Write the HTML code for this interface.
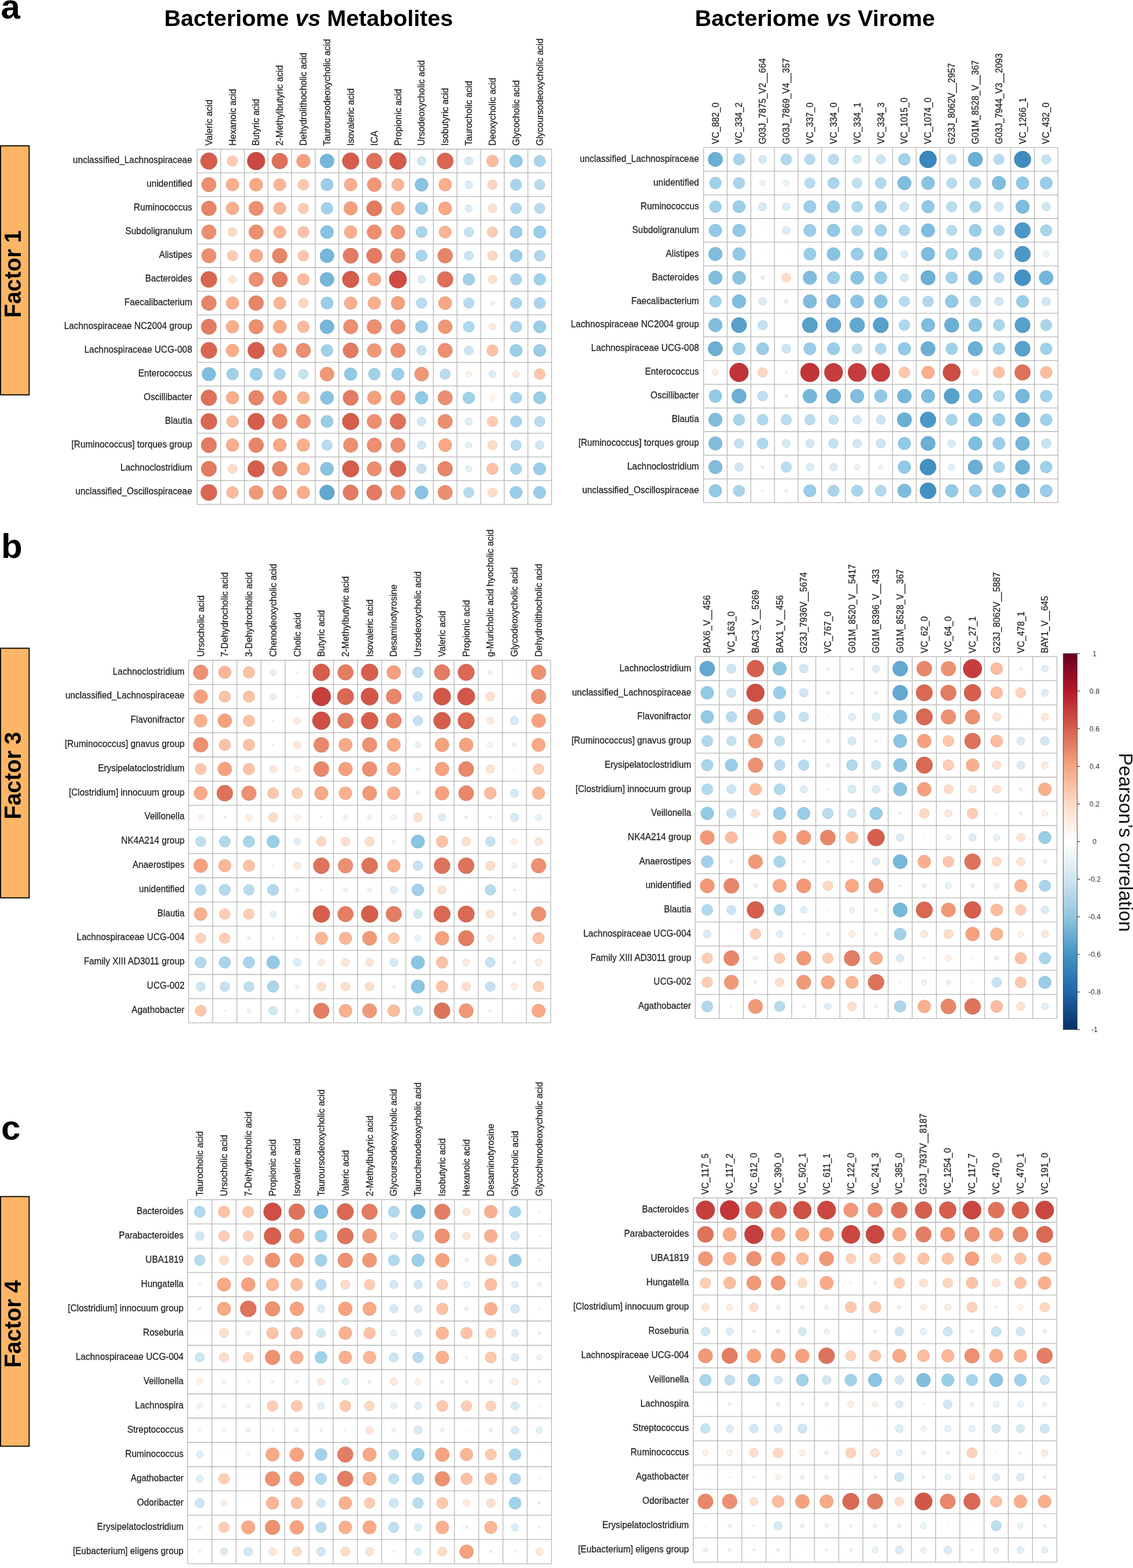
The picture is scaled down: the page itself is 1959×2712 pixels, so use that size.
<!DOCTYPE html><html><head><meta charset="utf-8"><title>Bacteriome correlations</title><style>html,body{margin:0;padding:0;background:#fff;}svg{display:block;filter:blur(0.4px);}text{font-family:"Liberation Sans",Arial,Helvetica,sans-serif;}</style></head><body>
<svg width="1959" height="2712" viewBox="0 0 1959 2712">
<rect x="0" y="0" width="1959" height="2712" fill="#fff"/>
<text x="1.5" y="31.5" font-size="60" font-weight="bold" fill="#000">a</text>
<text x="2" y="964.5" font-size="60" font-weight="bold" fill="#000">b</text>
<text x="2" y="1971" font-size="60" font-weight="bold" fill="#000">c</text>
<text x="284" y="44.7" font-size="39.6" font-weight="bold" fill="#000">Bacteriome <tspan font-style="italic">vs</tspan> Metabolites</text>
<text x="1201.5" y="44.9" font-size="39.6" font-weight="bold" fill="#000">Bacteriome <tspan font-style="italic">vs</tspan> Virome</text>
<rect x="1" y="252.2" width="49.4" height="430.7" fill="#FDB566" stroke="#1a1008" stroke-width="2"/>
<text transform="translate(35.5,473.9) rotate(-90) scale(0.937,1)" text-anchor="middle" font-size="41.5" font-weight="bold" fill="#000">Factor 1</text>
<rect x="1" y="1121.2" width="49.4" height="431.7" fill="#FDB566" stroke="#1a1008" stroke-width="2"/>
<text transform="translate(35.5,1341.4) rotate(-90) scale(0.937,1)" text-anchor="middle" font-size="41.5" font-weight="bold" fill="#000">Factor 3</text>
<rect x="1" y="2069.6" width="49.4" height="431.8" fill="#FDB566" stroke="#1a1008" stroke-width="2"/>
<text transform="translate(35.5,2289.9) rotate(-90) scale(0.937,1)" text-anchor="middle" font-size="41.5" font-weight="bold" fill="#000">Factor 4</text>
<g stroke="#b6b6b6" stroke-width="1.3" fill="none">
<line x1="340.70" y1="258.00" x2="340.70" y2="872.30"/>
<line x1="340.70" y1="258.00" x2="953.60" y2="258.00"/>
<line x1="381.56" y1="258.00" x2="381.56" y2="872.30"/>
<line x1="340.70" y1="298.95" x2="953.60" y2="298.95"/>
<line x1="422.42" y1="258.00" x2="422.42" y2="872.30"/>
<line x1="340.70" y1="339.91" x2="953.60" y2="339.91"/>
<line x1="463.28" y1="258.00" x2="463.28" y2="872.30"/>
<line x1="340.70" y1="380.86" x2="953.60" y2="380.86"/>
<line x1="504.14" y1="258.00" x2="504.14" y2="872.30"/>
<line x1="340.70" y1="421.81" x2="953.60" y2="421.81"/>
<line x1="545.00" y1="258.00" x2="545.00" y2="872.30"/>
<line x1="340.70" y1="462.77" x2="953.60" y2="462.77"/>
<line x1="585.86" y1="258.00" x2="585.86" y2="872.30"/>
<line x1="340.70" y1="503.72" x2="953.60" y2="503.72"/>
<line x1="626.72" y1="258.00" x2="626.72" y2="872.30"/>
<line x1="340.70" y1="544.67" x2="953.60" y2="544.67"/>
<line x1="667.58" y1="258.00" x2="667.58" y2="872.30"/>
<line x1="340.70" y1="585.63" x2="953.60" y2="585.63"/>
<line x1="708.44" y1="258.00" x2="708.44" y2="872.30"/>
<line x1="340.70" y1="626.58" x2="953.60" y2="626.58"/>
<line x1="749.30" y1="258.00" x2="749.30" y2="872.30"/>
<line x1="340.70" y1="667.53" x2="953.60" y2="667.53"/>
<line x1="790.16" y1="258.00" x2="790.16" y2="872.30"/>
<line x1="340.70" y1="708.49" x2="953.60" y2="708.49"/>
<line x1="831.02" y1="258.00" x2="831.02" y2="872.30"/>
<line x1="340.70" y1="749.44" x2="953.60" y2="749.44"/>
<line x1="871.88" y1="258.00" x2="871.88" y2="872.30"/>
<line x1="340.70" y1="790.39" x2="953.60" y2="790.39"/>
<line x1="912.74" y1="258.00" x2="912.74" y2="872.30"/>
<line x1="340.70" y1="831.35" x2="953.60" y2="831.35"/>
<line x1="953.60" y1="258.00" x2="953.60" y2="872.30"/>
<line x1="340.70" y1="872.30" x2="953.60" y2="872.30"/>
</g>
<circle cx="361.13" cy="278.48" r="14.46" fill="#d45d4c" stroke="#a94a3c" stroke-opacity="0.55" stroke-width="0.8"/>
<circle cx="401.99" cy="278.48" r="9.16" fill="#ffccb2" stroke="#cca38e" stroke-opacity="0.55" stroke-width="0.8"/>
<circle cx="442.85" cy="278.48" r="15.41" fill="#cb4942" stroke="#a23a34" stroke-opacity="0.55" stroke-width="0.8"/>
<circle cx="483.71" cy="278.48" r="13.70" fill="#dd715a" stroke="#b05a48" stroke-opacity="0.55" stroke-width="0.8"/>
<circle cx="524.57" cy="278.48" r="11.81" fill="#f5a07d" stroke="#c48064" stroke-opacity="0.55" stroke-width="0.8"/>
<circle cx="565.43" cy="278.48" r="12.19" fill="#75b7da" stroke="#5d92ae" stroke-opacity="0.55" stroke-width="0.8"/>
<circle cx="606.29" cy="278.48" r="14.46" fill="#d45d4c" stroke="#a94a3c" stroke-opacity="0.55" stroke-width="0.8"/>
<circle cx="647.15" cy="278.48" r="13.70" fill="#dd715a" stroke="#b05a48" stroke-opacity="0.55" stroke-width="0.8"/>
<circle cx="688.01" cy="278.48" r="14.65" fill="#d3594a" stroke="#a8473b" stroke-opacity="0.55" stroke-width="0.8"/>
<circle cx="728.87" cy="278.48" r="7.73" fill="#cee7f3" stroke="#a4b8c2" stroke-opacity="0.55" stroke-width="0.8"/>
<circle cx="769.73" cy="278.48" r="14.08" fill="#d96652" stroke="#ad5141" stroke-opacity="0.55" stroke-width="0.8"/>
<circle cx="810.59" cy="278.48" r="7.11" fill="#d4eaf5" stroke="#a9bbc4" stroke-opacity="0.55" stroke-width="0.8"/>
<circle cx="851.45" cy="278.48" r="10.30" fill="#fcbb9c" stroke="#c9957c" stroke-opacity="0.55" stroke-width="0.8"/>
<circle cx="892.31" cy="278.48" r="11.06" fill="#91c9e6" stroke="#74a0b8" stroke-opacity="0.55" stroke-width="0.8"/>
<circle cx="933.17" cy="278.48" r="9.92" fill="#a8d5ec" stroke="#86aabc" stroke-opacity="0.55" stroke-width="0.8"/>
<circle cx="361.13" cy="319.43" r="12.57" fill="#ec8e70" stroke="#bc7159" stroke-opacity="0.55" stroke-width="0.8"/>
<circle cx="401.99" cy="319.43" r="11.06" fill="#faae8c" stroke="#c88b70" stroke-opacity="0.55" stroke-width="0.8"/>
<circle cx="442.85" cy="319.43" r="11.43" fill="#f8a884" stroke="#c68669" stroke-opacity="0.55" stroke-width="0.8"/>
<circle cx="483.71" cy="319.43" r="10.68" fill="#fbb594" stroke="#c89076" stroke-opacity="0.55" stroke-width="0.8"/>
<circle cx="524.57" cy="319.43" r="9.54" fill="#fec7ab" stroke="#cb9f88" stroke-opacity="0.55" stroke-width="0.8"/>
<circle cx="565.43" cy="319.43" r="10.68" fill="#99cde8" stroke="#7aa4b9" stroke-opacity="0.55" stroke-width="0.8"/>
<circle cx="606.29" cy="319.43" r="11.06" fill="#faae8c" stroke="#c88b70" stroke-opacity="0.55" stroke-width="0.8"/>
<circle cx="647.15" cy="319.43" r="12.19" fill="#f09776" stroke="#c0785e" stroke-opacity="0.55" stroke-width="0.8"/>
<circle cx="688.01" cy="319.43" r="10.68" fill="#fbb594" stroke="#c89076" stroke-opacity="0.55" stroke-width="0.8"/>
<circle cx="728.87" cy="319.43" r="11.43" fill="#88c4e2" stroke="#6c9cb4" stroke-opacity="0.55" stroke-width="0.8"/>
<circle cx="769.73" cy="319.43" r="11.06" fill="#faae8c" stroke="#c88b70" stroke-opacity="0.55" stroke-width="0.8"/>
<circle cx="810.59" cy="319.43" r="6.70" fill="#d9ecf7" stroke="#adbcc5" stroke-opacity="0.55" stroke-width="0.8"/>
<circle cx="851.45" cy="319.43" r="8.35" fill="#ffd6c0" stroke="#ccab99" stroke-opacity="0.55" stroke-width="0.8"/>
<circle cx="892.31" cy="319.43" r="9.92" fill="#a8d5ec" stroke="#86aabc" stroke-opacity="0.55" stroke-width="0.8"/>
<circle cx="933.17" cy="319.43" r="9.16" fill="#b7dcef" stroke="#92b0bf" stroke-opacity="0.55" stroke-width="0.8"/>
<circle cx="361.13" cy="360.38" r="12.95" fill="#e78568" stroke="#b86a53" stroke-opacity="0.55" stroke-width="0.8"/>
<circle cx="401.99" cy="360.38" r="11.06" fill="#faae8c" stroke="#c88b70" stroke-opacity="0.55" stroke-width="0.8"/>
<circle cx="442.85" cy="360.38" r="12.57" fill="#ec8e70" stroke="#bc7159" stroke-opacity="0.55" stroke-width="0.8"/>
<circle cx="483.71" cy="360.38" r="10.68" fill="#fbb594" stroke="#c89076" stroke-opacity="0.55" stroke-width="0.8"/>
<circle cx="524.57" cy="360.38" r="9.16" fill="#ffccb2" stroke="#cca38e" stroke-opacity="0.55" stroke-width="0.8"/>
<circle cx="565.43" cy="360.38" r="10.30" fill="#a0d1ea" stroke="#80a7bb" stroke-opacity="0.55" stroke-width="0.8"/>
<circle cx="606.29" cy="360.38" r="11.81" fill="#f5a07d" stroke="#c48064" stroke-opacity="0.55" stroke-width="0.8"/>
<circle cx="647.15" cy="360.38" r="13.33" fill="#e27b62" stroke="#b4624e" stroke-opacity="0.55" stroke-width="0.8"/>
<circle cx="688.01" cy="360.38" r="11.43" fill="#f8a884" stroke="#c68669" stroke-opacity="0.55" stroke-width="0.8"/>
<circle cx="728.87" cy="360.38" r="10.68" fill="#99cde8" stroke="#7aa4b9" stroke-opacity="0.55" stroke-width="0.8"/>
<circle cx="769.73" cy="360.38" r="11.43" fill="#f8a884" stroke="#c68669" stroke-opacity="0.55" stroke-width="0.8"/>
<circle cx="810.59" cy="360.38" r="6.29" fill="#dceef8" stroke="#b0bec6" stroke-opacity="0.55" stroke-width="0.8"/>
<circle cx="851.45" cy="360.38" r="7.52" fill="#ffdfcb" stroke="#ccb2a2" stroke-opacity="0.55" stroke-width="0.8"/>
<circle cx="892.31" cy="360.38" r="9.54" fill="#afd8ee" stroke="#8cacbe" stroke-opacity="0.55" stroke-width="0.8"/>
<circle cx="933.17" cy="360.38" r="9.16" fill="#b7dcef" stroke="#92b0bf" stroke-opacity="0.55" stroke-width="0.8"/>
<circle cx="361.13" cy="401.34" r="12.57" fill="#ec8e70" stroke="#bc7159" stroke-opacity="0.55" stroke-width="0.8"/>
<circle cx="401.99" cy="401.34" r="7.94" fill="#ffdcc6" stroke="#ccb09e" stroke-opacity="0.55" stroke-width="0.8"/>
<circle cx="442.85" cy="401.34" r="12.57" fill="#ec8e70" stroke="#bc7159" stroke-opacity="0.55" stroke-width="0.8"/>
<circle cx="483.71" cy="401.34" r="10.68" fill="#fbb594" stroke="#c89076" stroke-opacity="0.55" stroke-width="0.8"/>
<circle cx="524.57" cy="401.34" r="9.92" fill="#fdc1a4" stroke="#ca9a83" stroke-opacity="0.55" stroke-width="0.8"/>
<circle cx="565.43" cy="401.34" r="11.43" fill="#88c4e2" stroke="#6c9cb4" stroke-opacity="0.55" stroke-width="0.8"/>
<circle cx="606.29" cy="401.34" r="11.06" fill="#faae8c" stroke="#c88b70" stroke-opacity="0.55" stroke-width="0.8"/>
<circle cx="647.15" cy="401.34" r="12.57" fill="#ec8e70" stroke="#bc7159" stroke-opacity="0.55" stroke-width="0.8"/>
<circle cx="688.01" cy="401.34" r="12.19" fill="#f09776" stroke="#c0785e" stroke-opacity="0.55" stroke-width="0.8"/>
<circle cx="728.87" cy="401.34" r="9.92" fill="#a8d5ec" stroke="#86aabc" stroke-opacity="0.55" stroke-width="0.8"/>
<circle cx="769.73" cy="401.34" r="10.68" fill="#fbb594" stroke="#c89076" stroke-opacity="0.55" stroke-width="0.8"/>
<circle cx="810.59" cy="401.34" r="8.35" fill="#c4e2f2" stroke="#9cb4c1" stroke-opacity="0.55" stroke-width="0.8"/>
<circle cx="851.45" cy="401.34" r="9.16" fill="#ffccb2" stroke="#cca38e" stroke-opacity="0.55" stroke-width="0.8"/>
<circle cx="892.31" cy="401.34" r="10.68" fill="#99cde8" stroke="#7aa4b9" stroke-opacity="0.55" stroke-width="0.8"/>
<circle cx="933.17" cy="401.34" r="10.68" fill="#99cde8" stroke="#7aa4b9" stroke-opacity="0.55" stroke-width="0.8"/>
<circle cx="361.13" cy="442.29" r="12.57" fill="#ec8e70" stroke="#bc7159" stroke-opacity="0.55" stroke-width="0.8"/>
<circle cx="401.99" cy="442.29" r="9.16" fill="#ffccb2" stroke="#cca38e" stroke-opacity="0.55" stroke-width="0.8"/>
<circle cx="442.85" cy="442.29" r="11.43" fill="#f8a884" stroke="#c68669" stroke-opacity="0.55" stroke-width="0.8"/>
<circle cx="483.71" cy="442.29" r="12.95" fill="#e78568" stroke="#b86a53" stroke-opacity="0.55" stroke-width="0.8"/>
<circle cx="524.57" cy="442.29" r="9.54" fill="#fec7ab" stroke="#cb9f88" stroke-opacity="0.55" stroke-width="0.8"/>
<circle cx="565.43" cy="442.29" r="12.19" fill="#75b7da" stroke="#5d92ae" stroke-opacity="0.55" stroke-width="0.8"/>
<circle cx="606.29" cy="442.29" r="13.33" fill="#e27b62" stroke="#b4624e" stroke-opacity="0.55" stroke-width="0.8"/>
<circle cx="647.15" cy="442.29" r="13.33" fill="#e27b62" stroke="#b4624e" stroke-opacity="0.55" stroke-width="0.8"/>
<circle cx="688.01" cy="442.29" r="12.57" fill="#ec8e70" stroke="#bc7159" stroke-opacity="0.55" stroke-width="0.8"/>
<circle cx="728.87" cy="442.29" r="9.92" fill="#a8d5ec" stroke="#86aabc" stroke-opacity="0.55" stroke-width="0.8"/>
<circle cx="769.73" cy="442.29" r="12.95" fill="#e78568" stroke="#b86a53" stroke-opacity="0.55" stroke-width="0.8"/>
<circle cx="810.59" cy="442.29" r="7.94" fill="#cae5f4" stroke="#a1b7c3" stroke-opacity="0.55" stroke-width="0.8"/>
<circle cx="851.45" cy="442.29" r="8.35" fill="#ffd6c0" stroke="#ccab99" stroke-opacity="0.55" stroke-width="0.8"/>
<circle cx="892.31" cy="442.29" r="10.68" fill="#99cde8" stroke="#7aa4b9" stroke-opacity="0.55" stroke-width="0.8"/>
<circle cx="933.17" cy="442.29" r="9.54" fill="#afd8ee" stroke="#8cacbe" stroke-opacity="0.55" stroke-width="0.8"/>
<circle cx="361.13" cy="483.24" r="14.08" fill="#d96652" stroke="#ad5141" stroke-opacity="0.55" stroke-width="0.8"/>
<circle cx="401.99" cy="483.24" r="6.70" fill="#ffe5d4" stroke="#ccb7a9" stroke-opacity="0.55" stroke-width="0.8"/>
<circle cx="442.85" cy="483.24" r="12.57" fill="#ec8e70" stroke="#bc7159" stroke-opacity="0.55" stroke-width="0.8"/>
<circle cx="483.71" cy="483.24" r="13.33" fill="#e27b62" stroke="#b4624e" stroke-opacity="0.55" stroke-width="0.8"/>
<circle cx="524.57" cy="483.24" r="10.30" fill="#fcbb9c" stroke="#c9957c" stroke-opacity="0.55" stroke-width="0.8"/>
<circle cx="565.43" cy="483.24" r="12.19" fill="#75b7da" stroke="#5d92ae" stroke-opacity="0.55" stroke-width="0.8"/>
<circle cx="606.29" cy="483.24" r="14.46" fill="#d45d4c" stroke="#a94a3c" stroke-opacity="0.55" stroke-width="0.8"/>
<circle cx="647.15" cy="483.24" r="11.43" fill="#f8a884" stroke="#c68669" stroke-opacity="0.55" stroke-width="0.8"/>
<circle cx="688.01" cy="483.24" r="15.22" fill="#cd4d44" stroke="#a43d36" stroke-opacity="0.55" stroke-width="0.8"/>
<circle cx="728.87" cy="483.24" r="6.70" fill="#d9ecf7" stroke="#adbcc5" stroke-opacity="0.55" stroke-width="0.8"/>
<circle cx="769.73" cy="483.24" r="13.70" fill="#dd715a" stroke="#b05a48" stroke-opacity="0.55" stroke-width="0.8"/>
<circle cx="810.59" cy="483.24" r="10.30" fill="#a0d1ea" stroke="#80a7bb" stroke-opacity="0.55" stroke-width="0.8"/>
<circle cx="851.45" cy="483.24" r="7.52" fill="#ffdfcb" stroke="#ccb2a2" stroke-opacity="0.55" stroke-width="0.8"/>
<circle cx="892.31" cy="483.24" r="9.92" fill="#a8d5ec" stroke="#86aabc" stroke-opacity="0.55" stroke-width="0.8"/>
<circle cx="933.17" cy="483.24" r="10.30" fill="#a0d1ea" stroke="#80a7bb" stroke-opacity="0.55" stroke-width="0.8"/>
<circle cx="361.13" cy="524.20" r="12.95" fill="#e78568" stroke="#b86a53" stroke-opacity="0.55" stroke-width="0.8"/>
<circle cx="401.99" cy="524.20" r="11.06" fill="#faae8c" stroke="#c88b70" stroke-opacity="0.55" stroke-width="0.8"/>
<circle cx="442.85" cy="524.20" r="12.95" fill="#e78568" stroke="#b86a53" stroke-opacity="0.55" stroke-width="0.8"/>
<circle cx="483.71" cy="524.20" r="10.68" fill="#fbb594" stroke="#c89076" stroke-opacity="0.55" stroke-width="0.8"/>
<circle cx="524.57" cy="524.20" r="8.35" fill="#ffd6c0" stroke="#ccab99" stroke-opacity="0.55" stroke-width="0.8"/>
<circle cx="565.43" cy="524.20" r="10.68" fill="#99cde8" stroke="#7aa4b9" stroke-opacity="0.55" stroke-width="0.8"/>
<circle cx="606.29" cy="524.20" r="11.06" fill="#faae8c" stroke="#c88b70" stroke-opacity="0.55" stroke-width="0.8"/>
<circle cx="647.15" cy="524.20" r="11.06" fill="#faae8c" stroke="#c88b70" stroke-opacity="0.55" stroke-width="0.8"/>
<circle cx="688.01" cy="524.20" r="11.81" fill="#f5a07d" stroke="#c48064" stroke-opacity="0.55" stroke-width="0.8"/>
<circle cx="728.87" cy="524.20" r="9.16" fill="#b7dcef" stroke="#92b0bf" stroke-opacity="0.55" stroke-width="0.8"/>
<circle cx="769.73" cy="524.20" r="11.43" fill="#f8a884" stroke="#c68669" stroke-opacity="0.55" stroke-width="0.8"/>
<circle cx="810.59" cy="524.20" r="9.16" fill="#b7dcef" stroke="#92b0bf" stroke-opacity="0.55" stroke-width="0.8"/>
<circle cx="851.45" cy="524.20" r="4.56" fill="#f6ece7"/>
<circle cx="892.31" cy="524.20" r="9.92" fill="#a8d5ec" stroke="#86aabc" stroke-opacity="0.55" stroke-width="0.8"/>
<circle cx="933.17" cy="524.20" r="9.92" fill="#a8d5ec" stroke="#86aabc" stroke-opacity="0.55" stroke-width="0.8"/>
<circle cx="361.13" cy="565.15" r="13.33" fill="#e27b62" stroke="#b4624e" stroke-opacity="0.55" stroke-width="0.8"/>
<circle cx="401.99" cy="565.15" r="11.06" fill="#faae8c" stroke="#c88b70" stroke-opacity="0.55" stroke-width="0.8"/>
<circle cx="442.85" cy="565.15" r="12.57" fill="#ec8e70" stroke="#bc7159" stroke-opacity="0.55" stroke-width="0.8"/>
<circle cx="483.71" cy="565.15" r="11.43" fill="#f8a884" stroke="#c68669" stroke-opacity="0.55" stroke-width="0.8"/>
<circle cx="524.57" cy="565.15" r="10.30" fill="#fcbb9c" stroke="#c9957c" stroke-opacity="0.55" stroke-width="0.8"/>
<circle cx="565.43" cy="565.15" r="12.19" fill="#75b7da" stroke="#5d92ae" stroke-opacity="0.55" stroke-width="0.8"/>
<circle cx="606.29" cy="565.15" r="12.57" fill="#ec8e70" stroke="#bc7159" stroke-opacity="0.55" stroke-width="0.8"/>
<circle cx="647.15" cy="565.15" r="12.57" fill="#ec8e70" stroke="#bc7159" stroke-opacity="0.55" stroke-width="0.8"/>
<circle cx="688.01" cy="565.15" r="12.57" fill="#ec8e70" stroke="#bc7159" stroke-opacity="0.55" stroke-width="0.8"/>
<circle cx="728.87" cy="565.15" r="10.68" fill="#99cde8" stroke="#7aa4b9" stroke-opacity="0.55" stroke-width="0.8"/>
<circle cx="769.73" cy="565.15" r="12.19" fill="#f09776" stroke="#c0785e" stroke-opacity="0.55" stroke-width="0.8"/>
<circle cx="810.59" cy="565.15" r="9.54" fill="#afd8ee" stroke="#8cacbe" stroke-opacity="0.55" stroke-width="0.8"/>
<circle cx="851.45" cy="565.15" r="5.88" fill="#ffeadd" stroke="#ccbbb0" stroke-opacity="0.55" stroke-width="0.8"/>
<circle cx="892.31" cy="565.15" r="9.92" fill="#a8d5ec" stroke="#86aabc" stroke-opacity="0.55" stroke-width="0.8"/>
<circle cx="933.17" cy="565.15" r="10.68" fill="#99cde8" stroke="#7aa4b9" stroke-opacity="0.55" stroke-width="0.8"/>
<circle cx="361.13" cy="606.10" r="14.08" fill="#d96652" stroke="#ad5141" stroke-opacity="0.55" stroke-width="0.8"/>
<circle cx="401.99" cy="606.10" r="11.06" fill="#faae8c" stroke="#c88b70" stroke-opacity="0.55" stroke-width="0.8"/>
<circle cx="442.85" cy="606.10" r="14.46" fill="#d45d4c" stroke="#a94a3c" stroke-opacity="0.55" stroke-width="0.8"/>
<circle cx="483.71" cy="606.10" r="12.19" fill="#f09776" stroke="#c0785e" stroke-opacity="0.55" stroke-width="0.8"/>
<circle cx="524.57" cy="606.10" r="12.57" fill="#ec8e70" stroke="#bc7159" stroke-opacity="0.55" stroke-width="0.8"/>
<circle cx="565.43" cy="606.10" r="10.30" fill="#a0d1ea" stroke="#80a7bb" stroke-opacity="0.55" stroke-width="0.8"/>
<circle cx="606.29" cy="606.10" r="13.33" fill="#e27b62" stroke="#b4624e" stroke-opacity="0.55" stroke-width="0.8"/>
<circle cx="647.15" cy="606.10" r="12.19" fill="#f09776" stroke="#c0785e" stroke-opacity="0.55" stroke-width="0.8"/>
<circle cx="688.01" cy="606.10" r="12.57" fill="#ec8e70" stroke="#bc7159" stroke-opacity="0.55" stroke-width="0.8"/>
<circle cx="728.87" cy="606.10" r="8.35" fill="#c4e2f2" stroke="#9cb4c1" stroke-opacity="0.55" stroke-width="0.8"/>
<circle cx="769.73" cy="606.10" r="12.57" fill="#ec8e70" stroke="#bc7159" stroke-opacity="0.55" stroke-width="0.8"/>
<circle cx="810.59" cy="606.10" r="7.94" fill="#cae5f4" stroke="#a1b7c3" stroke-opacity="0.55" stroke-width="0.8"/>
<circle cx="851.45" cy="606.10" r="9.92" fill="#fdc1a4" stroke="#ca9a83" stroke-opacity="0.55" stroke-width="0.8"/>
<circle cx="892.31" cy="606.10" r="10.68" fill="#99cde8" stroke="#7aa4b9" stroke-opacity="0.55" stroke-width="0.8"/>
<circle cx="933.17" cy="606.10" r="10.68" fill="#99cde8" stroke="#7aa4b9" stroke-opacity="0.55" stroke-width="0.8"/>
<circle cx="361.13" cy="647.06" r="11.81" fill="#7fbede" stroke="#6598b1" stroke-opacity="0.55" stroke-width="0.8"/>
<circle cx="401.99" cy="647.06" r="10.30" fill="#a0d1ea" stroke="#80a7bb" stroke-opacity="0.55" stroke-width="0.8"/>
<circle cx="442.85" cy="647.06" r="10.68" fill="#99cde8" stroke="#7aa4b9" stroke-opacity="0.55" stroke-width="0.8"/>
<circle cx="483.71" cy="647.06" r="9.92" fill="#a8d5ec" stroke="#86aabc" stroke-opacity="0.55" stroke-width="0.8"/>
<circle cx="524.57" cy="647.06" r="8.35" fill="#c4e2f2" stroke="#9cb4c1" stroke-opacity="0.55" stroke-width="0.8"/>
<circle cx="565.43" cy="647.06" r="12.19" fill="#f09776" stroke="#c0785e" stroke-opacity="0.55" stroke-width="0.8"/>
<circle cx="606.29" cy="647.06" r="11.06" fill="#91c9e6" stroke="#74a0b8" stroke-opacity="0.55" stroke-width="0.8"/>
<circle cx="647.15" cy="647.06" r="10.30" fill="#a0d1ea" stroke="#80a7bb" stroke-opacity="0.55" stroke-width="0.8"/>
<circle cx="688.01" cy="647.06" r="10.68" fill="#99cde8" stroke="#7aa4b9" stroke-opacity="0.55" stroke-width="0.8"/>
<circle cx="728.87" cy="647.06" r="12.19" fill="#f09776" stroke="#c0785e" stroke-opacity="0.55" stroke-width="0.8"/>
<circle cx="769.73" cy="647.06" r="9.16" fill="#b7dcef" stroke="#92b0bf" stroke-opacity="0.55" stroke-width="0.8"/>
<circle cx="810.59" cy="647.06" r="4.67" fill="#fff1e8" stroke="#ccc0b9" stroke-opacity="0.55" stroke-width="0.8"/>
<circle cx="851.45" cy="647.06" r="6.29" fill="#dceef8" stroke="#b0bec6" stroke-opacity="0.55" stroke-width="0.8"/>
<circle cx="892.31" cy="647.06" r="5.88" fill="#ffeadd" stroke="#ccbbb0" stroke-opacity="0.55" stroke-width="0.8"/>
<circle cx="933.17" cy="647.06" r="9.54" fill="#fec7ab" stroke="#cb9f88" stroke-opacity="0.55" stroke-width="0.8"/>
<circle cx="361.13" cy="688.01" r="13.70" fill="#dd715a" stroke="#b05a48" stroke-opacity="0.55" stroke-width="0.8"/>
<circle cx="401.99" cy="688.01" r="11.06" fill="#faae8c" stroke="#c88b70" stroke-opacity="0.55" stroke-width="0.8"/>
<circle cx="442.85" cy="688.01" r="12.95" fill="#e78568" stroke="#b86a53" stroke-opacity="0.55" stroke-width="0.8"/>
<circle cx="483.71" cy="688.01" r="12.19" fill="#f09776" stroke="#c0785e" stroke-opacity="0.55" stroke-width="0.8"/>
<circle cx="524.57" cy="688.01" r="10.68" fill="#fbb594" stroke="#c89076" stroke-opacity="0.55" stroke-width="0.8"/>
<circle cx="565.43" cy="688.01" r="11.43" fill="#88c4e2" stroke="#6c9cb4" stroke-opacity="0.55" stroke-width="0.8"/>
<circle cx="606.29" cy="688.01" r="13.33" fill="#e27b62" stroke="#b4624e" stroke-opacity="0.55" stroke-width="0.8"/>
<circle cx="647.15" cy="688.01" r="11.81" fill="#f5a07d" stroke="#c48064" stroke-opacity="0.55" stroke-width="0.8"/>
<circle cx="688.01" cy="688.01" r="12.57" fill="#ec8e70" stroke="#bc7159" stroke-opacity="0.55" stroke-width="0.8"/>
<circle cx="728.87" cy="688.01" r="11.06" fill="#91c9e6" stroke="#74a0b8" stroke-opacity="0.55" stroke-width="0.8"/>
<circle cx="769.73" cy="688.01" r="12.57" fill="#ec8e70" stroke="#bc7159" stroke-opacity="0.55" stroke-width="0.8"/>
<circle cx="810.59" cy="688.01" r="10.30" fill="#a0d1ea" stroke="#80a7bb" stroke-opacity="0.55" stroke-width="0.8"/>
<circle cx="851.45" cy="688.01" r="4.67" fill="#fff1e8" stroke="#ccc0b9" stroke-opacity="0.55" stroke-width="0.8"/>
<circle cx="892.31" cy="688.01" r="9.92" fill="#a8d5ec" stroke="#86aabc" stroke-opacity="0.55" stroke-width="0.8"/>
<circle cx="933.17" cy="688.01" r="10.68" fill="#99cde8" stroke="#7aa4b9" stroke-opacity="0.55" stroke-width="0.8"/>
<circle cx="361.13" cy="728.96" r="14.08" fill="#d96652" stroke="#ad5141" stroke-opacity="0.55" stroke-width="0.8"/>
<circle cx="401.99" cy="728.96" r="10.30" fill="#fcbb9c" stroke="#c9957c" stroke-opacity="0.55" stroke-width="0.8"/>
<circle cx="442.85" cy="728.96" r="14.46" fill="#d45d4c" stroke="#a94a3c" stroke-opacity="0.55" stroke-width="0.8"/>
<circle cx="483.71" cy="728.96" r="12.95" fill="#e78568" stroke="#b86a53" stroke-opacity="0.55" stroke-width="0.8"/>
<circle cx="524.57" cy="728.96" r="12.19" fill="#f09776" stroke="#c0785e" stroke-opacity="0.55" stroke-width="0.8"/>
<circle cx="565.43" cy="728.96" r="10.68" fill="#99cde8" stroke="#7aa4b9" stroke-opacity="0.55" stroke-width="0.8"/>
<circle cx="606.29" cy="728.96" r="14.46" fill="#d45d4c" stroke="#a94a3c" stroke-opacity="0.55" stroke-width="0.8"/>
<circle cx="647.15" cy="728.96" r="12.57" fill="#ec8e70" stroke="#bc7159" stroke-opacity="0.55" stroke-width="0.8"/>
<circle cx="688.01" cy="728.96" r="13.70" fill="#dd715a" stroke="#b05a48" stroke-opacity="0.55" stroke-width="0.8"/>
<circle cx="728.87" cy="728.96" r="7.52" fill="#d0e8f4" stroke="#a6b9c3" stroke-opacity="0.55" stroke-width="0.8"/>
<circle cx="769.73" cy="728.96" r="12.57" fill="#ec8e70" stroke="#bc7159" stroke-opacity="0.55" stroke-width="0.8"/>
<circle cx="810.59" cy="728.96" r="6.29" fill="#dceef8" stroke="#b0bec6" stroke-opacity="0.55" stroke-width="0.8"/>
<circle cx="851.45" cy="728.96" r="9.16" fill="#ffccb2" stroke="#cca38e" stroke-opacity="0.55" stroke-width="0.8"/>
<circle cx="892.31" cy="728.96" r="9.92" fill="#a8d5ec" stroke="#86aabc" stroke-opacity="0.55" stroke-width="0.8"/>
<circle cx="933.17" cy="728.96" r="9.16" fill="#b7dcef" stroke="#92b0bf" stroke-opacity="0.55" stroke-width="0.8"/>
<circle cx="361.13" cy="769.92" r="13.33" fill="#e27b62" stroke="#b4624e" stroke-opacity="0.55" stroke-width="0.8"/>
<circle cx="401.99" cy="769.92" r="11.06" fill="#faae8c" stroke="#c88b70" stroke-opacity="0.55" stroke-width="0.8"/>
<circle cx="442.85" cy="769.92" r="12.95" fill="#e78568" stroke="#b86a53" stroke-opacity="0.55" stroke-width="0.8"/>
<circle cx="483.71" cy="769.92" r="11.43" fill="#f8a884" stroke="#c68669" stroke-opacity="0.55" stroke-width="0.8"/>
<circle cx="524.57" cy="769.92" r="11.06" fill="#faae8c" stroke="#c88b70" stroke-opacity="0.55" stroke-width="0.8"/>
<circle cx="565.43" cy="769.92" r="9.16" fill="#b7dcef" stroke="#92b0bf" stroke-opacity="0.55" stroke-width="0.8"/>
<circle cx="606.29" cy="769.92" r="12.57" fill="#ec8e70" stroke="#bc7159" stroke-opacity="0.55" stroke-width="0.8"/>
<circle cx="647.15" cy="769.92" r="12.57" fill="#ec8e70" stroke="#bc7159" stroke-opacity="0.55" stroke-width="0.8"/>
<circle cx="688.01" cy="769.92" r="12.57" fill="#ec8e70" stroke="#bc7159" stroke-opacity="0.55" stroke-width="0.8"/>
<circle cx="728.87" cy="769.92" r="7.52" fill="#d0e8f4" stroke="#a6b9c3" stroke-opacity="0.55" stroke-width="0.8"/>
<circle cx="769.73" cy="769.92" r="11.43" fill="#f8a884" stroke="#c68669" stroke-opacity="0.55" stroke-width="0.8"/>
<circle cx="810.59" cy="769.92" r="5.47" fill="#e4f1f9" stroke="#b6c0c7" stroke-opacity="0.55" stroke-width="0.8"/>
<circle cx="851.45" cy="769.92" r="7.94" fill="#ffdcc6" stroke="#ccb09e" stroke-opacity="0.55" stroke-width="0.8"/>
<circle cx="892.31" cy="769.92" r="9.16" fill="#b7dcef" stroke="#92b0bf" stroke-opacity="0.55" stroke-width="0.8"/>
<circle cx="933.17" cy="769.92" r="7.52" fill="#d0e8f4" stroke="#a6b9c3" stroke-opacity="0.55" stroke-width="0.8"/>
<circle cx="361.13" cy="810.87" r="13.33" fill="#e27b62" stroke="#b4624e" stroke-opacity="0.55" stroke-width="0.8"/>
<circle cx="401.99" cy="810.87" r="7.94" fill="#ffdcc6" stroke="#ccb09e" stroke-opacity="0.55" stroke-width="0.8"/>
<circle cx="442.85" cy="810.87" r="14.46" fill="#d45d4c" stroke="#a94a3c" stroke-opacity="0.55" stroke-width="0.8"/>
<circle cx="483.71" cy="810.87" r="12.95" fill="#e78568" stroke="#b86a53" stroke-opacity="0.55" stroke-width="0.8"/>
<circle cx="524.57" cy="810.87" r="11.06" fill="#faae8c" stroke="#c88b70" stroke-opacity="0.55" stroke-width="0.8"/>
<circle cx="565.43" cy="810.87" r="11.43" fill="#88c4e2" stroke="#6c9cb4" stroke-opacity="0.55" stroke-width="0.8"/>
<circle cx="606.29" cy="810.87" r="14.46" fill="#d45d4c" stroke="#a94a3c" stroke-opacity="0.55" stroke-width="0.8"/>
<circle cx="647.15" cy="810.87" r="12.57" fill="#ec8e70" stroke="#bc7159" stroke-opacity="0.55" stroke-width="0.8"/>
<circle cx="688.01" cy="810.87" r="14.08" fill="#d96652" stroke="#ad5141" stroke-opacity="0.55" stroke-width="0.8"/>
<circle cx="728.87" cy="810.87" r="8.35" fill="#c4e2f2" stroke="#9cb4c1" stroke-opacity="0.55" stroke-width="0.8"/>
<circle cx="769.73" cy="810.87" r="12.95" fill="#e78568" stroke="#b86a53" stroke-opacity="0.55" stroke-width="0.8"/>
<circle cx="810.59" cy="810.87" r="5.47" fill="#e4f1f9" stroke="#b6c0c7" stroke-opacity="0.55" stroke-width="0.8"/>
<circle cx="851.45" cy="810.87" r="9.92" fill="#fdc1a4" stroke="#ca9a83" stroke-opacity="0.55" stroke-width="0.8"/>
<circle cx="892.31" cy="810.87" r="9.92" fill="#a8d5ec" stroke="#86aabc" stroke-opacity="0.55" stroke-width="0.8"/>
<circle cx="933.17" cy="810.87" r="10.68" fill="#99cde8" stroke="#7aa4b9" stroke-opacity="0.55" stroke-width="0.8"/>
<circle cx="361.13" cy="851.82" r="14.08" fill="#d96652" stroke="#ad5141" stroke-opacity="0.55" stroke-width="0.8"/>
<circle cx="401.99" cy="851.82" r="10.30" fill="#fcbb9c" stroke="#c9957c" stroke-opacity="0.55" stroke-width="0.8"/>
<circle cx="442.85" cy="851.82" r="12.19" fill="#f09776" stroke="#c0785e" stroke-opacity="0.55" stroke-width="0.8"/>
<circle cx="483.71" cy="851.82" r="12.19" fill="#f09776" stroke="#c0785e" stroke-opacity="0.55" stroke-width="0.8"/>
<circle cx="524.57" cy="851.82" r="11.06" fill="#faae8c" stroke="#c88b70" stroke-opacity="0.55" stroke-width="0.8"/>
<circle cx="565.43" cy="851.82" r="12.95" fill="#61a7cf" stroke="#4d85a5" stroke-opacity="0.55" stroke-width="0.8"/>
<circle cx="606.29" cy="851.82" r="13.33" fill="#e27b62" stroke="#b4624e" stroke-opacity="0.55" stroke-width="0.8"/>
<circle cx="647.15" cy="851.82" r="13.33" fill="#e27b62" stroke="#b4624e" stroke-opacity="0.55" stroke-width="0.8"/>
<circle cx="688.01" cy="851.82" r="12.57" fill="#ec8e70" stroke="#bc7159" stroke-opacity="0.55" stroke-width="0.8"/>
<circle cx="728.87" cy="851.82" r="11.43" fill="#88c4e2" stroke="#6c9cb4" stroke-opacity="0.55" stroke-width="0.8"/>
<circle cx="769.73" cy="851.82" r="12.57" fill="#ec8e70" stroke="#bc7159" stroke-opacity="0.55" stroke-width="0.8"/>
<circle cx="810.59" cy="851.82" r="9.16" fill="#b7dcef" stroke="#92b0bf" stroke-opacity="0.55" stroke-width="0.8"/>
<circle cx="851.45" cy="851.82" r="7.94" fill="#ffdcc6" stroke="#ccb09e" stroke-opacity="0.55" stroke-width="0.8"/>
<circle cx="892.31" cy="851.82" r="10.68" fill="#99cde8" stroke="#7aa4b9" stroke-opacity="0.55" stroke-width="0.8"/>
<circle cx="933.17" cy="851.82" r="10.68" fill="#99cde8" stroke="#7aa4b9" stroke-opacity="0.55" stroke-width="0.8"/>
<text transform="translate(332.20,282.08) scale(0.962,1)" text-anchor="end" font-size="16.0" fill="#1e1e1e" stroke="#1e1e1e" stroke-width="0.25">unclassified_Lachnospiraceae</text>
<text transform="translate(332.20,323.03) scale(0.962,1)" text-anchor="end" font-size="16.0" fill="#1e1e1e" stroke="#1e1e1e" stroke-width="0.25">unidentified</text>
<text transform="translate(332.20,363.98) scale(0.962,1)" text-anchor="end" font-size="16.0" fill="#1e1e1e" stroke="#1e1e1e" stroke-width="0.25">Ruminococcus</text>
<text transform="translate(332.20,404.94) scale(0.962,1)" text-anchor="end" font-size="16.0" fill="#1e1e1e" stroke="#1e1e1e" stroke-width="0.25">Subdoligranulum</text>
<text transform="translate(332.20,445.89) scale(0.962,1)" text-anchor="end" font-size="16.0" fill="#1e1e1e" stroke="#1e1e1e" stroke-width="0.25">Alistipes</text>
<text transform="translate(332.20,486.84) scale(0.962,1)" text-anchor="end" font-size="16.0" fill="#1e1e1e" stroke="#1e1e1e" stroke-width="0.25">Bacteroides</text>
<text transform="translate(332.20,527.80) scale(0.962,1)" text-anchor="end" font-size="16.0" fill="#1e1e1e" stroke="#1e1e1e" stroke-width="0.25">Faecalibacterium</text>
<text transform="translate(332.20,568.75) scale(0.962,1)" text-anchor="end" font-size="16.0" fill="#1e1e1e" stroke="#1e1e1e" stroke-width="0.25">Lachnospiraceae NC2004 group</text>
<text transform="translate(332.20,609.70) scale(0.962,1)" text-anchor="end" font-size="16.0" fill="#1e1e1e" stroke="#1e1e1e" stroke-width="0.25">Lachnospiraceae UCG-008</text>
<text transform="translate(332.20,650.66) scale(0.962,1)" text-anchor="end" font-size="16.0" fill="#1e1e1e" stroke="#1e1e1e" stroke-width="0.25">Enterococcus</text>
<text transform="translate(332.20,691.61) scale(0.962,1)" text-anchor="end" font-size="16.0" fill="#1e1e1e" stroke="#1e1e1e" stroke-width="0.25">Oscillibacter</text>
<text transform="translate(332.20,732.56) scale(0.962,1)" text-anchor="end" font-size="16.0" fill="#1e1e1e" stroke="#1e1e1e" stroke-width="0.25">Blautia</text>
<text transform="translate(332.20,773.52) scale(0.962,1)" text-anchor="end" font-size="16.0" fill="#1e1e1e" stroke="#1e1e1e" stroke-width="0.25">[Ruminococcus] torques group</text>
<text transform="translate(332.20,814.47) scale(0.962,1)" text-anchor="end" font-size="16.0" fill="#1e1e1e" stroke="#1e1e1e" stroke-width="0.25">Lachnoclostridium</text>
<text transform="translate(332.20,855.42) scale(0.962,1)" text-anchor="end" font-size="16.0" fill="#1e1e1e" stroke="#1e1e1e" stroke-width="0.25">unclassified_Oscillospiraceae</text>
<text transform="translate(366.73,252.10) rotate(-90) scale(0.98,1)" font-size="16.0" fill="#1e1e1e" stroke="#1e1e1e" stroke-width="0.25">Valeric acid</text>
<text transform="translate(407.59,252.10) rotate(-90) scale(0.98,1)" font-size="16.0" fill="#1e1e1e" stroke="#1e1e1e" stroke-width="0.25">Hexanoic acid</text>
<text transform="translate(448.45,252.10) rotate(-90) scale(0.98,1)" font-size="16.0" fill="#1e1e1e" stroke="#1e1e1e" stroke-width="0.25">Butyric acid</text>
<text transform="translate(489.31,252.10) rotate(-90) scale(0.98,1)" font-size="16.0" fill="#1e1e1e" stroke="#1e1e1e" stroke-width="0.25">2-Methylbutyric acid</text>
<text transform="translate(530.17,252.10) rotate(-90) scale(0.98,1)" font-size="16.0" fill="#1e1e1e" stroke="#1e1e1e" stroke-width="0.25">Dehydrolithocholic acid</text>
<text transform="translate(571.03,252.10) rotate(-90) scale(0.98,1)" font-size="16.0" fill="#1e1e1e" stroke="#1e1e1e" stroke-width="0.25">Tauroursodeoxycholic acid</text>
<text transform="translate(611.89,252.10) rotate(-90) scale(0.98,1)" font-size="16.0" fill="#1e1e1e" stroke="#1e1e1e" stroke-width="0.25">Isovaleric acid</text>
<text transform="translate(652.75,252.10) rotate(-90) scale(0.98,1)" font-size="16.0" fill="#1e1e1e" stroke="#1e1e1e" stroke-width="0.25">ICA</text>
<text transform="translate(693.61,252.10) rotate(-90) scale(0.98,1)" font-size="16.0" fill="#1e1e1e" stroke="#1e1e1e" stroke-width="0.25">Propionic acid</text>
<text transform="translate(734.47,252.10) rotate(-90) scale(0.98,1)" font-size="16.0" fill="#1e1e1e" stroke="#1e1e1e" stroke-width="0.25">Ursodeoxycholic acid</text>
<text transform="translate(775.33,252.10) rotate(-90) scale(0.98,1)" font-size="16.0" fill="#1e1e1e" stroke="#1e1e1e" stroke-width="0.25">Isobutyric acid</text>
<text transform="translate(816.19,252.10) rotate(-90) scale(0.98,1)" font-size="16.0" fill="#1e1e1e" stroke="#1e1e1e" stroke-width="0.25">Taurocholic acid</text>
<text transform="translate(857.05,252.10) rotate(-90) scale(0.98,1)" font-size="16.0" fill="#1e1e1e" stroke="#1e1e1e" stroke-width="0.25">Deoxycholic acid</text>
<text transform="translate(897.91,252.10) rotate(-90) scale(0.98,1)" font-size="16.0" fill="#1e1e1e" stroke="#1e1e1e" stroke-width="0.25">Glycocholic acid</text>
<text transform="translate(938.77,252.10) rotate(-90) scale(0.98,1)" font-size="16.0" fill="#1e1e1e" stroke="#1e1e1e" stroke-width="0.25">Glycoursodeoxycholic acid</text>
<g stroke="#b6b6b6" stroke-width="1.3" fill="none">
<line x1="1216.50" y1="255.20" x2="1216.50" y2="869.30"/>
<line x1="1216.50" y1="255.20" x2="1829.30" y2="255.20"/>
<line x1="1257.35" y1="255.20" x2="1257.35" y2="869.30"/>
<line x1="1216.50" y1="296.14" x2="1829.30" y2="296.14"/>
<line x1="1298.21" y1="255.20" x2="1298.21" y2="869.30"/>
<line x1="1216.50" y1="337.08" x2="1829.30" y2="337.08"/>
<line x1="1339.06" y1="255.20" x2="1339.06" y2="869.30"/>
<line x1="1216.50" y1="378.02" x2="1829.30" y2="378.02"/>
<line x1="1379.91" y1="255.20" x2="1379.91" y2="869.30"/>
<line x1="1216.50" y1="418.96" x2="1829.30" y2="418.96"/>
<line x1="1420.77" y1="255.20" x2="1420.77" y2="869.30"/>
<line x1="1216.50" y1="459.90" x2="1829.30" y2="459.90"/>
<line x1="1461.62" y1="255.20" x2="1461.62" y2="869.30"/>
<line x1="1216.50" y1="500.84" x2="1829.30" y2="500.84"/>
<line x1="1502.47" y1="255.20" x2="1502.47" y2="869.30"/>
<line x1="1216.50" y1="541.78" x2="1829.30" y2="541.78"/>
<line x1="1543.33" y1="255.20" x2="1543.33" y2="869.30"/>
<line x1="1216.50" y1="582.72" x2="1829.30" y2="582.72"/>
<line x1="1584.18" y1="255.20" x2="1584.18" y2="869.30"/>
<line x1="1216.50" y1="623.66" x2="1829.30" y2="623.66"/>
<line x1="1625.03" y1="255.20" x2="1625.03" y2="869.30"/>
<line x1="1216.50" y1="664.60" x2="1829.30" y2="664.60"/>
<line x1="1665.89" y1="255.20" x2="1665.89" y2="869.30"/>
<line x1="1216.50" y1="705.54" x2="1829.30" y2="705.54"/>
<line x1="1706.74" y1="255.20" x2="1706.74" y2="869.30"/>
<line x1="1216.50" y1="746.48" x2="1829.30" y2="746.48"/>
<line x1="1747.59" y1="255.20" x2="1747.59" y2="869.30"/>
<line x1="1216.50" y1="787.42" x2="1829.30" y2="787.42"/>
<line x1="1788.45" y1="255.20" x2="1788.45" y2="869.30"/>
<line x1="1216.50" y1="828.36" x2="1829.30" y2="828.36"/>
<line x1="1829.30" y1="255.20" x2="1829.30" y2="869.30"/>
<line x1="1216.50" y1="869.30" x2="1829.30" y2="869.30"/>
</g>
<circle cx="1236.93" cy="275.67" r="12.57" fill="#6bafd5" stroke="#558caa" stroke-opacity="0.55" stroke-width="0.8"/>
<circle cx="1277.78" cy="275.67" r="9.92" fill="#a8d5ec" stroke="#86aabc" stroke-opacity="0.55" stroke-width="0.8"/>
<circle cx="1318.63" cy="275.67" r="7.11" fill="#d4eaf5" stroke="#a9bbc4" stroke-opacity="0.55" stroke-width="0.8"/>
<circle cx="1359.49" cy="275.67" r="9.54" fill="#afd8ee" stroke="#8cacbe" stroke-opacity="0.55" stroke-width="0.8"/>
<circle cx="1400.34" cy="275.67" r="9.16" fill="#b7dcef" stroke="#92b0bf" stroke-opacity="0.55" stroke-width="0.8"/>
<circle cx="1441.19" cy="275.67" r="9.16" fill="#b7dcef" stroke="#92b0bf" stroke-opacity="0.55" stroke-width="0.8"/>
<circle cx="1482.05" cy="275.67" r="7.52" fill="#d0e8f4" stroke="#a6b9c3" stroke-opacity="0.55" stroke-width="0.8"/>
<circle cx="1522.90" cy="275.67" r="7.94" fill="#cae5f4" stroke="#a1b7c3" stroke-opacity="0.55" stroke-width="0.8"/>
<circle cx="1563.75" cy="275.67" r="10.30" fill="#a0d1ea" stroke="#80a7bb" stroke-opacity="0.55" stroke-width="0.8"/>
<circle cx="1604.61" cy="275.67" r="14.84" fill="#3a87bd" stroke="#2e6c97" stroke-opacity="0.55" stroke-width="0.8"/>
<circle cx="1645.46" cy="275.67" r="8.35" fill="#c4e2f2" stroke="#9cb4c1" stroke-opacity="0.55" stroke-width="0.8"/>
<circle cx="1686.31" cy="275.67" r="12.57" fill="#6bafd5" stroke="#558caa" stroke-opacity="0.55" stroke-width="0.8"/>
<circle cx="1727.17" cy="275.67" r="9.16" fill="#b7dcef" stroke="#92b0bf" stroke-opacity="0.55" stroke-width="0.8"/>
<circle cx="1768.02" cy="275.67" r="14.46" fill="#3e8cbf" stroke="#317098" stroke-opacity="0.55" stroke-width="0.8"/>
<circle cx="1808.87" cy="275.67" r="8.35" fill="#c4e2f2" stroke="#9cb4c1" stroke-opacity="0.55" stroke-width="0.8"/>
<circle cx="1236.93" cy="316.61" r="10.30" fill="#a0d1ea" stroke="#80a7bb" stroke-opacity="0.55" stroke-width="0.8"/>
<circle cx="1277.78" cy="316.61" r="9.92" fill="#a8d5ec" stroke="#86aabc" stroke-opacity="0.55" stroke-width="0.8"/>
<circle cx="1318.63" cy="316.61" r="5.07" fill="#e7f3fa" stroke="#b8c2c8" stroke-opacity="0.55" stroke-width="0.8"/>
<circle cx="1359.49" cy="316.61" r="5.07" fill="#e7f3fa" stroke="#b8c2c8" stroke-opacity="0.55" stroke-width="0.8"/>
<circle cx="1400.34" cy="316.61" r="9.16" fill="#b7dcef" stroke="#92b0bf" stroke-opacity="0.55" stroke-width="0.8"/>
<circle cx="1441.19" cy="316.61" r="9.92" fill="#a8d5ec" stroke="#86aabc" stroke-opacity="0.55" stroke-width="0.8"/>
<circle cx="1482.05" cy="316.61" r="8.77" fill="#bddff1" stroke="#97b2c0" stroke-opacity="0.55" stroke-width="0.8"/>
<circle cx="1522.90" cy="316.61" r="9.54" fill="#afd8ee" stroke="#8cacbe" stroke-opacity="0.55" stroke-width="0.8"/>
<circle cx="1563.75" cy="316.61" r="11.81" fill="#7fbdde" stroke="#6597b1" stroke-opacity="0.55" stroke-width="0.8"/>
<circle cx="1604.61" cy="316.61" r="11.43" fill="#88c4e2" stroke="#6c9cb4" stroke-opacity="0.55" stroke-width="0.8"/>
<circle cx="1645.46" cy="316.61" r="9.16" fill="#b7dcef" stroke="#92b0bf" stroke-opacity="0.55" stroke-width="0.8"/>
<circle cx="1686.31" cy="316.61" r="9.92" fill="#a8d5ec" stroke="#86aabc" stroke-opacity="0.55" stroke-width="0.8"/>
<circle cx="1727.17" cy="316.61" r="11.81" fill="#7fbdde" stroke="#6597b1" stroke-opacity="0.55" stroke-width="0.8"/>
<circle cx="1768.02" cy="316.61" r="11.06" fill="#91c9e6" stroke="#74a0b8" stroke-opacity="0.55" stroke-width="0.8"/>
<circle cx="1808.87" cy="316.61" r="10.68" fill="#99cde8" stroke="#7aa4b9" stroke-opacity="0.55" stroke-width="0.8"/>
<circle cx="1236.93" cy="357.55" r="10.30" fill="#a0d1ea" stroke="#80a7bb" stroke-opacity="0.55" stroke-width="0.8"/>
<circle cx="1277.78" cy="357.55" r="10.68" fill="#99cde8" stroke="#7aa4b9" stroke-opacity="0.55" stroke-width="0.8"/>
<circle cx="1318.63" cy="357.55" r="7.11" fill="#d4eaf5" stroke="#a9bbc4" stroke-opacity="0.55" stroke-width="0.8"/>
<circle cx="1359.49" cy="357.55" r="6.70" fill="#d9ecf7" stroke="#adbcc5" stroke-opacity="0.55" stroke-width="0.8"/>
<circle cx="1400.34" cy="357.55" r="10.68" fill="#99cde8" stroke="#7aa4b9" stroke-opacity="0.55" stroke-width="0.8"/>
<circle cx="1441.19" cy="357.55" r="10.68" fill="#99cde8" stroke="#7aa4b9" stroke-opacity="0.55" stroke-width="0.8"/>
<circle cx="1482.05" cy="357.55" r="9.54" fill="#afd8ee" stroke="#8cacbe" stroke-opacity="0.55" stroke-width="0.8"/>
<circle cx="1522.90" cy="357.55" r="10.30" fill="#a0d1ea" stroke="#80a7bb" stroke-opacity="0.55" stroke-width="0.8"/>
<circle cx="1563.75" cy="357.55" r="7.94" fill="#cae5f4" stroke="#a1b7c3" stroke-opacity="0.55" stroke-width="0.8"/>
<circle cx="1604.61" cy="357.55" r="11.06" fill="#91c9e6" stroke="#74a0b8" stroke-opacity="0.55" stroke-width="0.8"/>
<circle cx="1645.46" cy="357.55" r="9.16" fill="#b7dcef" stroke="#92b0bf" stroke-opacity="0.55" stroke-width="0.8"/>
<circle cx="1686.31" cy="357.55" r="9.92" fill="#a8d5ec" stroke="#86aabc" stroke-opacity="0.55" stroke-width="0.8"/>
<circle cx="1727.17" cy="357.55" r="7.94" fill="#cae5f4" stroke="#a1b7c3" stroke-opacity="0.55" stroke-width="0.8"/>
<circle cx="1768.02" cy="357.55" r="11.81" fill="#7fbdde" stroke="#6597b1" stroke-opacity="0.55" stroke-width="0.8"/>
<circle cx="1808.87" cy="357.55" r="7.52" fill="#d0e8f4" stroke="#a6b9c3" stroke-opacity="0.55" stroke-width="0.8"/>
<circle cx="1236.93" cy="398.49" r="11.06" fill="#91c9e6" stroke="#74a0b8" stroke-opacity="0.55" stroke-width="0.8"/>
<circle cx="1277.78" cy="398.49" r="11.06" fill="#91c9e6" stroke="#74a0b8" stroke-opacity="0.55" stroke-width="0.8"/>
<circle cx="1318.63" cy="398.49" r="0.90" fill="#e4e4e7"/>
<circle cx="1359.49" cy="398.49" r="6.70" fill="#d9ecf7" stroke="#adbcc5" stroke-opacity="0.55" stroke-width="0.8"/>
<circle cx="1400.34" cy="398.49" r="10.68" fill="#99cde8" stroke="#7aa4b9" stroke-opacity="0.55" stroke-width="0.8"/>
<circle cx="1441.19" cy="398.49" r="11.06" fill="#91c9e6" stroke="#74a0b8" stroke-opacity="0.55" stroke-width="0.8"/>
<circle cx="1482.05" cy="398.49" r="9.54" fill="#afd8ee" stroke="#8cacbe" stroke-opacity="0.55" stroke-width="0.8"/>
<circle cx="1522.90" cy="398.49" r="10.30" fill="#a0d1ea" stroke="#80a7bb" stroke-opacity="0.55" stroke-width="0.8"/>
<circle cx="1563.75" cy="398.49" r="9.54" fill="#afd8ee" stroke="#8cacbe" stroke-opacity="0.55" stroke-width="0.8"/>
<circle cx="1604.61" cy="398.49" r="11.81" fill="#7fbdde" stroke="#6597b1" stroke-opacity="0.55" stroke-width="0.8"/>
<circle cx="1645.46" cy="398.49" r="9.16" fill="#b7dcef" stroke="#92b0bf" stroke-opacity="0.55" stroke-width="0.8"/>
<circle cx="1686.31" cy="398.49" r="10.68" fill="#99cde8" stroke="#7aa4b9" stroke-opacity="0.55" stroke-width="0.8"/>
<circle cx="1727.17" cy="398.49" r="9.54" fill="#afd8ee" stroke="#8cacbe" stroke-opacity="0.55" stroke-width="0.8"/>
<circle cx="1768.02" cy="398.49" r="13.70" fill="#4b98c6" stroke="#3c799e" stroke-opacity="0.55" stroke-width="0.8"/>
<circle cx="1808.87" cy="398.49" r="9.92" fill="#a8d5ec" stroke="#86aabc" stroke-opacity="0.55" stroke-width="0.8"/>
<circle cx="1236.93" cy="439.43" r="11.81" fill="#7fbdde" stroke="#6597b1" stroke-opacity="0.55" stroke-width="0.8"/>
<circle cx="1277.78" cy="439.43" r="11.06" fill="#91c9e6" stroke="#74a0b8" stroke-opacity="0.55" stroke-width="0.8"/>
<circle cx="1318.63" cy="439.43" r="0.90" fill="#e4e4e7"/>
<circle cx="1359.49" cy="439.43" r="0.90" fill="#e4e4e7"/>
<circle cx="1400.34" cy="439.43" r="10.68" fill="#99cde8" stroke="#7aa4b9" stroke-opacity="0.55" stroke-width="0.8"/>
<circle cx="1441.19" cy="439.43" r="11.43" fill="#88c4e2" stroke="#6c9cb4" stroke-opacity="0.55" stroke-width="0.8"/>
<circle cx="1482.05" cy="439.43" r="10.68" fill="#99cde8" stroke="#7aa4b9" stroke-opacity="0.55" stroke-width="0.8"/>
<circle cx="1522.90" cy="439.43" r="11.43" fill="#88c4e2" stroke="#6c9cb4" stroke-opacity="0.55" stroke-width="0.8"/>
<circle cx="1563.75" cy="439.43" r="6.29" fill="#dceef8" stroke="#b0bec6" stroke-opacity="0.55" stroke-width="0.8"/>
<circle cx="1604.61" cy="439.43" r="11.81" fill="#7fbdde" stroke="#6597b1" stroke-opacity="0.55" stroke-width="0.8"/>
<circle cx="1645.46" cy="439.43" r="10.30" fill="#a0d1ea" stroke="#80a7bb" stroke-opacity="0.55" stroke-width="0.8"/>
<circle cx="1686.31" cy="439.43" r="11.43" fill="#88c4e2" stroke="#6c9cb4" stroke-opacity="0.55" stroke-width="0.8"/>
<circle cx="1727.17" cy="439.43" r="8.35" fill="#c4e2f2" stroke="#9cb4c1" stroke-opacity="0.55" stroke-width="0.8"/>
<circle cx="1768.02" cy="439.43" r="13.70" fill="#4b98c6" stroke="#3c799e" stroke-opacity="0.55" stroke-width="0.8"/>
<circle cx="1808.87" cy="439.43" r="5.07" fill="#e7f3fa" stroke="#b8c2c8" stroke-opacity="0.55" stroke-width="0.8"/>
<circle cx="1236.93" cy="480.37" r="11.81" fill="#7fbdde" stroke="#6597b1" stroke-opacity="0.55" stroke-width="0.8"/>
<circle cx="1277.78" cy="480.37" r="11.43" fill="#88c4e2" stroke="#6c9cb4" stroke-opacity="0.55" stroke-width="0.8"/>
<circle cx="1318.63" cy="480.37" r="3.77" fill="#e9edf1"/>
<circle cx="1359.49" cy="480.37" r="7.94" fill="#ffdcc6" stroke="#ccb09e" stroke-opacity="0.55" stroke-width="0.8"/>
<circle cx="1400.34" cy="480.37" r="11.81" fill="#7fbdde" stroke="#6597b1" stroke-opacity="0.55" stroke-width="0.8"/>
<circle cx="1441.19" cy="480.37" r="10.68" fill="#99cde8" stroke="#7aa4b9" stroke-opacity="0.55" stroke-width="0.8"/>
<circle cx="1482.05" cy="480.37" r="11.43" fill="#88c4e2" stroke="#6c9cb4" stroke-opacity="0.55" stroke-width="0.8"/>
<circle cx="1522.90" cy="480.37" r="10.68" fill="#99cde8" stroke="#7aa4b9" stroke-opacity="0.55" stroke-width="0.8"/>
<circle cx="1563.75" cy="480.37" r="7.11" fill="#d4eaf5" stroke="#a9bbc4" stroke-opacity="0.55" stroke-width="0.8"/>
<circle cx="1604.61" cy="480.37" r="12.57" fill="#6bafd5" stroke="#558caa" stroke-opacity="0.55" stroke-width="0.8"/>
<circle cx="1645.46" cy="480.37" r="10.30" fill="#a0d1ea" stroke="#80a7bb" stroke-opacity="0.55" stroke-width="0.8"/>
<circle cx="1686.31" cy="480.37" r="12.19" fill="#75b7da" stroke="#5d92ae" stroke-opacity="0.55" stroke-width="0.8"/>
<circle cx="1727.17" cy="480.37" r="9.16" fill="#b7dcef" stroke="#92b0bf" stroke-opacity="0.55" stroke-width="0.8"/>
<circle cx="1768.02" cy="480.37" r="14.08" fill="#4291c2" stroke="#34749b" stroke-opacity="0.55" stroke-width="0.8"/>
<circle cx="1808.87" cy="480.37" r="12.19" fill="#75b7da" stroke="#5d92ae" stroke-opacity="0.55" stroke-width="0.8"/>
<circle cx="1236.93" cy="521.31" r="10.30" fill="#a0d1ea" stroke="#80a7bb" stroke-opacity="0.55" stroke-width="0.8"/>
<circle cx="1277.78" cy="521.31" r="11.81" fill="#7fbdde" stroke="#6597b1" stroke-opacity="0.55" stroke-width="0.8"/>
<circle cx="1318.63" cy="521.31" r="6.70" fill="#d9ecf7" stroke="#adbcc5" stroke-opacity="0.55" stroke-width="0.8"/>
<circle cx="1359.49" cy="521.31" r="4.56" fill="#e8eff4"/>
<circle cx="1400.34" cy="521.31" r="11.81" fill="#7fbdde" stroke="#6597b1" stroke-opacity="0.55" stroke-width="0.8"/>
<circle cx="1441.19" cy="521.31" r="11.81" fill="#7fbdde" stroke="#6597b1" stroke-opacity="0.55" stroke-width="0.8"/>
<circle cx="1482.05" cy="521.31" r="11.43" fill="#88c4e2" stroke="#6c9cb4" stroke-opacity="0.55" stroke-width="0.8"/>
<circle cx="1522.90" cy="521.31" r="11.43" fill="#88c4e2" stroke="#6c9cb4" stroke-opacity="0.55" stroke-width="0.8"/>
<circle cx="1563.75" cy="521.31" r="9.16" fill="#b7dcef" stroke="#92b0bf" stroke-opacity="0.55" stroke-width="0.8"/>
<circle cx="1604.61" cy="521.31" r="9.54" fill="#afd8ee" stroke="#8cacbe" stroke-opacity="0.55" stroke-width="0.8"/>
<circle cx="1645.46" cy="521.31" r="11.06" fill="#91c9e6" stroke="#74a0b8" stroke-opacity="0.55" stroke-width="0.8"/>
<circle cx="1686.31" cy="521.31" r="9.54" fill="#afd8ee" stroke="#8cacbe" stroke-opacity="0.55" stroke-width="0.8"/>
<circle cx="1727.17" cy="521.31" r="7.52" fill="#d0e8f4" stroke="#a6b9c3" stroke-opacity="0.55" stroke-width="0.8"/>
<circle cx="1768.02" cy="521.31" r="10.68" fill="#99cde8" stroke="#7aa4b9" stroke-opacity="0.55" stroke-width="0.8"/>
<circle cx="1808.87" cy="521.31" r="7.52" fill="#d0e8f4" stroke="#a6b9c3" stroke-opacity="0.55" stroke-width="0.8"/>
<circle cx="1236.93" cy="562.25" r="11.81" fill="#7fbdde" stroke="#6597b1" stroke-opacity="0.55" stroke-width="0.8"/>
<circle cx="1277.78" cy="562.25" r="13.33" fill="#57a0ca" stroke="#4580a1" stroke-opacity="0.55" stroke-width="0.8"/>
<circle cx="1318.63" cy="562.25" r="8.35" fill="#c4e2f2" stroke="#9cb4c1" stroke-opacity="0.55" stroke-width="0.8"/>
<circle cx="1400.34" cy="562.25" r="13.33" fill="#57a0ca" stroke="#4580a1" stroke-opacity="0.55" stroke-width="0.8"/>
<circle cx="1441.19" cy="562.25" r="12.95" fill="#61a7cf" stroke="#4d85a5" stroke-opacity="0.55" stroke-width="0.8"/>
<circle cx="1482.05" cy="562.25" r="12.95" fill="#61a7cf" stroke="#4d85a5" stroke-opacity="0.55" stroke-width="0.8"/>
<circle cx="1522.90" cy="562.25" r="13.33" fill="#57a0ca" stroke="#4580a1" stroke-opacity="0.55" stroke-width="0.8"/>
<circle cx="1563.75" cy="562.25" r="9.54" fill="#afd8ee" stroke="#8cacbe" stroke-opacity="0.55" stroke-width="0.8"/>
<circle cx="1604.61" cy="562.25" r="11.81" fill="#7fbdde" stroke="#6597b1" stroke-opacity="0.55" stroke-width="0.8"/>
<circle cx="1645.46" cy="562.25" r="12.57" fill="#6bafd5" stroke="#558caa" stroke-opacity="0.55" stroke-width="0.8"/>
<circle cx="1686.31" cy="562.25" r="11.43" fill="#88c4e2" stroke="#6c9cb4" stroke-opacity="0.55" stroke-width="0.8"/>
<circle cx="1727.17" cy="562.25" r="9.92" fill="#a8d5ec" stroke="#86aabc" stroke-opacity="0.55" stroke-width="0.8"/>
<circle cx="1768.02" cy="562.25" r="13.33" fill="#57a0ca" stroke="#4580a1" stroke-opacity="0.55" stroke-width="0.8"/>
<circle cx="1808.87" cy="562.25" r="9.92" fill="#a8d5ec" stroke="#86aabc" stroke-opacity="0.55" stroke-width="0.8"/>
<circle cx="1236.93" cy="603.19" r="12.57" fill="#6bafd5" stroke="#558caa" stroke-opacity="0.55" stroke-width="0.8"/>
<circle cx="1277.78" cy="603.19" r="10.68" fill="#99cde8" stroke="#7aa4b9" stroke-opacity="0.55" stroke-width="0.8"/>
<circle cx="1318.63" cy="603.19" r="10.68" fill="#99cde8" stroke="#7aa4b9" stroke-opacity="0.55" stroke-width="0.8"/>
<circle cx="1359.49" cy="603.19" r="7.94" fill="#cae5f4" stroke="#a1b7c3" stroke-opacity="0.55" stroke-width="0.8"/>
<circle cx="1400.34" cy="603.19" r="10.68" fill="#99cde8" stroke="#7aa4b9" stroke-opacity="0.55" stroke-width="0.8"/>
<circle cx="1441.19" cy="603.19" r="10.68" fill="#99cde8" stroke="#7aa4b9" stroke-opacity="0.55" stroke-width="0.8"/>
<circle cx="1482.05" cy="603.19" r="8.77" fill="#bddff1" stroke="#97b2c0" stroke-opacity="0.55" stroke-width="0.8"/>
<circle cx="1522.90" cy="603.19" r="9.54" fill="#afd8ee" stroke="#8cacbe" stroke-opacity="0.55" stroke-width="0.8"/>
<circle cx="1563.75" cy="603.19" r="11.06" fill="#91c9e6" stroke="#74a0b8" stroke-opacity="0.55" stroke-width="0.8"/>
<circle cx="1604.61" cy="603.19" r="12.57" fill="#6bafd5" stroke="#558caa" stroke-opacity="0.55" stroke-width="0.8"/>
<circle cx="1645.46" cy="603.19" r="10.30" fill="#a0d1ea" stroke="#80a7bb" stroke-opacity="0.55" stroke-width="0.8"/>
<circle cx="1686.31" cy="603.19" r="12.57" fill="#6bafd5" stroke="#558caa" stroke-opacity="0.55" stroke-width="0.8"/>
<circle cx="1727.17" cy="603.19" r="10.30" fill="#a0d1ea" stroke="#80a7bb" stroke-opacity="0.55" stroke-width="0.8"/>
<circle cx="1768.02" cy="603.19" r="13.33" fill="#57a0ca" stroke="#4580a1" stroke-opacity="0.55" stroke-width="0.8"/>
<circle cx="1808.87" cy="603.19" r="10.30" fill="#a0d1ea" stroke="#80a7bb" stroke-opacity="0.55" stroke-width="0.8"/>
<circle cx="1236.93" cy="644.13" r="5.47" fill="#ffece1" stroke="#ccbcb4" stroke-opacity="0.55" stroke-width="0.8"/>
<circle cx="1277.78" cy="644.13" r="16.35" fill="#c03438" stroke="#99292c" stroke-opacity="0.55" stroke-width="0.8"/>
<circle cx="1318.63" cy="644.13" r="8.35" fill="#ffd6c0" stroke="#ccab99" stroke-opacity="0.55" stroke-width="0.8"/>
<circle cx="1359.49" cy="644.13" r="2.58" fill="#ece9ea"/>
<circle cx="1400.34" cy="644.13" r="16.35" fill="#c03438" stroke="#99292c" stroke-opacity="0.55" stroke-width="0.8"/>
<circle cx="1441.19" cy="644.13" r="15.98" fill="#c43d3c" stroke="#9c3030" stroke-opacity="0.55" stroke-width="0.8"/>
<circle cx="1482.05" cy="644.13" r="15.98" fill="#c43d3c" stroke="#9c3030" stroke-opacity="0.55" stroke-width="0.8"/>
<circle cx="1522.90" cy="644.13" r="15.98" fill="#c43d3c" stroke="#9c3030" stroke-opacity="0.55" stroke-width="0.8"/>
<circle cx="1563.75" cy="644.13" r="9.54" fill="#fec6ab" stroke="#cb9e88" stroke-opacity="0.55" stroke-width="0.8"/>
<circle cx="1604.61" cy="644.13" r="11.06" fill="#faae8c" stroke="#c88b70" stroke-opacity="0.55" stroke-width="0.8"/>
<circle cx="1645.46" cy="644.13" r="15.22" fill="#cd4d44" stroke="#a43d36" stroke-opacity="0.55" stroke-width="0.8"/>
<circle cx="1686.31" cy="644.13" r="5.88" fill="#ffeadd" stroke="#ccbbb0" stroke-opacity="0.55" stroke-width="0.8"/>
<circle cx="1727.17" cy="644.13" r="9.92" fill="#fdc1a4" stroke="#ca9a83" stroke-opacity="0.55" stroke-width="0.8"/>
<circle cx="1768.02" cy="644.13" r="13.70" fill="#dd715a" stroke="#b05a48" stroke-opacity="0.55" stroke-width="0.8"/>
<circle cx="1808.87" cy="644.13" r="10.30" fill="#fcbb9c" stroke="#c9957c" stroke-opacity="0.55" stroke-width="0.8"/>
<circle cx="1236.93" cy="685.07" r="11.06" fill="#91c9e6" stroke="#74a0b8" stroke-opacity="0.55" stroke-width="0.8"/>
<circle cx="1277.78" cy="685.07" r="12.57" fill="#6bafd5" stroke="#558caa" stroke-opacity="0.55" stroke-width="0.8"/>
<circle cx="1318.63" cy="685.07" r="8.77" fill="#bddff1" stroke="#97b2c0" stroke-opacity="0.55" stroke-width="0.8"/>
<circle cx="1359.49" cy="685.07" r="3.37" fill="#e9ecf0"/>
<circle cx="1400.34" cy="685.07" r="12.19" fill="#75b7da" stroke="#5d92ae" stroke-opacity="0.55" stroke-width="0.8"/>
<circle cx="1441.19" cy="685.07" r="12.57" fill="#6bafd5" stroke="#558caa" stroke-opacity="0.55" stroke-width="0.8"/>
<circle cx="1482.05" cy="685.07" r="11.81" fill="#7fbdde" stroke="#6597b1" stroke-opacity="0.55" stroke-width="0.8"/>
<circle cx="1522.90" cy="685.07" r="11.06" fill="#91c9e6" stroke="#74a0b8" stroke-opacity="0.55" stroke-width="0.8"/>
<circle cx="1563.75" cy="685.07" r="12.19" fill="#75b7da" stroke="#5d92ae" stroke-opacity="0.55" stroke-width="0.8"/>
<circle cx="1604.61" cy="685.07" r="11.81" fill="#7fbdde" stroke="#6597b1" stroke-opacity="0.55" stroke-width="0.8"/>
<circle cx="1645.46" cy="685.07" r="13.33" fill="#57a0ca" stroke="#4580a1" stroke-opacity="0.55" stroke-width="0.8"/>
<circle cx="1686.31" cy="685.07" r="11.81" fill="#7fbdde" stroke="#6597b1" stroke-opacity="0.55" stroke-width="0.8"/>
<circle cx="1727.17" cy="685.07" r="9.92" fill="#a8d5ec" stroke="#86aabc" stroke-opacity="0.55" stroke-width="0.8"/>
<circle cx="1768.02" cy="685.07" r="12.19" fill="#75b7da" stroke="#5d92ae" stroke-opacity="0.55" stroke-width="0.8"/>
<circle cx="1808.87" cy="685.07" r="10.30" fill="#a0d1ea" stroke="#80a7bb" stroke-opacity="0.55" stroke-width="0.8"/>
<circle cx="1236.93" cy="726.01" r="11.81" fill="#7fbdde" stroke="#6597b1" stroke-opacity="0.55" stroke-width="0.8"/>
<circle cx="1277.78" cy="726.01" r="9.92" fill="#a8d5ec" stroke="#86aabc" stroke-opacity="0.55" stroke-width="0.8"/>
<circle cx="1318.63" cy="726.01" r="9.54" fill="#afd8ee" stroke="#8cacbe" stroke-opacity="0.55" stroke-width="0.8"/>
<circle cx="1359.49" cy="726.01" r="9.16" fill="#b7dcef" stroke="#92b0bf" stroke-opacity="0.55" stroke-width="0.8"/>
<circle cx="1400.34" cy="726.01" r="9.16" fill="#b7dcef" stroke="#92b0bf" stroke-opacity="0.55" stroke-width="0.8"/>
<circle cx="1441.19" cy="726.01" r="8.35" fill="#c4e2f2" stroke="#9cb4c1" stroke-opacity="0.55" stroke-width="0.8"/>
<circle cx="1482.05" cy="726.01" r="7.52" fill="#d0e8f4" stroke="#a6b9c3" stroke-opacity="0.55" stroke-width="0.8"/>
<circle cx="1522.90" cy="726.01" r="7.94" fill="#cae5f4" stroke="#a1b7c3" stroke-opacity="0.55" stroke-width="0.8"/>
<circle cx="1563.75" cy="726.01" r="12.57" fill="#6bafd5" stroke="#558caa" stroke-opacity="0.55" stroke-width="0.8"/>
<circle cx="1604.61" cy="726.01" r="13.70" fill="#4b98c6" stroke="#3c799e" stroke-opacity="0.55" stroke-width="0.8"/>
<circle cx="1645.46" cy="726.01" r="9.92" fill="#a8d5ec" stroke="#86aabc" stroke-opacity="0.55" stroke-width="0.8"/>
<circle cx="1686.31" cy="726.01" r="11.81" fill="#7fbdde" stroke="#6597b1" stroke-opacity="0.55" stroke-width="0.8"/>
<circle cx="1727.17" cy="726.01" r="10.68" fill="#99cde8" stroke="#7aa4b9" stroke-opacity="0.55" stroke-width="0.8"/>
<circle cx="1768.02" cy="726.01" r="12.57" fill="#6bafd5" stroke="#558caa" stroke-opacity="0.55" stroke-width="0.8"/>
<circle cx="1808.87" cy="726.01" r="10.30" fill="#a0d1ea" stroke="#80a7bb" stroke-opacity="0.55" stroke-width="0.8"/>
<circle cx="1236.93" cy="766.95" r="11.81" fill="#7fbdde" stroke="#6597b1" stroke-opacity="0.55" stroke-width="0.8"/>
<circle cx="1277.78" cy="766.95" r="8.35" fill="#c4e2f2" stroke="#9cb4c1" stroke-opacity="0.55" stroke-width="0.8"/>
<circle cx="1318.63" cy="766.95" r="9.54" fill="#afd8ee" stroke="#8cacbe" stroke-opacity="0.55" stroke-width="0.8"/>
<circle cx="1359.49" cy="766.95" r="7.11" fill="#d4eaf5" stroke="#a9bbc4" stroke-opacity="0.55" stroke-width="0.8"/>
<circle cx="1400.34" cy="766.95" r="7.52" fill="#d0e8f4" stroke="#a6b9c3" stroke-opacity="0.55" stroke-width="0.8"/>
<circle cx="1441.19" cy="766.95" r="8.35" fill="#c4e2f2" stroke="#9cb4c1" stroke-opacity="0.55" stroke-width="0.8"/>
<circle cx="1482.05" cy="766.95" r="7.52" fill="#d0e8f4" stroke="#a6b9c3" stroke-opacity="0.55" stroke-width="0.8"/>
<circle cx="1522.90" cy="766.95" r="7.94" fill="#cae5f4" stroke="#a1b7c3" stroke-opacity="0.55" stroke-width="0.8"/>
<circle cx="1563.75" cy="766.95" r="11.06" fill="#91c9e6" stroke="#74a0b8" stroke-opacity="0.55" stroke-width="0.8"/>
<circle cx="1604.61" cy="766.95" r="12.57" fill="#6bafd5" stroke="#558caa" stroke-opacity="0.55" stroke-width="0.8"/>
<circle cx="1645.46" cy="766.95" r="6.70" fill="#d9ecf7" stroke="#adbcc5" stroke-opacity="0.55" stroke-width="0.8"/>
<circle cx="1686.31" cy="766.95" r="11.81" fill="#7fbdde" stroke="#6597b1" stroke-opacity="0.55" stroke-width="0.8"/>
<circle cx="1727.17" cy="766.95" r="10.68" fill="#99cde8" stroke="#7aa4b9" stroke-opacity="0.55" stroke-width="0.8"/>
<circle cx="1768.02" cy="766.95" r="12.19" fill="#75b7da" stroke="#5d92ae" stroke-opacity="0.55" stroke-width="0.8"/>
<circle cx="1808.87" cy="766.95" r="8.35" fill="#c4e2f2" stroke="#9cb4c1" stroke-opacity="0.55" stroke-width="0.8"/>
<circle cx="1236.93" cy="807.89" r="11.81" fill="#7fbdde" stroke="#6597b1" stroke-opacity="0.55" stroke-width="0.8"/>
<circle cx="1277.78" cy="807.89" r="7.52" fill="#d0e8f4" stroke="#a6b9c3" stroke-opacity="0.55" stroke-width="0.8"/>
<circle cx="1318.63" cy="807.89" r="2.98" fill="#e8ecee"/>
<circle cx="1359.49" cy="807.89" r="9.16" fill="#b7dcef" stroke="#92b0bf" stroke-opacity="0.55" stroke-width="0.8"/>
<circle cx="1400.34" cy="807.89" r="6.70" fill="#d9ecf7" stroke="#adbcc5" stroke-opacity="0.55" stroke-width="0.8"/>
<circle cx="1441.19" cy="807.89" r="6.70" fill="#d9ecf7" stroke="#adbcc5" stroke-opacity="0.55" stroke-width="0.8"/>
<circle cx="1482.05" cy="807.89" r="4.67" fill="#eaf4fa" stroke="#bbc3c8" stroke-opacity="0.55" stroke-width="0.8"/>
<circle cx="1522.90" cy="807.89" r="4.56" fill="#e8eff4"/>
<circle cx="1563.75" cy="807.89" r="11.06" fill="#91c9e6" stroke="#74a0b8" stroke-opacity="0.55" stroke-width="0.8"/>
<circle cx="1604.61" cy="807.89" r="14.08" fill="#4291c2" stroke="#34749b" stroke-opacity="0.55" stroke-width="0.8"/>
<circle cx="1645.46" cy="807.89" r="5.88" fill="#e0eff8" stroke="#b3bfc6" stroke-opacity="0.55" stroke-width="0.8"/>
<circle cx="1686.31" cy="807.89" r="12.57" fill="#6bafd5" stroke="#558caa" stroke-opacity="0.55" stroke-width="0.8"/>
<circle cx="1727.17" cy="807.89" r="9.92" fill="#a8d5ec" stroke="#86aabc" stroke-opacity="0.55" stroke-width="0.8"/>
<circle cx="1768.02" cy="807.89" r="12.57" fill="#6bafd5" stroke="#558caa" stroke-opacity="0.55" stroke-width="0.8"/>
<circle cx="1808.87" cy="807.89" r="10.30" fill="#a0d1ea" stroke="#80a7bb" stroke-opacity="0.55" stroke-width="0.8"/>
<circle cx="1236.93" cy="848.83" r="11.06" fill="#91c9e6" stroke="#74a0b8" stroke-opacity="0.55" stroke-width="0.8"/>
<circle cx="1277.78" cy="848.83" r="9.92" fill="#a8d5ec" stroke="#86aabc" stroke-opacity="0.55" stroke-width="0.8"/>
<circle cx="1318.63" cy="848.83" r="2.19" fill="#e8e9eb"/>
<circle cx="1359.49" cy="848.83" r="3.37" fill="#e9ecf0"/>
<circle cx="1400.34" cy="848.83" r="10.68" fill="#99cde8" stroke="#7aa4b9" stroke-opacity="0.55" stroke-width="0.8"/>
<circle cx="1441.19" cy="848.83" r="9.92" fill="#a8d5ec" stroke="#86aabc" stroke-opacity="0.55" stroke-width="0.8"/>
<circle cx="1482.05" cy="848.83" r="9.92" fill="#a8d5ec" stroke="#86aabc" stroke-opacity="0.55" stroke-width="0.8"/>
<circle cx="1522.90" cy="848.83" r="9.54" fill="#afd8ee" stroke="#8cacbe" stroke-opacity="0.55" stroke-width="0.8"/>
<circle cx="1563.75" cy="848.83" r="11.81" fill="#7fbdde" stroke="#6597b1" stroke-opacity="0.55" stroke-width="0.8"/>
<circle cx="1604.61" cy="848.83" r="14.08" fill="#4291c2" stroke="#34749b" stroke-opacity="0.55" stroke-width="0.8"/>
<circle cx="1645.46" cy="848.83" r="11.06" fill="#91c9e6" stroke="#74a0b8" stroke-opacity="0.55" stroke-width="0.8"/>
<circle cx="1686.31" cy="848.83" r="10.68" fill="#99cde8" stroke="#7aa4b9" stroke-opacity="0.55" stroke-width="0.8"/>
<circle cx="1727.17" cy="848.83" r="11.43" fill="#88c4e2" stroke="#6c9cb4" stroke-opacity="0.55" stroke-width="0.8"/>
<circle cx="1768.02" cy="848.83" r="12.19" fill="#75b7da" stroke="#5d92ae" stroke-opacity="0.55" stroke-width="0.8"/>
<circle cx="1808.87" cy="848.83" r="10.68" fill="#99cde8" stroke="#7aa4b9" stroke-opacity="0.55" stroke-width="0.8"/>
<text transform="translate(1208.50,279.87) scale(0.962,1)" text-anchor="end" font-size="16.0" fill="#1e1e1e" stroke="#1e1e1e" stroke-width="0.25">unclassified_Lachnospiraceae</text>
<text transform="translate(1208.50,320.81) scale(0.962,1)" text-anchor="end" font-size="16.0" fill="#1e1e1e" stroke="#1e1e1e" stroke-width="0.25">unidentified</text>
<text transform="translate(1208.50,361.75) scale(0.962,1)" text-anchor="end" font-size="16.0" fill="#1e1e1e" stroke="#1e1e1e" stroke-width="0.25">Ruminococcus</text>
<text transform="translate(1208.50,402.69) scale(0.962,1)" text-anchor="end" font-size="16.0" fill="#1e1e1e" stroke="#1e1e1e" stroke-width="0.25">Subdoligranulum</text>
<text transform="translate(1208.50,443.63) scale(0.962,1)" text-anchor="end" font-size="16.0" fill="#1e1e1e" stroke="#1e1e1e" stroke-width="0.25">Alistipes</text>
<text transform="translate(1208.50,484.57) scale(0.962,1)" text-anchor="end" font-size="16.0" fill="#1e1e1e" stroke="#1e1e1e" stroke-width="0.25">Bacteroides</text>
<text transform="translate(1208.50,525.51) scale(0.962,1)" text-anchor="end" font-size="16.0" fill="#1e1e1e" stroke="#1e1e1e" stroke-width="0.25">Faecalibacterium</text>
<text transform="translate(1208.50,566.45) scale(0.962,1)" text-anchor="end" font-size="16.0" fill="#1e1e1e" stroke="#1e1e1e" stroke-width="0.25">Lachnospiraceae NC2004 group</text>
<text transform="translate(1208.50,607.39) scale(0.962,1)" text-anchor="end" font-size="16.0" fill="#1e1e1e" stroke="#1e1e1e" stroke-width="0.25">Lachnospiraceae UCG-008</text>
<text transform="translate(1208.50,648.33) scale(0.962,1)" text-anchor="end" font-size="16.0" fill="#1e1e1e" stroke="#1e1e1e" stroke-width="0.25">Enterococcus</text>
<text transform="translate(1208.50,689.27) scale(0.962,1)" text-anchor="end" font-size="16.0" fill="#1e1e1e" stroke="#1e1e1e" stroke-width="0.25">Oscillibacter</text>
<text transform="translate(1208.50,730.21) scale(0.962,1)" text-anchor="end" font-size="16.0" fill="#1e1e1e" stroke="#1e1e1e" stroke-width="0.25">Blautia</text>
<text transform="translate(1208.50,771.15) scale(0.962,1)" text-anchor="end" font-size="16.0" fill="#1e1e1e" stroke="#1e1e1e" stroke-width="0.25">[Ruminococcus] torques group</text>
<text transform="translate(1208.50,812.09) scale(0.962,1)" text-anchor="end" font-size="16.0" fill="#1e1e1e" stroke="#1e1e1e" stroke-width="0.25">Lachnoclostridium</text>
<text transform="translate(1208.50,853.03) scale(0.962,1)" text-anchor="end" font-size="16.0" fill="#1e1e1e" stroke="#1e1e1e" stroke-width="0.25">unclassified_Oscillospiraceae</text>
<text transform="translate(1242.53,249.30) rotate(-90) scale(0.955,1)" font-size="16.0" fill="#1e1e1e" stroke="#1e1e1e" stroke-width="0.25">VC_882_0</text>
<text transform="translate(1283.38,249.30) rotate(-90) scale(0.955,1)" font-size="16.0" fill="#1e1e1e" stroke="#1e1e1e" stroke-width="0.25">VC_334_2</text>
<text transform="translate(1324.23,249.30) rotate(-90) scale(0.955,1)" font-size="16.0" fill="#1e1e1e" stroke="#1e1e1e" stroke-width="0.25">G03J_7875_V2__664</text>
<text transform="translate(1365.09,249.30) rotate(-90) scale(0.955,1)" font-size="16.0" fill="#1e1e1e" stroke="#1e1e1e" stroke-width="0.25">G03J_7869_V4__357</text>
<text transform="translate(1405.94,249.30) rotate(-90) scale(0.955,1)" font-size="16.0" fill="#1e1e1e" stroke="#1e1e1e" stroke-width="0.25">VC_337_0</text>
<text transform="translate(1446.79,249.30) rotate(-90) scale(0.955,1)" font-size="16.0" fill="#1e1e1e" stroke="#1e1e1e" stroke-width="0.25">VC_334_0</text>
<text transform="translate(1487.65,249.30) rotate(-90) scale(0.955,1)" font-size="16.0" fill="#1e1e1e" stroke="#1e1e1e" stroke-width="0.25">VC_334_1</text>
<text transform="translate(1528.50,249.30) rotate(-90) scale(0.955,1)" font-size="16.0" fill="#1e1e1e" stroke="#1e1e1e" stroke-width="0.25">VC_334_3</text>
<text transform="translate(1569.35,249.30) rotate(-90) scale(0.955,1)" font-size="16.0" fill="#1e1e1e" stroke="#1e1e1e" stroke-width="0.25">VC_1015_0</text>
<text transform="translate(1610.21,249.30) rotate(-90) scale(0.955,1)" font-size="16.0" fill="#1e1e1e" stroke="#1e1e1e" stroke-width="0.25">VC_1074_0</text>
<text transform="translate(1651.06,249.30) rotate(-90) scale(0.955,1)" font-size="16.0" fill="#1e1e1e" stroke="#1e1e1e" stroke-width="0.25">G23J_8062V__2957</text>
<text transform="translate(1691.91,249.30) rotate(-90) scale(0.955,1)" font-size="16.0" fill="#1e1e1e" stroke="#1e1e1e" stroke-width="0.25">G01M_8528_V__367</text>
<text transform="translate(1732.77,249.30) rotate(-90) scale(0.955,1)" font-size="16.0" fill="#1e1e1e" stroke="#1e1e1e" stroke-width="0.25">G03J_7944_V3__2093</text>
<text transform="translate(1773.62,249.30) rotate(-90) scale(0.955,1)" font-size="16.0" fill="#1e1e1e" stroke="#1e1e1e" stroke-width="0.25">VC_1266_1</text>
<text transform="translate(1814.47,249.30) rotate(-90) scale(0.955,1)" font-size="16.0" fill="#1e1e1e" stroke="#1e1e1e" stroke-width="0.25">VC_432_0</text>
<g stroke="#b6b6b6" stroke-width="1.3" fill="none">
<line x1="326.10" y1="1142.00" x2="326.10" y2="1769.10"/>
<line x1="326.10" y1="1142.00" x2="952.10" y2="1142.00"/>
<line x1="367.83" y1="1142.00" x2="367.83" y2="1769.10"/>
<line x1="326.10" y1="1183.81" x2="952.10" y2="1183.81"/>
<line x1="409.57" y1="1142.00" x2="409.57" y2="1769.10"/>
<line x1="326.10" y1="1225.61" x2="952.10" y2="1225.61"/>
<line x1="451.30" y1="1142.00" x2="451.30" y2="1769.10"/>
<line x1="326.10" y1="1267.42" x2="952.10" y2="1267.42"/>
<line x1="493.03" y1="1142.00" x2="493.03" y2="1769.10"/>
<line x1="326.10" y1="1309.23" x2="952.10" y2="1309.23"/>
<line x1="534.77" y1="1142.00" x2="534.77" y2="1769.10"/>
<line x1="326.10" y1="1351.03" x2="952.10" y2="1351.03"/>
<line x1="576.50" y1="1142.00" x2="576.50" y2="1769.10"/>
<line x1="326.10" y1="1392.84" x2="952.10" y2="1392.84"/>
<line x1="618.23" y1="1142.00" x2="618.23" y2="1769.10"/>
<line x1="326.10" y1="1434.65" x2="952.10" y2="1434.65"/>
<line x1="659.97" y1="1142.00" x2="659.97" y2="1769.10"/>
<line x1="326.10" y1="1476.45" x2="952.10" y2="1476.45"/>
<line x1="701.70" y1="1142.00" x2="701.70" y2="1769.10"/>
<line x1="326.10" y1="1518.26" x2="952.10" y2="1518.26"/>
<line x1="743.43" y1="1142.00" x2="743.43" y2="1769.10"/>
<line x1="326.10" y1="1560.07" x2="952.10" y2="1560.07"/>
<line x1="785.17" y1="1142.00" x2="785.17" y2="1769.10"/>
<line x1="326.10" y1="1601.87" x2="952.10" y2="1601.87"/>
<line x1="826.90" y1="1142.00" x2="826.90" y2="1769.10"/>
<line x1="326.10" y1="1643.68" x2="952.10" y2="1643.68"/>
<line x1="868.63" y1="1142.00" x2="868.63" y2="1769.10"/>
<line x1="326.10" y1="1685.49" x2="952.10" y2="1685.49"/>
<line x1="910.37" y1="1142.00" x2="910.37" y2="1769.10"/>
<line x1="326.10" y1="1727.29" x2="952.10" y2="1727.29"/>
<line x1="952.10" y1="1142.00" x2="952.10" y2="1769.10"/>
<line x1="326.10" y1="1769.10" x2="952.10" y2="1769.10"/>
</g>
<circle cx="346.97" cy="1162.90" r="12.78" fill="#ed9071" stroke="#bd735a" stroke-opacity="0.55" stroke-width="0.8"/>
<circle cx="388.70" cy="1162.90" r="10.85" fill="#fbb695" stroke="#c89177" stroke-opacity="0.55" stroke-width="0.8"/>
<circle cx="430.43" cy="1162.90" r="10.08" fill="#fdc2a5" stroke="#ca9b84" stroke-opacity="0.55" stroke-width="0.8"/>
<circle cx="472.17" cy="1162.90" r="5.57" fill="#e4f1f9" stroke="#b6c0c7" stroke-opacity="0.55" stroke-width="0.8"/>
<circle cx="513.90" cy="1162.90" r="1.84" fill="#e9e7e9"/>
<circle cx="555.63" cy="1162.90" r="14.70" fill="#d55f4c" stroke="#aa4c3c" stroke-opacity="0.55" stroke-width="0.8"/>
<circle cx="597.37" cy="1162.90" r="13.55" fill="#e37d63" stroke="#b5644f" stroke-opacity="0.55" stroke-width="0.8"/>
<circle cx="639.10" cy="1162.90" r="14.70" fill="#d55f4c" stroke="#aa4c3c" stroke-opacity="0.55" stroke-width="0.8"/>
<circle cx="680.83" cy="1162.90" r="12.01" fill="#f6a17e" stroke="#c48064" stroke-opacity="0.55" stroke-width="0.8"/>
<circle cx="722.57" cy="1162.90" r="9.32" fill="#b7dcef" stroke="#92b0bf" stroke-opacity="0.55" stroke-width="0.8"/>
<circle cx="764.30" cy="1162.90" r="13.55" fill="#e37d63" stroke="#b5644f" stroke-opacity="0.55" stroke-width="0.8"/>
<circle cx="806.03" cy="1162.90" r="14.32" fill="#da6854" stroke="#ae5343" stroke-opacity="0.55" stroke-width="0.8"/>
<circle cx="847.77" cy="1162.90" r="4.64" fill="#f7ede7"/>
<circle cx="889.50" cy="1162.90" r="1.44" fill="#e7e6e8"/>
<circle cx="931.23" cy="1162.90" r="12.78" fill="#ed9071" stroke="#bd735a" stroke-opacity="0.55" stroke-width="0.8"/>
<circle cx="346.97" cy="1204.71" r="12.01" fill="#f6a17e" stroke="#c48064" stroke-opacity="0.55" stroke-width="0.8"/>
<circle cx="388.70" cy="1204.71" r="10.08" fill="#fdc2a5" stroke="#ca9b84" stroke-opacity="0.55" stroke-width="0.8"/>
<circle cx="430.43" cy="1204.71" r="10.08" fill="#fdc2a5" stroke="#ca9b84" stroke-opacity="0.55" stroke-width="0.8"/>
<circle cx="472.17" cy="1204.71" r="5.57" fill="#e4f1f9" stroke="#b6c0c7" stroke-opacity="0.55" stroke-width="0.8"/>
<circle cx="513.90" cy="1204.71" r="1.44" fill="#e7e6e8"/>
<circle cx="555.63" cy="1204.71" r="16.24" fill="#c53f3d" stroke="#9d3230" stroke-opacity="0.55" stroke-width="0.8"/>
<circle cx="597.37" cy="1204.71" r="14.32" fill="#da6854" stroke="#ae5343" stroke-opacity="0.55" stroke-width="0.8"/>
<circle cx="639.10" cy="1204.71" r="15.08" fill="#d15749" stroke="#a7453a" stroke-opacity="0.55" stroke-width="0.8"/>
<circle cx="680.83" cy="1204.71" r="13.16" fill="#e8876a" stroke="#b96c54" stroke-opacity="0.55" stroke-width="0.8"/>
<circle cx="722.57" cy="1204.71" r="8.49" fill="#c5e2f2" stroke="#9db4c1" stroke-opacity="0.55" stroke-width="0.8"/>
<circle cx="764.30" cy="1204.71" r="15.08" fill="#d15749" stroke="#a7453a" stroke-opacity="0.55" stroke-width="0.8"/>
<circle cx="806.03" cy="1204.71" r="15.08" fill="#d15749" stroke="#a7453a" stroke-opacity="0.55" stroke-width="0.8"/>
<circle cx="847.77" cy="1204.71" r="7.65" fill="#ffdfcc" stroke="#ccb2a3" stroke-opacity="0.55" stroke-width="0.8"/>
<circle cx="889.50" cy="1204.71" r="0.90" fill="#e4e4e6"/>
<circle cx="931.23" cy="1204.71" r="12.78" fill="#ed9071" stroke="#bd735a" stroke-opacity="0.55" stroke-width="0.8"/>
<circle cx="346.97" cy="1246.52" r="11.24" fill="#faaf8d" stroke="#c88c70" stroke-opacity="0.55" stroke-width="0.8"/>
<circle cx="388.70" cy="1246.52" r="12.01" fill="#f6a17e" stroke="#c48064" stroke-opacity="0.55" stroke-width="0.8"/>
<circle cx="430.43" cy="1246.52" r="10.08" fill="#fdc2a5" stroke="#ca9b84" stroke-opacity="0.55" stroke-width="0.8"/>
<circle cx="472.17" cy="1246.52" r="1.84" fill="#e9e7e9"/>
<circle cx="513.90" cy="1246.52" r="5.98" fill="#ffeade" stroke="#ccbbb1" stroke-opacity="0.55" stroke-width="0.8"/>
<circle cx="555.63" cy="1246.52" r="15.47" fill="#cd4f45" stroke="#a43f37" stroke-opacity="0.55" stroke-width="0.8"/>
<circle cx="597.37" cy="1246.52" r="13.55" fill="#e37d63" stroke="#b5644f" stroke-opacity="0.55" stroke-width="0.8"/>
<circle cx="639.10" cy="1246.52" r="14.70" fill="#d55f4c" stroke="#aa4c3c" stroke-opacity="0.55" stroke-width="0.8"/>
<circle cx="680.83" cy="1246.52" r="13.16" fill="#e8876a" stroke="#b96c54" stroke-opacity="0.55" stroke-width="0.8"/>
<circle cx="722.57" cy="1246.52" r="8.49" fill="#c5e2f2" stroke="#9db4c1" stroke-opacity="0.55" stroke-width="0.8"/>
<circle cx="764.30" cy="1246.52" r="14.70" fill="#d55f4c" stroke="#aa4c3c" stroke-opacity="0.55" stroke-width="0.8"/>
<circle cx="806.03" cy="1246.52" r="14.32" fill="#da6854" stroke="#ae5343" stroke-opacity="0.55" stroke-width="0.8"/>
<circle cx="847.77" cy="1246.52" r="5.98" fill="#ffeade" stroke="#ccbbb1" stroke-opacity="0.55" stroke-width="0.8"/>
<circle cx="889.50" cy="1246.52" r="7.23" fill="#d4eaf5" stroke="#a9bbc4" stroke-opacity="0.55" stroke-width="0.8"/>
<circle cx="931.23" cy="1246.52" r="12.01" fill="#f6a17e" stroke="#c48064" stroke-opacity="0.55" stroke-width="0.8"/>
<circle cx="346.97" cy="1288.32" r="12.78" fill="#ed9071" stroke="#bd735a" stroke-opacity="0.55" stroke-width="0.8"/>
<circle cx="388.70" cy="1288.32" r="10.08" fill="#fdc2a5" stroke="#ca9b84" stroke-opacity="0.55" stroke-width="0.8"/>
<circle cx="430.43" cy="1288.32" r="10.08" fill="#fdc2a5" stroke="#ca9b84" stroke-opacity="0.55" stroke-width="0.8"/>
<circle cx="472.17" cy="1288.32" r="1.84" fill="#e9e7e9"/>
<circle cx="513.90" cy="1288.32" r="6.39" fill="#ffe8d9" stroke="#ccb9ad" stroke-opacity="0.55" stroke-width="0.8"/>
<circle cx="555.63" cy="1288.32" r="13.16" fill="#e8876a" stroke="#b96c54" stroke-opacity="0.55" stroke-width="0.8"/>
<circle cx="597.37" cy="1288.32" r="11.62" fill="#f8a985" stroke="#c6876a" stroke-opacity="0.55" stroke-width="0.8"/>
<circle cx="639.10" cy="1288.32" r="12.78" fill="#ed9071" stroke="#bd735a" stroke-opacity="0.55" stroke-width="0.8"/>
<circle cx="680.83" cy="1288.32" r="11.62" fill="#f8a985" stroke="#c6876a" stroke-opacity="0.55" stroke-width="0.8"/>
<circle cx="722.57" cy="1288.32" r="5.16" fill="#e7f3fa" stroke="#b8c2c8" stroke-opacity="0.55" stroke-width="0.8"/>
<circle cx="764.30" cy="1288.32" r="12.01" fill="#f6a17e" stroke="#c48064" stroke-opacity="0.55" stroke-width="0.8"/>
<circle cx="806.03" cy="1288.32" r="12.01" fill="#f6a17e" stroke="#c48064" stroke-opacity="0.55" stroke-width="0.8"/>
<circle cx="847.77" cy="1288.32" r="4.75" fill="#fff1e8" stroke="#ccc0b9" stroke-opacity="0.55" stroke-width="0.8"/>
<circle cx="889.50" cy="1288.32" r="4.24" fill="#e9eef3"/>
<circle cx="931.23" cy="1288.32" r="11.62" fill="#f8a985" stroke="#c6876a" stroke-opacity="0.55" stroke-width="0.8"/>
<circle cx="346.97" cy="1330.13" r="9.70" fill="#fec7ac" stroke="#cb9f89" stroke-opacity="0.55" stroke-width="0.8"/>
<circle cx="388.70" cy="1330.13" r="12.01" fill="#f6a17e" stroke="#c48064" stroke-opacity="0.55" stroke-width="0.8"/>
<circle cx="430.43" cy="1330.13" r="10.08" fill="#fdc2a5" stroke="#ca9b84" stroke-opacity="0.55" stroke-width="0.8"/>
<circle cx="472.17" cy="1330.13" r="6.39" fill="#ffe8d9" stroke="#ccb9ad" stroke-opacity="0.55" stroke-width="0.8"/>
<circle cx="513.90" cy="1330.13" r="5.16" fill="#ffefe5" stroke="#ccbfb7" stroke-opacity="0.55" stroke-width="0.8"/>
<circle cx="555.63" cy="1330.13" r="13.16" fill="#e8876a" stroke="#b96c54" stroke-opacity="0.55" stroke-width="0.8"/>
<circle cx="597.37" cy="1330.13" r="12.01" fill="#f6a17e" stroke="#c48064" stroke-opacity="0.55" stroke-width="0.8"/>
<circle cx="639.10" cy="1330.13" r="12.78" fill="#ed9071" stroke="#bd735a" stroke-opacity="0.55" stroke-width="0.8"/>
<circle cx="680.83" cy="1330.13" r="11.62" fill="#f8a985" stroke="#c6876a" stroke-opacity="0.55" stroke-width="0.8"/>
<circle cx="722.57" cy="1330.13" r="3.03" fill="#efebea"/>
<circle cx="764.30" cy="1330.13" r="12.01" fill="#f6a17e" stroke="#c48064" stroke-opacity="0.55" stroke-width="0.8"/>
<circle cx="806.03" cy="1330.13" r="13.16" fill="#e8876a" stroke="#b96c54" stroke-opacity="0.55" stroke-width="0.8"/>
<circle cx="847.77" cy="1330.13" r="7.23" fill="#ffe2d0" stroke="#ccb4a6" stroke-opacity="0.55" stroke-width="0.8"/>
<circle cx="889.50" cy="1330.13" r="1.44" fill="#e7e6e8"/>
<circle cx="931.23" cy="1330.13" r="9.32" fill="#ffcdb3" stroke="#cca48f" stroke-opacity="0.55" stroke-width="0.8"/>
<circle cx="346.97" cy="1371.94" r="11.62" fill="#f8a985" stroke="#c6876a" stroke-opacity="0.55" stroke-width="0.8"/>
<circle cx="388.70" cy="1371.94" r="13.93" fill="#de735b" stroke="#b15c48" stroke-opacity="0.55" stroke-width="0.8"/>
<circle cx="430.43" cy="1371.94" r="12.78" fill="#ed9071" stroke="#bd735a" stroke-opacity="0.55" stroke-width="0.8"/>
<circle cx="472.17" cy="1371.94" r="9.70" fill="#fec7ac" stroke="#cb9f89" stroke-opacity="0.55" stroke-width="0.8"/>
<circle cx="513.90" cy="1371.94" r="9.32" fill="#ffcdb3" stroke="#cca48f" stroke-opacity="0.55" stroke-width="0.8"/>
<circle cx="555.63" cy="1371.94" r="11.62" fill="#f8a985" stroke="#c6876a" stroke-opacity="0.55" stroke-width="0.8"/>
<circle cx="597.37" cy="1371.94" r="11.24" fill="#faaf8d" stroke="#c88c70" stroke-opacity="0.55" stroke-width="0.8"/>
<circle cx="639.10" cy="1371.94" r="12.39" fill="#f19877" stroke="#c0795f" stroke-opacity="0.55" stroke-width="0.8"/>
<circle cx="680.83" cy="1371.94" r="11.24" fill="#faaf8d" stroke="#c88c70" stroke-opacity="0.55" stroke-width="0.8"/>
<circle cx="722.57" cy="1371.94" r="3.83" fill="#f3ece9"/>
<circle cx="764.30" cy="1371.94" r="12.01" fill="#f6a17e" stroke="#c48064" stroke-opacity="0.55" stroke-width="0.8"/>
<circle cx="806.03" cy="1371.94" r="13.16" fill="#e8876a" stroke="#b96c54" stroke-opacity="0.55" stroke-width="0.8"/>
<circle cx="847.77" cy="1371.94" r="10.47" fill="#fcbc9d" stroke="#c9967d" stroke-opacity="0.55" stroke-width="0.8"/>
<circle cx="889.50" cy="1371.94" r="7.23" fill="#d4eaf5" stroke="#a9bbc4" stroke-opacity="0.55" stroke-width="0.8"/>
<circle cx="931.23" cy="1371.94" r="10.85" fill="#fbb695" stroke="#c89177" stroke-opacity="0.55" stroke-width="0.8"/>
<circle cx="346.97" cy="1413.74" r="4.75" fill="#fff1e8" stroke="#ccc0b9" stroke-opacity="0.55" stroke-width="0.8"/>
<circle cx="388.70" cy="1413.74" r="2.63" fill="#ede9ea"/>
<circle cx="430.43" cy="1413.74" r="5.57" fill="#ffede1" stroke="#ccbdb4" stroke-opacity="0.55" stroke-width="0.8"/>
<circle cx="472.17" cy="1413.74" r="8.07" fill="#ffdcc7" stroke="#ccb09f" stroke-opacity="0.55" stroke-width="0.8"/>
<circle cx="513.90" cy="1413.74" r="5.16" fill="#ffefe5" stroke="#ccbfb7" stroke-opacity="0.55" stroke-width="0.8"/>
<circle cx="555.63" cy="1413.74" r="2.23" fill="#ebe8ea"/>
<circle cx="597.37" cy="1413.74" r="4.24" fill="#e9eef3"/>
<circle cx="639.10" cy="1413.74" r="4.24" fill="#e9eef3"/>
<circle cx="680.83" cy="1413.74" r="4.75" fill="#fff1e8" stroke="#ccc0b9" stroke-opacity="0.55" stroke-width="0.8"/>
<circle cx="722.57" cy="1413.74" r="7.65" fill="#ffdfcc" stroke="#ccb2a3" stroke-opacity="0.55" stroke-width="0.8"/>
<circle cx="764.30" cy="1413.74" r="6.39" fill="#ddedf7" stroke="#b0bdc5" stroke-opacity="0.55" stroke-width="0.8"/>
<circle cx="806.03" cy="1413.74" r="3.03" fill="#efebea"/>
<circle cx="847.77" cy="1413.74" r="2.63" fill="#ede9ea"/>
<circle cx="889.50" cy="1413.74" r="7.23" fill="#d4eaf5" stroke="#a9bbc4" stroke-opacity="0.55" stroke-width="0.8"/>
<circle cx="931.23" cy="1413.74" r="5.57" fill="#e4f1f9" stroke="#b6c0c7" stroke-opacity="0.55" stroke-width="0.8"/>
<circle cx="346.97" cy="1455.55" r="8.91" fill="#bedff0" stroke="#98b2c0" stroke-opacity="0.55" stroke-width="0.8"/>
<circle cx="388.70" cy="1455.55" r="9.70" fill="#b0d9ed" stroke="#8cadbd" stroke-opacity="0.55" stroke-width="0.8"/>
<circle cx="430.43" cy="1455.55" r="10.08" fill="#a9d5ec" stroke="#87aabc" stroke-opacity="0.55" stroke-width="0.8"/>
<circle cx="472.17" cy="1455.55" r="10.85" fill="#9acfe8" stroke="#7ba5b9" stroke-opacity="0.55" stroke-width="0.8"/>
<circle cx="513.90" cy="1455.55" r="5.98" fill="#e0eff8" stroke="#b3bfc6" stroke-opacity="0.55" stroke-width="0.8"/>
<circle cx="555.63" cy="1455.55" r="8.49" fill="#ffd7c0" stroke="#ccac99" stroke-opacity="0.55" stroke-width="0.8"/>
<circle cx="597.37" cy="1455.55" r="7.65" fill="#ffdfcc" stroke="#ccb2a3" stroke-opacity="0.55" stroke-width="0.8"/>
<circle cx="639.10" cy="1455.55" r="8.07" fill="#ffdcc7" stroke="#ccb09f" stroke-opacity="0.55" stroke-width="0.8"/>
<circle cx="680.83" cy="1455.55" r="2.63" fill="#ede9ea"/>
<circle cx="722.57" cy="1455.55" r="11.62" fill="#8ac5e3" stroke="#6e9db5" stroke-opacity="0.55" stroke-width="0.8"/>
<circle cx="764.30" cy="1455.55" r="10.08" fill="#fdc2a5" stroke="#ca9b84" stroke-opacity="0.55" stroke-width="0.8"/>
<circle cx="806.03" cy="1455.55" r="7.65" fill="#ffdfcc" stroke="#ccb2a3" stroke-opacity="0.55" stroke-width="0.8"/>
<circle cx="847.77" cy="1455.55" r="8.49" fill="#c5e2f2" stroke="#9db4c1" stroke-opacity="0.55" stroke-width="0.8"/>
<circle cx="889.50" cy="1455.55" r="5.16" fill="#ffefe5" stroke="#ccbfb7" stroke-opacity="0.55" stroke-width="0.8"/>
<circle cx="931.23" cy="1455.55" r="6.81" fill="#ffe5d5" stroke="#ccb7aa" stroke-opacity="0.55" stroke-width="0.8"/>
<circle cx="346.97" cy="1497.36" r="12.01" fill="#f6a17e" stroke="#c48064" stroke-opacity="0.55" stroke-width="0.8"/>
<circle cx="388.70" cy="1497.36" r="10.85" fill="#fbb695" stroke="#c89177" stroke-opacity="0.55" stroke-width="0.8"/>
<circle cx="430.43" cy="1497.36" r="10.08" fill="#fdc2a5" stroke="#ca9b84" stroke-opacity="0.55" stroke-width="0.8"/>
<circle cx="472.17" cy="1497.36" r="1.44" fill="#e7e6e8"/>
<circle cx="513.90" cy="1497.36" r="5.98" fill="#ffeade" stroke="#ccbbb1" stroke-opacity="0.55" stroke-width="0.8"/>
<circle cx="555.63" cy="1497.36" r="13.93" fill="#de735b" stroke="#b15c48" stroke-opacity="0.55" stroke-width="0.8"/>
<circle cx="597.37" cy="1497.36" r="12.78" fill="#ed9071" stroke="#bd735a" stroke-opacity="0.55" stroke-width="0.8"/>
<circle cx="639.10" cy="1497.36" r="13.93" fill="#de735b" stroke="#b15c48" stroke-opacity="0.55" stroke-width="0.8"/>
<circle cx="680.83" cy="1497.36" r="11.24" fill="#faaf8d" stroke="#c88c70" stroke-opacity="0.55" stroke-width="0.8"/>
<circle cx="722.57" cy="1497.36" r="8.49" fill="#c5e2f2" stroke="#9db4c1" stroke-opacity="0.55" stroke-width="0.8"/>
<circle cx="764.30" cy="1497.36" r="13.93" fill="#de735b" stroke="#b15c48" stroke-opacity="0.55" stroke-width="0.8"/>
<circle cx="806.03" cy="1497.36" r="13.93" fill="#de735b" stroke="#b15c48" stroke-opacity="0.55" stroke-width="0.8"/>
<circle cx="847.77" cy="1497.36" r="8.07" fill="#ffdcc7" stroke="#ccb09f" stroke-opacity="0.55" stroke-width="0.8"/>
<circle cx="889.50" cy="1497.36" r="4.75" fill="#eaf4fa" stroke="#bbc3c8" stroke-opacity="0.55" stroke-width="0.8"/>
<circle cx="931.23" cy="1497.36" r="12.78" fill="#ed9071" stroke="#bd735a" stroke-opacity="0.55" stroke-width="0.8"/>
<circle cx="346.97" cy="1539.16" r="9.70" fill="#b0d9ed" stroke="#8cadbd" stroke-opacity="0.55" stroke-width="0.8"/>
<circle cx="388.70" cy="1539.16" r="9.70" fill="#b0d9ed" stroke="#8cadbd" stroke-opacity="0.55" stroke-width="0.8"/>
<circle cx="430.43" cy="1539.16" r="9.32" fill="#b7dcef" stroke="#92b0bf" stroke-opacity="0.55" stroke-width="0.8"/>
<circle cx="472.17" cy="1539.16" r="9.70" fill="#b0d9ed" stroke="#8cadbd" stroke-opacity="0.55" stroke-width="0.8"/>
<circle cx="513.90" cy="1539.16" r="3.83" fill="#f3ece9"/>
<circle cx="555.63" cy="1539.16" r="2.23" fill="#ebe8ea"/>
<circle cx="597.37" cy="1539.16" r="4.64" fill="#f7ede7"/>
<circle cx="639.10" cy="1539.16" r="4.64" fill="#f7ede7"/>
<circle cx="680.83" cy="1539.16" r="6.39" fill="#ddedf7" stroke="#b0bdc5" stroke-opacity="0.55" stroke-width="0.8"/>
<circle cx="722.57" cy="1539.16" r="10.47" fill="#a1d1ea" stroke="#80a7bb" stroke-opacity="0.55" stroke-width="0.8"/>
<circle cx="764.30" cy="1539.16" r="7.23" fill="#ffe2d0" stroke="#ccb4a6" stroke-opacity="0.55" stroke-width="0.8"/>
<circle cx="806.03" cy="1539.16" r="0.90" fill="#e4e4e6"/>
<circle cx="847.77" cy="1539.16" r="9.32" fill="#b7dcef" stroke="#92b0bf" stroke-opacity="0.55" stroke-width="0.8"/>
<circle cx="889.50" cy="1539.16" r="2.63" fill="#ede9ea"/>
<circle cx="931.23" cy="1539.16" r="1.05" fill="#e5e4e6"/>
<circle cx="346.97" cy="1580.97" r="11.24" fill="#faaf8d" stroke="#c88c70" stroke-opacity="0.55" stroke-width="0.8"/>
<circle cx="388.70" cy="1580.97" r="9.32" fill="#ffcdb3" stroke="#cca48f" stroke-opacity="0.55" stroke-width="0.8"/>
<circle cx="430.43" cy="1580.97" r="9.32" fill="#ffcdb3" stroke="#cca48f" stroke-opacity="0.55" stroke-width="0.8"/>
<circle cx="472.17" cy="1580.97" r="5.57" fill="#e4f1f9" stroke="#b6c0c7" stroke-opacity="0.55" stroke-width="0.8"/>
<circle cx="513.90" cy="1580.97" r="1.05" fill="#e5e4e6"/>
<circle cx="555.63" cy="1580.97" r="14.70" fill="#d55f4c" stroke="#aa4c3c" stroke-opacity="0.55" stroke-width="0.8"/>
<circle cx="597.37" cy="1580.97" r="13.55" fill="#e37d63" stroke="#b5644f" stroke-opacity="0.55" stroke-width="0.8"/>
<circle cx="639.10" cy="1580.97" r="14.70" fill="#d55f4c" stroke="#aa4c3c" stroke-opacity="0.55" stroke-width="0.8"/>
<circle cx="680.83" cy="1580.97" r="13.55" fill="#e37d63" stroke="#b5644f" stroke-opacity="0.55" stroke-width="0.8"/>
<circle cx="722.57" cy="1580.97" r="7.65" fill="#d0e8f4" stroke="#a6b9c3" stroke-opacity="0.55" stroke-width="0.8"/>
<circle cx="764.30" cy="1580.97" r="14.32" fill="#da6854" stroke="#ae5343" stroke-opacity="0.55" stroke-width="0.8"/>
<circle cx="806.03" cy="1580.97" r="14.32" fill="#da6854" stroke="#ae5343" stroke-opacity="0.55" stroke-width="0.8"/>
<circle cx="847.77" cy="1580.97" r="7.23" fill="#ffe2d0" stroke="#ccb4a6" stroke-opacity="0.55" stroke-width="0.8"/>
<circle cx="889.50" cy="1580.97" r="4.24" fill="#e9eef3"/>
<circle cx="931.23" cy="1580.97" r="12.78" fill="#ed9071" stroke="#bd735a" stroke-opacity="0.55" stroke-width="0.8"/>
<circle cx="346.97" cy="1622.78" r="8.91" fill="#ffd2ba" stroke="#cca894" stroke-opacity="0.55" stroke-width="0.8"/>
<circle cx="388.70" cy="1622.78" r="9.32" fill="#ffcdb3" stroke="#cca48f" stroke-opacity="0.55" stroke-width="0.8"/>
<circle cx="430.43" cy="1622.78" r="3.43" fill="#f1ecea"/>
<circle cx="472.17" cy="1622.78" r="2.23" fill="#ebe8ea"/>
<circle cx="513.90" cy="1622.78" r="1.44" fill="#e7e6e8"/>
<circle cx="555.63" cy="1622.78" r="10.85" fill="#fbb695" stroke="#c89177" stroke-opacity="0.55" stroke-width="0.8"/>
<circle cx="597.37" cy="1622.78" r="10.85" fill="#fbb695" stroke="#c89177" stroke-opacity="0.55" stroke-width="0.8"/>
<circle cx="639.10" cy="1622.78" r="12.39" fill="#f19877" stroke="#c0795f" stroke-opacity="0.55" stroke-width="0.8"/>
<circle cx="680.83" cy="1622.78" r="9.70" fill="#fec7ac" stroke="#cb9f89" stroke-opacity="0.55" stroke-width="0.8"/>
<circle cx="722.57" cy="1622.78" r="5.16" fill="#e7f3fa" stroke="#b8c2c8" stroke-opacity="0.55" stroke-width="0.8"/>
<circle cx="764.30" cy="1622.78" r="12.01" fill="#f6a17e" stroke="#c48064" stroke-opacity="0.55" stroke-width="0.8"/>
<circle cx="806.03" cy="1622.78" r="13.55" fill="#e37d63" stroke="#b5644f" stroke-opacity="0.55" stroke-width="0.8"/>
<circle cx="847.77" cy="1622.78" r="5.98" fill="#ffeade" stroke="#ccbbb1" stroke-opacity="0.55" stroke-width="0.8"/>
<circle cx="889.50" cy="1622.78" r="2.63" fill="#ede9ea"/>
<circle cx="931.23" cy="1622.78" r="10.08" fill="#fdc2a5" stroke="#ca9b84" stroke-opacity="0.55" stroke-width="0.8"/>
<circle cx="346.97" cy="1664.58" r="9.70" fill="#b0d9ed" stroke="#8cadbd" stroke-opacity="0.55" stroke-width="0.8"/>
<circle cx="388.70" cy="1664.58" r="10.08" fill="#a9d5ec" stroke="#87aabc" stroke-opacity="0.55" stroke-width="0.8"/>
<circle cx="430.43" cy="1664.58" r="10.08" fill="#a9d5ec" stroke="#87aabc" stroke-opacity="0.55" stroke-width="0.8"/>
<circle cx="472.17" cy="1664.58" r="11.24" fill="#92cae6" stroke="#74a1b8" stroke-opacity="0.55" stroke-width="0.8"/>
<circle cx="513.90" cy="1664.58" r="6.81" fill="#d9ecf7" stroke="#adbcc5" stroke-opacity="0.55" stroke-width="0.8"/>
<circle cx="555.63" cy="1664.58" r="5.98" fill="#ffeade" stroke="#ccbbb1" stroke-opacity="0.55" stroke-width="0.8"/>
<circle cx="597.37" cy="1664.58" r="6.81" fill="#ffe5d5" stroke="#ccb7aa" stroke-opacity="0.55" stroke-width="0.8"/>
<circle cx="639.10" cy="1664.58" r="6.81" fill="#ffe5d5" stroke="#ccb7aa" stroke-opacity="0.55" stroke-width="0.8"/>
<circle cx="680.83" cy="1664.58" r="7.23" fill="#d4eaf5" stroke="#a9bbc4" stroke-opacity="0.55" stroke-width="0.8"/>
<circle cx="722.57" cy="1664.58" r="11.62" fill="#8ac5e3" stroke="#6e9db5" stroke-opacity="0.55" stroke-width="0.8"/>
<circle cx="764.30" cy="1664.58" r="10.08" fill="#fdc2a5" stroke="#ca9b84" stroke-opacity="0.55" stroke-width="0.8"/>
<circle cx="806.03" cy="1664.58" r="5.98" fill="#ffeade" stroke="#ccbbb1" stroke-opacity="0.55" stroke-width="0.8"/>
<circle cx="847.77" cy="1664.58" r="8.49" fill="#c5e2f2" stroke="#9db4c1" stroke-opacity="0.55" stroke-width="0.8"/>
<circle cx="889.50" cy="1664.58" r="3.43" fill="#f1ecea"/>
<circle cx="931.23" cy="1664.58" r="5.98" fill="#ffeade" stroke="#ccbbb1" stroke-opacity="0.55" stroke-width="0.8"/>
<circle cx="346.97" cy="1706.39" r="8.07" fill="#cce6f4" stroke="#a3b8c3" stroke-opacity="0.55" stroke-width="0.8"/>
<circle cx="388.70" cy="1706.39" r="8.49" fill="#c5e2f2" stroke="#9db4c1" stroke-opacity="0.55" stroke-width="0.8"/>
<circle cx="430.43" cy="1706.39" r="8.91" fill="#bedff0" stroke="#98b2c0" stroke-opacity="0.55" stroke-width="0.8"/>
<circle cx="472.17" cy="1706.39" r="10.08" fill="#a9d5ec" stroke="#87aabc" stroke-opacity="0.55" stroke-width="0.8"/>
<circle cx="513.90" cy="1706.39" r="4.24" fill="#f5ede8"/>
<circle cx="555.63" cy="1706.39" r="7.65" fill="#ffdfcc" stroke="#ccb2a3" stroke-opacity="0.55" stroke-width="0.8"/>
<circle cx="597.37" cy="1706.39" r="7.65" fill="#ffdfcc" stroke="#ccb2a3" stroke-opacity="0.55" stroke-width="0.8"/>
<circle cx="639.10" cy="1706.39" r="7.65" fill="#ffdfcc" stroke="#ccb2a3" stroke-opacity="0.55" stroke-width="0.8"/>
<circle cx="680.83" cy="1706.39" r="3.03" fill="#efebea"/>
<circle cx="722.57" cy="1706.39" r="11.62" fill="#8ac5e3" stroke="#6e9db5" stroke-opacity="0.55" stroke-width="0.8"/>
<circle cx="764.30" cy="1706.39" r="10.08" fill="#fdc2a5" stroke="#ca9b84" stroke-opacity="0.55" stroke-width="0.8"/>
<circle cx="806.03" cy="1706.39" r="7.65" fill="#ffdfcc" stroke="#ccb2a3" stroke-opacity="0.55" stroke-width="0.8"/>
<circle cx="847.77" cy="1706.39" r="8.49" fill="#c5e2f2" stroke="#9db4c1" stroke-opacity="0.55" stroke-width="0.8"/>
<circle cx="889.50" cy="1706.39" r="5.57" fill="#ffede1" stroke="#ccbdb4" stroke-opacity="0.55" stroke-width="0.8"/>
<circle cx="931.23" cy="1706.39" r="9.32" fill="#ffcdb3" stroke="#cca48f" stroke-opacity="0.55" stroke-width="0.8"/>
<circle cx="346.97" cy="1748.20" r="9.70" fill="#fec7ac" stroke="#cb9f89" stroke-opacity="0.55" stroke-width="0.8"/>
<circle cx="388.70" cy="1748.20" r="1.44" fill="#e7e6e8"/>
<circle cx="430.43" cy="1748.20" r="4.64" fill="#f7ede7"/>
<circle cx="472.17" cy="1748.20" r="7.65" fill="#d0e8f4" stroke="#a6b9c3" stroke-opacity="0.55" stroke-width="0.8"/>
<circle cx="513.90" cy="1748.20" r="4.24" fill="#f5ede8"/>
<circle cx="555.63" cy="1748.20" r="13.55" fill="#e37d63" stroke="#b5644f" stroke-opacity="0.55" stroke-width="0.8"/>
<circle cx="597.37" cy="1748.20" r="11.24" fill="#faaf8d" stroke="#c88c70" stroke-opacity="0.55" stroke-width="0.8"/>
<circle cx="639.10" cy="1748.20" r="12.39" fill="#f19877" stroke="#c0795f" stroke-opacity="0.55" stroke-width="0.8"/>
<circle cx="680.83" cy="1748.20" r="10.47" fill="#fcbc9d" stroke="#c9967d" stroke-opacity="0.55" stroke-width="0.8"/>
<circle cx="722.57" cy="1748.20" r="8.49" fill="#c5e2f2" stroke="#9db4c1" stroke-opacity="0.55" stroke-width="0.8"/>
<circle cx="764.30" cy="1748.20" r="13.93" fill="#de735b" stroke="#b15c48" stroke-opacity="0.55" stroke-width="0.8"/>
<circle cx="806.03" cy="1748.20" r="12.39" fill="#f19877" stroke="#c0795f" stroke-opacity="0.55" stroke-width="0.8"/>
<circle cx="847.77" cy="1748.20" r="2.23" fill="#ebe8ea"/>
<circle cx="889.50" cy="1748.20" r="0.90" fill="#e4e4e6"/>
<circle cx="931.23" cy="1748.20" r="11.62" fill="#f8a985" stroke="#c6876a" stroke-opacity="0.55" stroke-width="0.8"/>
<text transform="translate(319.00,1166.50) scale(0.962,1)" text-anchor="end" font-size="16.0" fill="#1e1e1e" stroke="#1e1e1e" stroke-width="0.25">Lachnoclostridium</text>
<text transform="translate(319.00,1208.31) scale(0.962,1)" text-anchor="end" font-size="16.0" fill="#1e1e1e" stroke="#1e1e1e" stroke-width="0.25">unclassified_Lachnospiraceae</text>
<text transform="translate(319.00,1250.12) scale(0.962,1)" text-anchor="end" font-size="16.0" fill="#1e1e1e" stroke="#1e1e1e" stroke-width="0.25">Flavonifractor</text>
<text transform="translate(319.00,1291.92) scale(0.962,1)" text-anchor="end" font-size="16.0" fill="#1e1e1e" stroke="#1e1e1e" stroke-width="0.25">[Ruminococcus] gnavus group</text>
<text transform="translate(319.00,1333.73) scale(0.962,1)" text-anchor="end" font-size="16.0" fill="#1e1e1e" stroke="#1e1e1e" stroke-width="0.25">Erysipelatoclostridium</text>
<text transform="translate(319.00,1375.54) scale(0.962,1)" text-anchor="end" font-size="16.0" fill="#1e1e1e" stroke="#1e1e1e" stroke-width="0.25">[Clostridium] innocuum group</text>
<text transform="translate(319.00,1417.34) scale(0.962,1)" text-anchor="end" font-size="16.0" fill="#1e1e1e" stroke="#1e1e1e" stroke-width="0.25">Veillonella</text>
<text transform="translate(319.00,1459.15) scale(0.962,1)" text-anchor="end" font-size="16.0" fill="#1e1e1e" stroke="#1e1e1e" stroke-width="0.25">NK4A214 group</text>
<text transform="translate(319.00,1500.96) scale(0.962,1)" text-anchor="end" font-size="16.0" fill="#1e1e1e" stroke="#1e1e1e" stroke-width="0.25">Anaerostipes</text>
<text transform="translate(319.00,1542.76) scale(0.962,1)" text-anchor="end" font-size="16.0" fill="#1e1e1e" stroke="#1e1e1e" stroke-width="0.25">unidentified</text>
<text transform="translate(319.00,1584.57) scale(0.962,1)" text-anchor="end" font-size="16.0" fill="#1e1e1e" stroke="#1e1e1e" stroke-width="0.25">Blautia</text>
<text transform="translate(319.00,1626.38) scale(0.962,1)" text-anchor="end" font-size="16.0" fill="#1e1e1e" stroke="#1e1e1e" stroke-width="0.25">Lachnospiraceae UCG-004</text>
<text transform="translate(319.00,1668.18) scale(0.962,1)" text-anchor="end" font-size="16.0" fill="#1e1e1e" stroke="#1e1e1e" stroke-width="0.25">Family XIII AD3011 group</text>
<text transform="translate(319.00,1709.99) scale(0.962,1)" text-anchor="end" font-size="16.0" fill="#1e1e1e" stroke="#1e1e1e" stroke-width="0.25">UCG-002</text>
<text transform="translate(319.00,1751.80) scale(0.962,1)" text-anchor="end" font-size="16.0" fill="#1e1e1e" stroke="#1e1e1e" stroke-width="0.25">Agathobacter</text>
<text transform="translate(352.57,1136.10) rotate(-90) scale(0.98,1)" font-size="16.0" fill="#1e1e1e" stroke="#1e1e1e" stroke-width="0.25">Ursocholic acid</text>
<text transform="translate(394.30,1136.10) rotate(-90) scale(0.98,1)" font-size="16.0" fill="#1e1e1e" stroke="#1e1e1e" stroke-width="0.25">7-Dehydrocholic acid</text>
<text transform="translate(436.03,1136.10) rotate(-90) scale(0.98,1)" font-size="16.0" fill="#1e1e1e" stroke="#1e1e1e" stroke-width="0.25">3-Dehydrocholic acid</text>
<text transform="translate(477.77,1136.10) rotate(-90) scale(0.98,1)" font-size="16.0" fill="#1e1e1e" stroke="#1e1e1e" stroke-width="0.25">Chenodeoxycholic acid</text>
<text transform="translate(519.50,1136.10) rotate(-90) scale(0.98,1)" font-size="16.0" fill="#1e1e1e" stroke="#1e1e1e" stroke-width="0.25">Cholic acid</text>
<text transform="translate(561.23,1136.10) rotate(-90) scale(0.98,1)" font-size="16.0" fill="#1e1e1e" stroke="#1e1e1e" stroke-width="0.25">Butyric acid</text>
<text transform="translate(602.97,1136.10) rotate(-90) scale(0.98,1)" font-size="16.0" fill="#1e1e1e" stroke="#1e1e1e" stroke-width="0.25">2-Methylbutyric acid</text>
<text transform="translate(644.70,1136.10) rotate(-90) scale(0.98,1)" font-size="16.0" fill="#1e1e1e" stroke="#1e1e1e" stroke-width="0.25">Isovaleric acid</text>
<text transform="translate(686.43,1136.10) rotate(-90) scale(0.98,1)" font-size="16.0" fill="#1e1e1e" stroke="#1e1e1e" stroke-width="0.25">Desaminotyrosine</text>
<text transform="translate(728.17,1136.10) rotate(-90) scale(0.98,1)" font-size="16.0" fill="#1e1e1e" stroke="#1e1e1e" stroke-width="0.25">Ursodeoxycholic acid</text>
<text transform="translate(769.90,1136.10) rotate(-90) scale(0.98,1)" font-size="16.0" fill="#1e1e1e" stroke="#1e1e1e" stroke-width="0.25">Valeric acid</text>
<text transform="translate(811.63,1136.10) rotate(-90) scale(0.98,1)" font-size="16.0" fill="#1e1e1e" stroke="#1e1e1e" stroke-width="0.25">Propionic acid</text>
<text transform="translate(853.37,1136.10) rotate(-90) scale(0.98,1)" font-size="16.0" fill="#1e1e1e" stroke="#1e1e1e" stroke-width="0.25">g-Muricholic acid hyocholic acid</text>
<text transform="translate(895.10,1136.10) rotate(-90) scale(0.98,1)" font-size="16.0" fill="#1e1e1e" stroke="#1e1e1e" stroke-width="0.25">Glycodeoxycholic acid</text>
<text transform="translate(936.83,1136.10) rotate(-90) scale(0.98,1)" font-size="16.0" fill="#1e1e1e" stroke="#1e1e1e" stroke-width="0.25">Dehydrolithocholic acid</text>
<g stroke="#b6b6b6" stroke-width="1.3" fill="none">
<line x1="1202.00" y1="1135.60" x2="1202.00" y2="1761.60"/>
<line x1="1202.00" y1="1135.60" x2="1827.50" y2="1135.60"/>
<line x1="1243.70" y1="1135.60" x2="1243.70" y2="1761.60"/>
<line x1="1202.00" y1="1177.33" x2="1827.50" y2="1177.33"/>
<line x1="1285.40" y1="1135.60" x2="1285.40" y2="1761.60"/>
<line x1="1202.00" y1="1219.07" x2="1827.50" y2="1219.07"/>
<line x1="1327.10" y1="1135.60" x2="1327.10" y2="1761.60"/>
<line x1="1202.00" y1="1260.80" x2="1827.50" y2="1260.80"/>
<line x1="1368.80" y1="1135.60" x2="1368.80" y2="1761.60"/>
<line x1="1202.00" y1="1302.53" x2="1827.50" y2="1302.53"/>
<line x1="1410.50" y1="1135.60" x2="1410.50" y2="1761.60"/>
<line x1="1202.00" y1="1344.27" x2="1827.50" y2="1344.27"/>
<line x1="1452.20" y1="1135.60" x2="1452.20" y2="1761.60"/>
<line x1="1202.00" y1="1386.00" x2="1827.50" y2="1386.00"/>
<line x1="1493.90" y1="1135.60" x2="1493.90" y2="1761.60"/>
<line x1="1202.00" y1="1427.73" x2="1827.50" y2="1427.73"/>
<line x1="1535.60" y1="1135.60" x2="1535.60" y2="1761.60"/>
<line x1="1202.00" y1="1469.47" x2="1827.50" y2="1469.47"/>
<line x1="1577.30" y1="1135.60" x2="1577.30" y2="1761.60"/>
<line x1="1202.00" y1="1511.20" x2="1827.50" y2="1511.20"/>
<line x1="1619.00" y1="1135.60" x2="1619.00" y2="1761.60"/>
<line x1="1202.00" y1="1552.93" x2="1827.50" y2="1552.93"/>
<line x1="1660.70" y1="1135.60" x2="1660.70" y2="1761.60"/>
<line x1="1202.00" y1="1594.67" x2="1827.50" y2="1594.67"/>
<line x1="1702.40" y1="1135.60" x2="1702.40" y2="1761.60"/>
<line x1="1202.00" y1="1636.40" x2="1827.50" y2="1636.40"/>
<line x1="1744.10" y1="1135.60" x2="1744.10" y2="1761.60"/>
<line x1="1202.00" y1="1678.13" x2="1827.50" y2="1678.13"/>
<line x1="1785.80" y1="1135.60" x2="1785.80" y2="1761.60"/>
<line x1="1202.00" y1="1719.87" x2="1827.50" y2="1719.87"/>
<line x1="1827.50" y1="1135.60" x2="1827.50" y2="1761.60"/>
<line x1="1202.00" y1="1761.60" x2="1827.50" y2="1761.60"/>
</g>
<circle cx="1222.85" cy="1156.47" r="13.16" fill="#63a8d1" stroke="#4f86a7" stroke-opacity="0.55" stroke-width="0.8"/>
<circle cx="1264.55" cy="1156.47" r="8.07" fill="#cce5f4" stroke="#a3b7c3" stroke-opacity="0.55" stroke-width="0.8"/>
<circle cx="1306.25" cy="1156.47" r="14.70" fill="#d55e4c" stroke="#aa4b3c" stroke-opacity="0.55" stroke-width="0.8"/>
<circle cx="1347.95" cy="1156.47" r="11.62" fill="#8ac5e2" stroke="#6e9db4" stroke-opacity="0.55" stroke-width="0.8"/>
<circle cx="1389.65" cy="1156.47" r="7.65" fill="#d0e8f4" stroke="#a6b9c3" stroke-opacity="0.55" stroke-width="0.8"/>
<circle cx="1431.35" cy="1156.47" r="3.03" fill="#efebea"/>
<circle cx="1473.05" cy="1156.47" r="2.63" fill="#ede9ea"/>
<circle cx="1514.75" cy="1156.47" r="6.40" fill="#ddedf7" stroke="#b0bdc5" stroke-opacity="0.55" stroke-width="0.8"/>
<circle cx="1556.45" cy="1156.47" r="13.16" fill="#63a8d1" stroke="#4f86a7" stroke-opacity="0.55" stroke-width="0.8"/>
<circle cx="1598.15" cy="1156.47" r="13.16" fill="#e88669" stroke="#b96b54" stroke-opacity="0.55" stroke-width="0.8"/>
<circle cx="1639.85" cy="1156.47" r="12.78" fill="#ed9071" stroke="#bd735a" stroke-opacity="0.55" stroke-width="0.8"/>
<circle cx="1681.55" cy="1156.47" r="16.24" fill="#c53e3d" stroke="#9d3130" stroke-opacity="0.55" stroke-width="0.8"/>
<circle cx="1723.25" cy="1156.47" r="10.47" fill="#fcbc9d" stroke="#c9967d" stroke-opacity="0.55" stroke-width="0.8"/>
<circle cx="1764.95" cy="1156.47" r="2.63" fill="#ede9ea"/>
<circle cx="1806.65" cy="1156.47" r="5.98" fill="#e0eff8" stroke="#b3bfc6" stroke-opacity="0.55" stroke-width="0.8"/>
<circle cx="1222.85" cy="1198.20" r="11.24" fill="#92cae6" stroke="#74a1b8" stroke-opacity="0.55" stroke-width="0.8"/>
<circle cx="1264.55" cy="1198.20" r="8.07" fill="#cce5f4" stroke="#a3b7c3" stroke-opacity="0.55" stroke-width="0.8"/>
<circle cx="1306.25" cy="1198.20" r="15.47" fill="#cd4f45" stroke="#a43f37" stroke-opacity="0.55" stroke-width="0.8"/>
<circle cx="1347.95" cy="1198.20" r="10.85" fill="#9acde8" stroke="#7ba4b9" stroke-opacity="0.55" stroke-width="0.8"/>
<circle cx="1389.65" cy="1198.20" r="7.65" fill="#d0e8f4" stroke="#a6b9c3" stroke-opacity="0.55" stroke-width="0.8"/>
<circle cx="1431.35" cy="1198.20" r="3.83" fill="#f3ece9"/>
<circle cx="1473.05" cy="1198.20" r="2.63" fill="#ede9ea"/>
<circle cx="1514.75" cy="1198.20" r="3.83" fill="#f3ece9"/>
<circle cx="1556.45" cy="1198.20" r="13.16" fill="#63a8d1" stroke="#4f86a7" stroke-opacity="0.55" stroke-width="0.8"/>
<circle cx="1598.15" cy="1198.20" r="14.32" fill="#da6853" stroke="#ae5342" stroke-opacity="0.55" stroke-width="0.8"/>
<circle cx="1639.85" cy="1198.20" r="13.55" fill="#e27d63" stroke="#b4644f" stroke-opacity="0.55" stroke-width="0.8"/>
<circle cx="1681.55" cy="1198.20" r="14.70" fill="#d55e4c" stroke="#aa4b3c" stroke-opacity="0.55" stroke-width="0.8"/>
<circle cx="1723.25" cy="1198.20" r="10.47" fill="#fcbc9d" stroke="#c9967d" stroke-opacity="0.55" stroke-width="0.8"/>
<circle cx="1764.95" cy="1198.20" r="8.91" fill="#ffd2ba" stroke="#cca894" stroke-opacity="0.55" stroke-width="0.8"/>
<circle cx="1806.65" cy="1198.20" r="6.40" fill="#ddedf7" stroke="#b0bdc5" stroke-opacity="0.55" stroke-width="0.8"/>
<circle cx="1222.85" cy="1239.93" r="11.24" fill="#92cae6" stroke="#74a1b8" stroke-opacity="0.55" stroke-width="0.8"/>
<circle cx="1264.55" cy="1239.93" r="9.32" fill="#b7dcef" stroke="#92b0bf" stroke-opacity="0.55" stroke-width="0.8"/>
<circle cx="1306.25" cy="1239.93" r="13.93" fill="#de735b" stroke="#b15c48" stroke-opacity="0.55" stroke-width="0.8"/>
<circle cx="1347.95" cy="1239.93" r="10.08" fill="#a9d5ec" stroke="#87aabc" stroke-opacity="0.55" stroke-width="0.8"/>
<circle cx="1389.65" cy="1239.93" r="8.49" fill="#c5e2f2" stroke="#9db4c1" stroke-opacity="0.55" stroke-width="0.8"/>
<circle cx="1431.35" cy="1239.93" r="1.44" fill="#e7e6e8"/>
<circle cx="1473.05" cy="1239.93" r="6.40" fill="#ddedf7" stroke="#b0bdc5" stroke-opacity="0.55" stroke-width="0.8"/>
<circle cx="1514.75" cy="1239.93" r="6.81" fill="#d9ecf7" stroke="#adbcc5" stroke-opacity="0.55" stroke-width="0.8"/>
<circle cx="1556.45" cy="1239.93" r="12.01" fill="#80bedf" stroke="#6698b2" stroke-opacity="0.55" stroke-width="0.8"/>
<circle cx="1598.15" cy="1239.93" r="14.32" fill="#da6853" stroke="#ae5342" stroke-opacity="0.55" stroke-width="0.8"/>
<circle cx="1639.85" cy="1239.93" r="12.78" fill="#ed9071" stroke="#bd735a" stroke-opacity="0.55" stroke-width="0.8"/>
<circle cx="1681.55" cy="1239.93" r="12.78" fill="#ed9071" stroke="#bd735a" stroke-opacity="0.55" stroke-width="0.8"/>
<circle cx="1723.25" cy="1239.93" r="7.23" fill="#ffe2d0" stroke="#ccb4a6" stroke-opacity="0.55" stroke-width="0.8"/>
<circle cx="1764.95" cy="1239.93" r="1.05" fill="#e5e4e6"/>
<circle cx="1806.65" cy="1239.93" r="6.40" fill="#ffe8d9" stroke="#ccb9ad" stroke-opacity="0.55" stroke-width="0.8"/>
<circle cx="1222.85" cy="1281.67" r="9.70" fill="#b0d9ed" stroke="#8cadbd" stroke-opacity="0.55" stroke-width="0.8"/>
<circle cx="1264.55" cy="1281.67" r="8.49" fill="#c5e2f2" stroke="#9db4c1" stroke-opacity="0.55" stroke-width="0.8"/>
<circle cx="1306.25" cy="1281.67" r="12.39" fill="#f19877" stroke="#c0795f" stroke-opacity="0.55" stroke-width="0.8"/>
<circle cx="1347.95" cy="1281.67" r="8.91" fill="#bedff0" stroke="#98b2c0" stroke-opacity="0.55" stroke-width="0.8"/>
<circle cx="1389.65" cy="1281.67" r="2.23" fill="#ebe8ea"/>
<circle cx="1431.35" cy="1281.67" r="4.24" fill="#f5ede8"/>
<circle cx="1473.05" cy="1281.67" r="7.23" fill="#d4eaf5" stroke="#a9bbc4" stroke-opacity="0.55" stroke-width="0.8"/>
<circle cx="1514.75" cy="1281.67" r="3.03" fill="#efebea"/>
<circle cx="1556.45" cy="1281.67" r="11.62" fill="#8ac5e2" stroke="#6e9db4" stroke-opacity="0.55" stroke-width="0.8"/>
<circle cx="1598.15" cy="1281.67" r="12.01" fill="#f6a17e" stroke="#c48064" stroke-opacity="0.55" stroke-width="0.8"/>
<circle cx="1639.85" cy="1281.67" r="9.70" fill="#fec7ac" stroke="#cb9f89" stroke-opacity="0.55" stroke-width="0.8"/>
<circle cx="1681.55" cy="1281.67" r="13.93" fill="#de735b" stroke="#b15c48" stroke-opacity="0.55" stroke-width="0.8"/>
<circle cx="1723.25" cy="1281.67" r="10.47" fill="#fcbc9d" stroke="#c9967d" stroke-opacity="0.55" stroke-width="0.8"/>
<circle cx="1764.95" cy="1281.67" r="6.81" fill="#d9ecf7" stroke="#adbcc5" stroke-opacity="0.55" stroke-width="0.8"/>
<circle cx="1806.65" cy="1281.67" r="7.65" fill="#d0e8f4" stroke="#a6b9c3" stroke-opacity="0.55" stroke-width="0.8"/>
<circle cx="1222.85" cy="1323.40" r="10.08" fill="#a9d5ec" stroke="#87aabc" stroke-opacity="0.55" stroke-width="0.8"/>
<circle cx="1264.55" cy="1323.40" r="10.85" fill="#9acde8" stroke="#7ba4b9" stroke-opacity="0.55" stroke-width="0.8"/>
<circle cx="1306.25" cy="1323.40" r="12.78" fill="#ed9071" stroke="#bd735a" stroke-opacity="0.55" stroke-width="0.8"/>
<circle cx="1347.95" cy="1323.40" r="9.32" fill="#b7dcef" stroke="#92b0bf" stroke-opacity="0.55" stroke-width="0.8"/>
<circle cx="1389.65" cy="1323.40" r="9.32" fill="#b7dcef" stroke="#92b0bf" stroke-opacity="0.55" stroke-width="0.8"/>
<circle cx="1431.35" cy="1323.40" r="4.64" fill="#e9eff4"/>
<circle cx="1473.05" cy="1323.40" r="9.70" fill="#b0d9ed" stroke="#8cadbd" stroke-opacity="0.55" stroke-width="0.8"/>
<circle cx="1514.75" cy="1323.40" r="8.07" fill="#cce5f4" stroke="#a3b7c3" stroke-opacity="0.55" stroke-width="0.8"/>
<circle cx="1556.45" cy="1323.40" r="11.62" fill="#8ac5e2" stroke="#6e9db4" stroke-opacity="0.55" stroke-width="0.8"/>
<circle cx="1598.15" cy="1323.40" r="14.32" fill="#da6853" stroke="#ae5342" stroke-opacity="0.55" stroke-width="0.8"/>
<circle cx="1639.85" cy="1323.40" r="9.32" fill="#ffcdb3" stroke="#cca48f" stroke-opacity="0.55" stroke-width="0.8"/>
<circle cx="1681.55" cy="1323.40" r="11.24" fill="#faaf8d" stroke="#c88c70" stroke-opacity="0.55" stroke-width="0.8"/>
<circle cx="1723.25" cy="1323.40" r="7.23" fill="#ffe2d0" stroke="#ccb4a6" stroke-opacity="0.55" stroke-width="0.8"/>
<circle cx="1764.95" cy="1323.40" r="6.81" fill="#d9ecf7" stroke="#adbcc5" stroke-opacity="0.55" stroke-width="0.8"/>
<circle cx="1806.65" cy="1323.40" r="5.98" fill="#ffeade" stroke="#ccbbb1" stroke-opacity="0.55" stroke-width="0.8"/>
<circle cx="1222.85" cy="1365.13" r="9.70" fill="#b0d9ed" stroke="#8cadbd" stroke-opacity="0.55" stroke-width="0.8"/>
<circle cx="1264.55" cy="1365.13" r="8.07" fill="#cce5f4" stroke="#a3b7c3" stroke-opacity="0.55" stroke-width="0.8"/>
<circle cx="1306.25" cy="1365.13" r="10.47" fill="#fcbc9d" stroke="#c9967d" stroke-opacity="0.55" stroke-width="0.8"/>
<circle cx="1347.95" cy="1365.13" r="9.70" fill="#b0d9ed" stroke="#8cadbd" stroke-opacity="0.55" stroke-width="0.8"/>
<circle cx="1389.65" cy="1365.13" r="6.40" fill="#ddedf7" stroke="#b0bdc5" stroke-opacity="0.55" stroke-width="0.8"/>
<circle cx="1431.35" cy="1365.13" r="1.84" fill="#e9e7e9"/>
<circle cx="1473.05" cy="1365.13" r="7.23" fill="#d4eaf5" stroke="#a9bbc4" stroke-opacity="0.55" stroke-width="0.8"/>
<circle cx="1514.75" cy="1365.13" r="6.81" fill="#d9ecf7" stroke="#adbcc5" stroke-opacity="0.55" stroke-width="0.8"/>
<circle cx="1556.45" cy="1365.13" r="11.62" fill="#8ac5e2" stroke="#6e9db4" stroke-opacity="0.55" stroke-width="0.8"/>
<circle cx="1598.15" cy="1365.13" r="12.01" fill="#f6a17e" stroke="#c48064" stroke-opacity="0.55" stroke-width="0.8"/>
<circle cx="1639.85" cy="1365.13" r="8.07" fill="#ffdcc7" stroke="#ccb09f" stroke-opacity="0.55" stroke-width="0.8"/>
<circle cx="1681.55" cy="1365.13" r="6.81" fill="#ffe5d5" stroke="#ccb7aa" stroke-opacity="0.55" stroke-width="0.8"/>
<circle cx="1723.25" cy="1365.13" r="7.23" fill="#ffe2d0" stroke="#ccb4a6" stroke-opacity="0.55" stroke-width="0.8"/>
<circle cx="1764.95" cy="1365.13" r="3.83" fill="#f3ece9"/>
<circle cx="1806.65" cy="1365.13" r="11.24" fill="#faaf8d" stroke="#c88c70" stroke-opacity="0.55" stroke-width="0.8"/>
<circle cx="1222.85" cy="1406.87" r="11.24" fill="#92cae6" stroke="#74a1b8" stroke-opacity="0.55" stroke-width="0.8"/>
<circle cx="1264.55" cy="1406.87" r="8.49" fill="#c5e2f2" stroke="#9db4c1" stroke-opacity="0.55" stroke-width="0.8"/>
<circle cx="1306.25" cy="1406.87" r="7.23" fill="#ffe2d0" stroke="#ccb4a6" stroke-opacity="0.55" stroke-width="0.8"/>
<circle cx="1347.95" cy="1406.87" r="10.85" fill="#9acde8" stroke="#7ba4b9" stroke-opacity="0.55" stroke-width="0.8"/>
<circle cx="1389.65" cy="1406.87" r="10.85" fill="#9acde8" stroke="#7ba4b9" stroke-opacity="0.55" stroke-width="0.8"/>
<circle cx="1431.35" cy="1406.87" r="9.32" fill="#b7dcef" stroke="#92b0bf" stroke-opacity="0.55" stroke-width="0.8"/>
<circle cx="1473.05" cy="1406.87" r="7.65" fill="#d0e8f4" stroke="#a6b9c3" stroke-opacity="0.55" stroke-width="0.8"/>
<circle cx="1514.75" cy="1406.87" r="10.85" fill="#9acde8" stroke="#7ba4b9" stroke-opacity="0.55" stroke-width="0.8"/>
<circle cx="1556.45" cy="1406.87" r="2.63" fill="#ede9ea"/>
<circle cx="1598.15" cy="1406.87" r="8.49" fill="#ffd8c0" stroke="#ccac99" stroke-opacity="0.55" stroke-width="0.8"/>
<circle cx="1639.85" cy="1406.87" r="6.40" fill="#ffe8d9" stroke="#ccb9ad" stroke-opacity="0.55" stroke-width="0.8"/>
<circle cx="1681.55" cy="1406.87" r="9.32" fill="#ffcdb3" stroke="#cca48f" stroke-opacity="0.55" stroke-width="0.8"/>
<circle cx="1723.25" cy="1406.87" r="1.84" fill="#e9e7e9"/>
<circle cx="1764.95" cy="1406.87" r="3.83" fill="#f3ece9"/>
<circle cx="1806.65" cy="1406.87" r="5.16" fill="#ffefe5" stroke="#ccbfb7" stroke-opacity="0.55" stroke-width="0.8"/>
<circle cx="1222.85" cy="1448.60" r="12.39" fill="#f19877" stroke="#c0795f" stroke-opacity="0.55" stroke-width="0.8"/>
<circle cx="1264.55" cy="1448.60" r="10.47" fill="#fcbc9d" stroke="#c9967d" stroke-opacity="0.55" stroke-width="0.8"/>
<circle cx="1306.25" cy="1448.60" r="1.05" fill="#e5e4e6"/>
<circle cx="1347.95" cy="1448.60" r="11.62" fill="#f8a885" stroke="#c6866a" stroke-opacity="0.55" stroke-width="0.8"/>
<circle cx="1389.65" cy="1448.60" r="12.39" fill="#f19877" stroke="#c0795f" stroke-opacity="0.55" stroke-width="0.8"/>
<circle cx="1431.35" cy="1448.60" r="13.16" fill="#e88669" stroke="#b96b54" stroke-opacity="0.55" stroke-width="0.8"/>
<circle cx="1473.05" cy="1448.60" r="10.47" fill="#fcbc9d" stroke="#c9967d" stroke-opacity="0.55" stroke-width="0.8"/>
<circle cx="1514.75" cy="1448.60" r="14.70" fill="#d55e4c" stroke="#aa4b3c" stroke-opacity="0.55" stroke-width="0.8"/>
<circle cx="1556.45" cy="1448.60" r="6.81" fill="#d9ecf7" stroke="#adbcc5" stroke-opacity="0.55" stroke-width="0.8"/>
<circle cx="1598.15" cy="1448.60" r="1.44" fill="#e7e6e8"/>
<circle cx="1639.85" cy="1448.60" r="4.75" fill="#eaf4fa" stroke="#bbc3c8" stroke-opacity="0.55" stroke-width="0.8"/>
<circle cx="1681.55" cy="1448.60" r="6.40" fill="#ddedf7" stroke="#b0bdc5" stroke-opacity="0.55" stroke-width="0.8"/>
<circle cx="1723.25" cy="1448.60" r="5.16" fill="#e7f3fa" stroke="#b8c2c8" stroke-opacity="0.55" stroke-width="0.8"/>
<circle cx="1764.95" cy="1448.60" r="7.23" fill="#ffe2d0" stroke="#ccb4a6" stroke-opacity="0.55" stroke-width="0.8"/>
<circle cx="1806.65" cy="1448.60" r="10.85" fill="#9acde8" stroke="#7ba4b9" stroke-opacity="0.55" stroke-width="0.8"/>
<circle cx="1222.85" cy="1490.33" r="10.47" fill="#a1d1ea" stroke="#80a7bb" stroke-opacity="0.55" stroke-width="0.8"/>
<circle cx="1264.55" cy="1490.33" r="3.83" fill="#f3ece9"/>
<circle cx="1306.25" cy="1490.33" r="12.39" fill="#f19877" stroke="#c0795f" stroke-opacity="0.55" stroke-width="0.8"/>
<circle cx="1347.95" cy="1490.33" r="10.08" fill="#a9d5ec" stroke="#87aabc" stroke-opacity="0.55" stroke-width="0.8"/>
<circle cx="1389.65" cy="1490.33" r="3.03" fill="#efebea"/>
<circle cx="1431.35" cy="1490.33" r="2.63" fill="#ede9ea"/>
<circle cx="1473.05" cy="1490.33" r="2.23" fill="#ebe8ea"/>
<circle cx="1514.75" cy="1490.33" r="6.81" fill="#d9ecf7" stroke="#adbcc5" stroke-opacity="0.55" stroke-width="0.8"/>
<circle cx="1556.45" cy="1490.33" r="12.39" fill="#76b8da" stroke="#5e93ae" stroke-opacity="0.55" stroke-width="0.8"/>
<circle cx="1598.15" cy="1490.33" r="11.24" fill="#faaf8d" stroke="#c88c70" stroke-opacity="0.55" stroke-width="0.8"/>
<circle cx="1639.85" cy="1490.33" r="9.70" fill="#fec7ac" stroke="#cb9f89" stroke-opacity="0.55" stroke-width="0.8"/>
<circle cx="1681.55" cy="1490.33" r="13.93" fill="#de735b" stroke="#b15c48" stroke-opacity="0.55" stroke-width="0.8"/>
<circle cx="1723.25" cy="1490.33" r="8.07" fill="#ffdcc7" stroke="#ccb09f" stroke-opacity="0.55" stroke-width="0.8"/>
<circle cx="1764.95" cy="1490.33" r="7.23" fill="#ffe2d0" stroke="#ccb4a6" stroke-opacity="0.55" stroke-width="0.8"/>
<circle cx="1806.65" cy="1490.33" r="4.24" fill="#e9eef3"/>
<circle cx="1222.85" cy="1532.07" r="12.39" fill="#f19877" stroke="#c0795f" stroke-opacity="0.55" stroke-width="0.8"/>
<circle cx="1264.55" cy="1532.07" r="13.16" fill="#e88669" stroke="#b96b54" stroke-opacity="0.55" stroke-width="0.8"/>
<circle cx="1306.25" cy="1532.07" r="4.24" fill="#e9eef3"/>
<circle cx="1347.95" cy="1532.07" r="11.62" fill="#f8a885" stroke="#c6866a" stroke-opacity="0.55" stroke-width="0.8"/>
<circle cx="1389.65" cy="1532.07" r="12.39" fill="#f19877" stroke="#c0795f" stroke-opacity="0.55" stroke-width="0.8"/>
<circle cx="1431.35" cy="1532.07" r="8.49" fill="#ffd8c0" stroke="#ccac99" stroke-opacity="0.55" stroke-width="0.8"/>
<circle cx="1473.05" cy="1532.07" r="11.62" fill="#f8a885" stroke="#c6866a" stroke-opacity="0.55" stroke-width="0.8"/>
<circle cx="1514.75" cy="1532.07" r="12.78" fill="#ed9071" stroke="#bd735a" stroke-opacity="0.55" stroke-width="0.8"/>
<circle cx="1556.45" cy="1532.07" r="2.63" fill="#ede9ea"/>
<circle cx="1598.15" cy="1532.07" r="4.64" fill="#e9eff4"/>
<circle cx="1639.85" cy="1532.07" r="5.57" fill="#e4f1f9" stroke="#b6c0c7" stroke-opacity="0.55" stroke-width="0.8"/>
<circle cx="1681.55" cy="1532.07" r="4.24" fill="#e9eef3"/>
<circle cx="1723.25" cy="1532.07" r="4.75" fill="#eaf4fa" stroke="#bbc3c8" stroke-opacity="0.55" stroke-width="0.8"/>
<circle cx="1764.95" cy="1532.07" r="10.85" fill="#fbb595" stroke="#c89077" stroke-opacity="0.55" stroke-width="0.8"/>
<circle cx="1806.65" cy="1532.07" r="10.08" fill="#a9d5ec" stroke="#87aabc" stroke-opacity="0.55" stroke-width="0.8"/>
<circle cx="1222.85" cy="1573.80" r="9.70" fill="#b0d9ed" stroke="#8cadbd" stroke-opacity="0.55" stroke-width="0.8"/>
<circle cx="1264.55" cy="1573.80" r="8.07" fill="#cce5f4" stroke="#a3b7c3" stroke-opacity="0.55" stroke-width="0.8"/>
<circle cx="1306.25" cy="1573.80" r="14.70" fill="#d55e4c" stroke="#aa4b3c" stroke-opacity="0.55" stroke-width="0.8"/>
<circle cx="1347.95" cy="1573.80" r="9.70" fill="#b0d9ed" stroke="#8cadbd" stroke-opacity="0.55" stroke-width="0.8"/>
<circle cx="1389.65" cy="1573.80" r="5.98" fill="#e0eff8" stroke="#b3bfc6" stroke-opacity="0.55" stroke-width="0.8"/>
<circle cx="1431.35" cy="1573.80" r="1.44" fill="#e7e6e8"/>
<circle cx="1473.05" cy="1573.80" r="4.75" fill="#eaf4fa" stroke="#bbc3c8" stroke-opacity="0.55" stroke-width="0.8"/>
<circle cx="1514.75" cy="1573.80" r="3.43" fill="#f1ecea"/>
<circle cx="1556.45" cy="1573.80" r="12.39" fill="#76b8da" stroke="#5e93ae" stroke-opacity="0.55" stroke-width="0.8"/>
<circle cx="1598.15" cy="1573.80" r="14.32" fill="#da6853" stroke="#ae5342" stroke-opacity="0.55" stroke-width="0.8"/>
<circle cx="1639.85" cy="1573.80" r="12.39" fill="#f19877" stroke="#c0795f" stroke-opacity="0.55" stroke-width="0.8"/>
<circle cx="1681.55" cy="1573.80" r="14.70" fill="#d55e4c" stroke="#aa4b3c" stroke-opacity="0.55" stroke-width="0.8"/>
<circle cx="1723.25" cy="1573.80" r="10.47" fill="#fcbc9d" stroke="#c9967d" stroke-opacity="0.55" stroke-width="0.8"/>
<circle cx="1764.95" cy="1573.80" r="9.32" fill="#ffcdb3" stroke="#cca48f" stroke-opacity="0.55" stroke-width="0.8"/>
<circle cx="1806.65" cy="1573.80" r="6.81" fill="#d9ecf7" stroke="#adbcc5" stroke-opacity="0.55" stroke-width="0.8"/>
<circle cx="1222.85" cy="1615.53" r="6.81" fill="#d9ecf7" stroke="#adbcc5" stroke-opacity="0.55" stroke-width="0.8"/>
<circle cx="1264.55" cy="1615.53" r="1.05" fill="#e5e4e6"/>
<circle cx="1306.25" cy="1615.53" r="9.32" fill="#ffcdb3" stroke="#cca48f" stroke-opacity="0.55" stroke-width="0.8"/>
<circle cx="1347.95" cy="1615.53" r="5.98" fill="#e0eff8" stroke="#b3bfc6" stroke-opacity="0.55" stroke-width="0.8"/>
<circle cx="1389.65" cy="1615.53" r="2.23" fill="#ebe8ea"/>
<circle cx="1431.35" cy="1615.53" r="3.43" fill="#f1ecea"/>
<circle cx="1473.05" cy="1615.53" r="5.57" fill="#ffede1" stroke="#ccbdb4" stroke-opacity="0.55" stroke-width="0.8"/>
<circle cx="1514.75" cy="1615.53" r="3.83" fill="#f3ece9"/>
<circle cx="1556.45" cy="1615.53" r="10.47" fill="#a1d1ea" stroke="#80a7bb" stroke-opacity="0.55" stroke-width="0.8"/>
<circle cx="1598.15" cy="1615.53" r="6.40" fill="#ffe8d9" stroke="#ccb9ad" stroke-opacity="0.55" stroke-width="0.8"/>
<circle cx="1639.85" cy="1615.53" r="8.07" fill="#ffdcc7" stroke="#ccb09f" stroke-opacity="0.55" stroke-width="0.8"/>
<circle cx="1681.55" cy="1615.53" r="12.01" fill="#f6a17e" stroke="#c48064" stroke-opacity="0.55" stroke-width="0.8"/>
<circle cx="1723.25" cy="1615.53" r="10.85" fill="#fbb595" stroke="#c89077" stroke-opacity="0.55" stroke-width="0.8"/>
<circle cx="1764.95" cy="1615.53" r="4.75" fill="#fff1e8" stroke="#ccc0b9" stroke-opacity="0.55" stroke-width="0.8"/>
<circle cx="1806.65" cy="1615.53" r="6.40" fill="#ffe8d9" stroke="#ccb9ad" stroke-opacity="0.55" stroke-width="0.8"/>
<circle cx="1222.85" cy="1657.27" r="9.32" fill="#ffcdb3" stroke="#cca48f" stroke-opacity="0.55" stroke-width="0.8"/>
<circle cx="1264.55" cy="1657.27" r="13.16" fill="#e88669" stroke="#b96b54" stroke-opacity="0.55" stroke-width="0.8"/>
<circle cx="1306.25" cy="1657.27" r="4.64" fill="#f7ede7"/>
<circle cx="1347.95" cy="1657.27" r="9.32" fill="#ffcdb3" stroke="#cca48f" stroke-opacity="0.55" stroke-width="0.8"/>
<circle cx="1389.65" cy="1657.27" r="12.39" fill="#f19877" stroke="#c0795f" stroke-opacity="0.55" stroke-width="0.8"/>
<circle cx="1431.35" cy="1657.27" r="9.32" fill="#ffcdb3" stroke="#cca48f" stroke-opacity="0.55" stroke-width="0.8"/>
<circle cx="1473.05" cy="1657.27" r="13.55" fill="#e27d63" stroke="#b4644f" stroke-opacity="0.55" stroke-width="0.8"/>
<circle cx="1514.75" cy="1657.27" r="11.24" fill="#faaf8d" stroke="#c88c70" stroke-opacity="0.55" stroke-width="0.8"/>
<circle cx="1556.45" cy="1657.27" r="6.81" fill="#d9ecf7" stroke="#adbcc5" stroke-opacity="0.55" stroke-width="0.8"/>
<circle cx="1598.15" cy="1657.27" r="2.23" fill="#ebe8ea"/>
<circle cx="1639.85" cy="1657.27" r="5.16" fill="#ffefe5" stroke="#ccbfb7" stroke-opacity="0.55" stroke-width="0.8"/>
<circle cx="1681.55" cy="1657.27" r="1.44" fill="#e7e6e8"/>
<circle cx="1723.25" cy="1657.27" r="4.24" fill="#e9eef3"/>
<circle cx="1764.95" cy="1657.27" r="10.08" fill="#fdc1a5" stroke="#ca9a84" stroke-opacity="0.55" stroke-width="0.8"/>
<circle cx="1806.65" cy="1657.27" r="10.08" fill="#a9d5ec" stroke="#87aabc" stroke-opacity="0.55" stroke-width="0.8"/>
<circle cx="1222.85" cy="1699.00" r="9.32" fill="#ffcdb3" stroke="#cca48f" stroke-opacity="0.55" stroke-width="0.8"/>
<circle cx="1264.55" cy="1699.00" r="12.39" fill="#f19877" stroke="#c0795f" stroke-opacity="0.55" stroke-width="0.8"/>
<circle cx="1306.25" cy="1699.00" r="3.43" fill="#f1ecea"/>
<circle cx="1347.95" cy="1699.00" r="7.65" fill="#ffdfcc" stroke="#ccb2a3" stroke-opacity="0.55" stroke-width="0.8"/>
<circle cx="1389.65" cy="1699.00" r="12.39" fill="#f19877" stroke="#c0795f" stroke-opacity="0.55" stroke-width="0.8"/>
<circle cx="1431.35" cy="1699.00" r="11.62" fill="#f8a885" stroke="#c6866a" stroke-opacity="0.55" stroke-width="0.8"/>
<circle cx="1473.05" cy="1699.00" r="10.85" fill="#fbb595" stroke="#c89077" stroke-opacity="0.55" stroke-width="0.8"/>
<circle cx="1514.75" cy="1699.00" r="13.93" fill="#de735b" stroke="#b15c48" stroke-opacity="0.55" stroke-width="0.8"/>
<circle cx="1556.45" cy="1699.00" r="1.84" fill="#e9e7e9"/>
<circle cx="1598.15" cy="1699.00" r="4.75" fill="#eaf4fa" stroke="#bbc3c8" stroke-opacity="0.55" stroke-width="0.8"/>
<circle cx="1639.85" cy="1699.00" r="4.64" fill="#e9eff4"/>
<circle cx="1681.55" cy="1699.00" r="1.84" fill="#e9e7e9"/>
<circle cx="1723.25" cy="1699.00" r="8.49" fill="#c5e2f2" stroke="#9db4c1" stroke-opacity="0.55" stroke-width="0.8"/>
<circle cx="1764.95" cy="1699.00" r="9.70" fill="#fec7ac" stroke="#cb9f89" stroke-opacity="0.55" stroke-width="0.8"/>
<circle cx="1806.65" cy="1699.00" r="10.85" fill="#9acde8" stroke="#7ba4b9" stroke-opacity="0.55" stroke-width="0.8"/>
<circle cx="1222.85" cy="1740.73" r="9.70" fill="#b0d9ed" stroke="#8cadbd" stroke-opacity="0.55" stroke-width="0.8"/>
<circle cx="1264.55" cy="1740.73" r="2.23" fill="#ebe8ea"/>
<circle cx="1306.25" cy="1740.73" r="12.39" fill="#f19877" stroke="#c0795f" stroke-opacity="0.55" stroke-width="0.8"/>
<circle cx="1347.95" cy="1740.73" r="9.32" fill="#b7dcef" stroke="#92b0bf" stroke-opacity="0.55" stroke-width="0.8"/>
<circle cx="1389.65" cy="1740.73" r="3.03" fill="#efebea"/>
<circle cx="1431.35" cy="1740.73" r="5.98" fill="#e0eff8" stroke="#b3bfc6" stroke-opacity="0.55" stroke-width="0.8"/>
<circle cx="1473.05" cy="1740.73" r="7.65" fill="#ffdfcc" stroke="#ccb2a3" stroke-opacity="0.55" stroke-width="0.8"/>
<circle cx="1514.75" cy="1740.73" r="3.03" fill="#efebea"/>
<circle cx="1556.45" cy="1740.73" r="10.08" fill="#a9d5ec" stroke="#87aabc" stroke-opacity="0.55" stroke-width="0.8"/>
<circle cx="1598.15" cy="1740.73" r="11.24" fill="#faaf8d" stroke="#c88c70" stroke-opacity="0.55" stroke-width="0.8"/>
<circle cx="1639.85" cy="1740.73" r="13.16" fill="#e88669" stroke="#b96b54" stroke-opacity="0.55" stroke-width="0.8"/>
<circle cx="1681.55" cy="1740.73" r="13.93" fill="#de735b" stroke="#b15c48" stroke-opacity="0.55" stroke-width="0.8"/>
<circle cx="1723.25" cy="1740.73" r="10.47" fill="#fcbc9d" stroke="#c9967d" stroke-opacity="0.55" stroke-width="0.8"/>
<circle cx="1764.95" cy="1740.73" r="7.23" fill="#ffe2d0" stroke="#ccb4a6" stroke-opacity="0.55" stroke-width="0.8"/>
<circle cx="1806.65" cy="1740.73" r="5.98" fill="#e0eff8" stroke="#b3bfc6" stroke-opacity="0.55" stroke-width="0.8"/>
<text transform="translate(1195.00,1160.87) scale(0.962,1)" text-anchor="end" font-size="16.0" fill="#1e1e1e" stroke="#1e1e1e" stroke-width="0.25">Lachnoclostridium</text>
<text transform="translate(1195.00,1202.60) scale(0.962,1)" text-anchor="end" font-size="16.0" fill="#1e1e1e" stroke="#1e1e1e" stroke-width="0.25">unclassified_Lachnospiraceae</text>
<text transform="translate(1195.00,1244.33) scale(0.962,1)" text-anchor="end" font-size="16.0" fill="#1e1e1e" stroke="#1e1e1e" stroke-width="0.25">Flavonifractor</text>
<text transform="translate(1195.00,1286.07) scale(0.962,1)" text-anchor="end" font-size="16.0" fill="#1e1e1e" stroke="#1e1e1e" stroke-width="0.25">[Ruminococcus] gnavus group</text>
<text transform="translate(1195.00,1327.80) scale(0.962,1)" text-anchor="end" font-size="16.0" fill="#1e1e1e" stroke="#1e1e1e" stroke-width="0.25">Erysipelatoclostridium</text>
<text transform="translate(1195.00,1369.53) scale(0.962,1)" text-anchor="end" font-size="16.0" fill="#1e1e1e" stroke="#1e1e1e" stroke-width="0.25">[Clostridium] innocuum group</text>
<text transform="translate(1195.00,1411.27) scale(0.962,1)" text-anchor="end" font-size="16.0" fill="#1e1e1e" stroke="#1e1e1e" stroke-width="0.25">Veillonella</text>
<text transform="translate(1195.00,1453.00) scale(0.962,1)" text-anchor="end" font-size="16.0" fill="#1e1e1e" stroke="#1e1e1e" stroke-width="0.25">NK4A214 group</text>
<text transform="translate(1195.00,1494.73) scale(0.962,1)" text-anchor="end" font-size="16.0" fill="#1e1e1e" stroke="#1e1e1e" stroke-width="0.25">Anaerostipes</text>
<text transform="translate(1195.00,1536.47) scale(0.962,1)" text-anchor="end" font-size="16.0" fill="#1e1e1e" stroke="#1e1e1e" stroke-width="0.25">unidentified</text>
<text transform="translate(1195.00,1578.20) scale(0.962,1)" text-anchor="end" font-size="16.0" fill="#1e1e1e" stroke="#1e1e1e" stroke-width="0.25">Blautia</text>
<text transform="translate(1195.00,1619.93) scale(0.962,1)" text-anchor="end" font-size="16.0" fill="#1e1e1e" stroke="#1e1e1e" stroke-width="0.25">Lachnospiraceae UCG-004</text>
<text transform="translate(1195.00,1661.67) scale(0.962,1)" text-anchor="end" font-size="16.0" fill="#1e1e1e" stroke="#1e1e1e" stroke-width="0.25">Family XIII AD3011 group</text>
<text transform="translate(1195.00,1703.40) scale(0.962,1)" text-anchor="end" font-size="16.0" fill="#1e1e1e" stroke="#1e1e1e" stroke-width="0.25">UCG-002</text>
<text transform="translate(1195.00,1745.13) scale(0.962,1)" text-anchor="end" font-size="16.0" fill="#1e1e1e" stroke="#1e1e1e" stroke-width="0.25">Agathobacter</text>
<text transform="translate(1228.45,1129.70) rotate(-90) scale(0.955,1)" font-size="16.0" fill="#1e1e1e" stroke="#1e1e1e" stroke-width="0.25">BAX6_V__456</text>
<text transform="translate(1270.15,1129.70) rotate(-90) scale(0.955,1)" font-size="16.0" fill="#1e1e1e" stroke="#1e1e1e" stroke-width="0.25">VC_163_0</text>
<text transform="translate(1311.85,1129.70) rotate(-90) scale(0.955,1)" font-size="16.0" fill="#1e1e1e" stroke="#1e1e1e" stroke-width="0.25">BAC3_V__5269</text>
<text transform="translate(1353.55,1129.70) rotate(-90) scale(0.955,1)" font-size="16.0" fill="#1e1e1e" stroke="#1e1e1e" stroke-width="0.25">BAX1_V__456</text>
<text transform="translate(1395.25,1129.70) rotate(-90) scale(0.955,1)" font-size="16.0" fill="#1e1e1e" stroke="#1e1e1e" stroke-width="0.25">G23J_7936V__5674</text>
<text transform="translate(1436.95,1129.70) rotate(-90) scale(0.955,1)" font-size="16.0" fill="#1e1e1e" stroke="#1e1e1e" stroke-width="0.25">VC_767_0</text>
<text transform="translate(1478.65,1129.70) rotate(-90) scale(0.955,1)" font-size="16.0" fill="#1e1e1e" stroke="#1e1e1e" stroke-width="0.25">G01M_8520_V__5417</text>
<text transform="translate(1520.35,1129.70) rotate(-90) scale(0.955,1)" font-size="16.0" fill="#1e1e1e" stroke="#1e1e1e" stroke-width="0.25">G01M_8396_V__433</text>
<text transform="translate(1562.05,1129.70) rotate(-90) scale(0.955,1)" font-size="16.0" fill="#1e1e1e" stroke="#1e1e1e" stroke-width="0.25">G01M_8528_V__367</text>
<text transform="translate(1603.75,1129.70) rotate(-90) scale(0.955,1)" font-size="16.0" fill="#1e1e1e" stroke="#1e1e1e" stroke-width="0.25">VC_62_0</text>
<text transform="translate(1645.45,1129.70) rotate(-90) scale(0.955,1)" font-size="16.0" fill="#1e1e1e" stroke="#1e1e1e" stroke-width="0.25">VC_64_0</text>
<text transform="translate(1687.15,1129.70) rotate(-90) scale(0.955,1)" font-size="16.0" fill="#1e1e1e" stroke="#1e1e1e" stroke-width="0.25">VC_27_1</text>
<text transform="translate(1728.85,1129.70) rotate(-90) scale(0.955,1)" font-size="16.0" fill="#1e1e1e" stroke="#1e1e1e" stroke-width="0.25">G23J_8062V__5887</text>
<text transform="translate(1770.55,1129.70) rotate(-90) scale(0.955,1)" font-size="16.0" fill="#1e1e1e" stroke="#1e1e1e" stroke-width="0.25">VC_478_1</text>
<text transform="translate(1812.25,1129.70) rotate(-90) scale(0.955,1)" font-size="16.0" fill="#1e1e1e" stroke="#1e1e1e" stroke-width="0.25">BAY1_V__645</text>
<g stroke="#b6b6b6" stroke-width="1.3" fill="none">
<line x1="324.40" y1="2074.80" x2="324.40" y2="2704.70"/>
<line x1="324.40" y1="2074.80" x2="953.50" y2="2074.80"/>
<line x1="366.34" y1="2074.80" x2="366.34" y2="2704.70"/>
<line x1="324.40" y1="2116.79" x2="953.50" y2="2116.79"/>
<line x1="408.28" y1="2074.80" x2="408.28" y2="2704.70"/>
<line x1="324.40" y1="2158.79" x2="953.50" y2="2158.79"/>
<line x1="450.22" y1="2074.80" x2="450.22" y2="2704.70"/>
<line x1="324.40" y1="2200.78" x2="953.50" y2="2200.78"/>
<line x1="492.16" y1="2074.80" x2="492.16" y2="2704.70"/>
<line x1="324.40" y1="2242.77" x2="953.50" y2="2242.77"/>
<line x1="534.10" y1="2074.80" x2="534.10" y2="2704.70"/>
<line x1="324.40" y1="2284.77" x2="953.50" y2="2284.77"/>
<line x1="576.04" y1="2074.80" x2="576.04" y2="2704.70"/>
<line x1="324.40" y1="2326.76" x2="953.50" y2="2326.76"/>
<line x1="617.98" y1="2074.80" x2="617.98" y2="2704.70"/>
<line x1="324.40" y1="2368.75" x2="953.50" y2="2368.75"/>
<line x1="659.92" y1="2074.80" x2="659.92" y2="2704.70"/>
<line x1="324.40" y1="2410.75" x2="953.50" y2="2410.75"/>
<line x1="701.86" y1="2074.80" x2="701.86" y2="2704.70"/>
<line x1="324.40" y1="2452.74" x2="953.50" y2="2452.74"/>
<line x1="743.80" y1="2074.80" x2="743.80" y2="2704.70"/>
<line x1="324.40" y1="2494.73" x2="953.50" y2="2494.73"/>
<line x1="785.74" y1="2074.80" x2="785.74" y2="2704.70"/>
<line x1="324.40" y1="2536.73" x2="953.50" y2="2536.73"/>
<line x1="827.68" y1="2074.80" x2="827.68" y2="2704.70"/>
<line x1="324.40" y1="2578.72" x2="953.50" y2="2578.72"/>
<line x1="869.62" y1="2074.80" x2="869.62" y2="2704.70"/>
<line x1="324.40" y1="2620.71" x2="953.50" y2="2620.71"/>
<line x1="911.56" y1="2074.80" x2="911.56" y2="2704.70"/>
<line x1="324.40" y1="2662.71" x2="953.50" y2="2662.71"/>
<line x1="953.50" y1="2074.80" x2="953.50" y2="2704.70"/>
<line x1="324.40" y1="2704.70" x2="953.50" y2="2704.70"/>
</g>
<circle cx="345.37" cy="2095.80" r="9.73" fill="#b0d9ef" stroke="#8cadbf" stroke-opacity="0.55" stroke-width="0.8"/>
<circle cx="387.31" cy="2095.80" r="10.12" fill="#fdc2a5" stroke="#ca9b84" stroke-opacity="0.55" stroke-width="0.8"/>
<circle cx="429.25" cy="2095.80" r="9.73" fill="#fec8ac" stroke="#cba089" stroke-opacity="0.55" stroke-width="0.8"/>
<circle cx="471.19" cy="2095.80" r="15.52" fill="#ce4f45" stroke="#a43f37" stroke-opacity="0.55" stroke-width="0.8"/>
<circle cx="513.13" cy="2095.80" r="13.98" fill="#de735c" stroke="#b15c49" stroke-opacity="0.55" stroke-width="0.8"/>
<circle cx="555.07" cy="2095.80" r="12.05" fill="#81bfdf" stroke="#6798b2" stroke-opacity="0.55" stroke-width="0.8"/>
<circle cx="597.01" cy="2095.80" r="14.36" fill="#da6954" stroke="#ae5443" stroke-opacity="0.55" stroke-width="0.8"/>
<circle cx="638.95" cy="2095.80" r="13.59" fill="#e37d64" stroke="#b56450" stroke-opacity="0.55" stroke-width="0.8"/>
<circle cx="680.89" cy="2095.80" r="9.73" fill="#b0d9ef" stroke="#8cadbf" stroke-opacity="0.55" stroke-width="0.8"/>
<circle cx="722.83" cy="2095.80" r="12.43" fill="#77b8db" stroke="#5f93af" stroke-opacity="0.55" stroke-width="0.8"/>
<circle cx="764.77" cy="2095.80" r="13.59" fill="#e37d64" stroke="#b56450" stroke-opacity="0.55" stroke-width="0.8"/>
<circle cx="806.71" cy="2095.80" r="6.83" fill="#ffe5d5" stroke="#ccb7aa" stroke-opacity="0.55" stroke-width="0.8"/>
<circle cx="848.65" cy="2095.80" r="11.28" fill="#fab08e" stroke="#c88c71" stroke-opacity="0.55" stroke-width="0.8"/>
<circle cx="890.59" cy="2095.80" r="10.12" fill="#a9d5ed" stroke="#87aabd" stroke-opacity="0.55" stroke-width="0.8"/>
<circle cx="932.53" cy="2095.80" r="2.24" fill="#ebe8ea"/>
<circle cx="345.37" cy="2137.79" r="7.67" fill="#d1e8f4" stroke="#a7b9c3" stroke-opacity="0.55" stroke-width="0.8"/>
<circle cx="387.31" cy="2137.79" r="9.35" fill="#ffcdb3" stroke="#cca48f" stroke-opacity="0.55" stroke-width="0.8"/>
<circle cx="429.25" cy="2137.79" r="8.94" fill="#ffd2ba" stroke="#cca894" stroke-opacity="0.55" stroke-width="0.8"/>
<circle cx="471.19" cy="2137.79" r="14.75" fill="#d65f4d" stroke="#ab4c3d" stroke-opacity="0.55" stroke-width="0.8"/>
<circle cx="513.13" cy="2137.79" r="12.82" fill="#ed9171" stroke="#bd745a" stroke-opacity="0.55" stroke-width="0.8"/>
<circle cx="555.07" cy="2137.79" r="10.50" fill="#a2d2eb" stroke="#81a8bc" stroke-opacity="0.55" stroke-width="0.8"/>
<circle cx="597.01" cy="2137.79" r="13.98" fill="#de735c" stroke="#b15c49" stroke-opacity="0.55" stroke-width="0.8"/>
<circle cx="638.95" cy="2137.79" r="12.43" fill="#f19977" stroke="#c07a5f" stroke-opacity="0.55" stroke-width="0.8"/>
<circle cx="680.89" cy="2137.79" r="6.42" fill="#ddedf7" stroke="#b0bdc5" stroke-opacity="0.55" stroke-width="0.8"/>
<circle cx="722.83" cy="2137.79" r="10.12" fill="#a9d5ed" stroke="#87aabd" stroke-opacity="0.55" stroke-width="0.8"/>
<circle cx="764.77" cy="2137.79" r="12.82" fill="#ed9171" stroke="#bd745a" stroke-opacity="0.55" stroke-width="0.8"/>
<circle cx="806.71" cy="2137.79" r="6.83" fill="#ffe5d5" stroke="#ccb7aa" stroke-opacity="0.55" stroke-width="0.8"/>
<circle cx="848.65" cy="2137.79" r="11.28" fill="#fab08e" stroke="#c88c71" stroke-opacity="0.55" stroke-width="0.8"/>
<circle cx="890.59" cy="2137.79" r="7.67" fill="#d1e8f4" stroke="#a7b9c3" stroke-opacity="0.55" stroke-width="0.8"/>
<circle cx="932.53" cy="2137.79" r="1.85" fill="#e9e7e9"/>
<circle cx="345.37" cy="2179.78" r="9.35" fill="#b8dcef" stroke="#93b0bf" stroke-opacity="0.55" stroke-width="0.8"/>
<circle cx="387.31" cy="2179.78" r="8.09" fill="#ffdcc7" stroke="#ccb09f" stroke-opacity="0.55" stroke-width="0.8"/>
<circle cx="429.25" cy="2179.78" r="8.94" fill="#ffd2ba" stroke="#cca894" stroke-opacity="0.55" stroke-width="0.8"/>
<circle cx="471.19" cy="2179.78" r="12.82" fill="#ed9171" stroke="#bd745a" stroke-opacity="0.55" stroke-width="0.8"/>
<circle cx="513.13" cy="2179.78" r="12.05" fill="#f6a27e" stroke="#c48164" stroke-opacity="0.55" stroke-width="0.8"/>
<circle cx="555.07" cy="2179.78" r="10.50" fill="#a2d2eb" stroke="#81a8bc" stroke-opacity="0.55" stroke-width="0.8"/>
<circle cx="597.01" cy="2179.78" r="12.82" fill="#ed9171" stroke="#bd745a" stroke-opacity="0.55" stroke-width="0.8"/>
<circle cx="638.95" cy="2179.78" r="12.43" fill="#f19977" stroke="#c07a5f" stroke-opacity="0.55" stroke-width="0.8"/>
<circle cx="680.89" cy="2179.78" r="9.73" fill="#b0d9ef" stroke="#8cadbf" stroke-opacity="0.55" stroke-width="0.8"/>
<circle cx="722.83" cy="2179.78" r="10.89" fill="#9acfe8" stroke="#7ba5b9" stroke-opacity="0.55" stroke-width="0.8"/>
<circle cx="764.77" cy="2179.78" r="12.05" fill="#f6a27e" stroke="#c48164" stroke-opacity="0.55" stroke-width="0.8"/>
<circle cx="806.71" cy="2179.78" r="4.66" fill="#f7ede7"/>
<circle cx="848.65" cy="2179.78" r="9.73" fill="#fec8ac" stroke="#cba089" stroke-opacity="0.55" stroke-width="0.8"/>
<circle cx="890.59" cy="2179.78" r="10.89" fill="#9acfe8" stroke="#7ba5b9" stroke-opacity="0.55" stroke-width="0.8"/>
<circle cx="932.53" cy="2179.78" r="2.24" fill="#ebe8ea"/>
<circle cx="345.37" cy="2221.78" r="2.24" fill="#ebe8ea"/>
<circle cx="387.31" cy="2221.78" r="11.66" fill="#f8a985" stroke="#c6876a" stroke-opacity="0.55" stroke-width="0.8"/>
<circle cx="429.25" cy="2221.78" r="12.05" fill="#f6a27e" stroke="#c48164" stroke-opacity="0.55" stroke-width="0.8"/>
<circle cx="471.19" cy="2221.78" r="10.89" fill="#fbb696" stroke="#c89178" stroke-opacity="0.55" stroke-width="0.8"/>
<circle cx="513.13" cy="2221.78" r="10.50" fill="#fcbc9e" stroke="#c9967e" stroke-opacity="0.55" stroke-width="0.8"/>
<circle cx="555.07" cy="2221.78" r="9.35" fill="#b8dcef" stroke="#93b0bf" stroke-opacity="0.55" stroke-width="0.8"/>
<circle cx="597.01" cy="2221.78" r="8.09" fill="#ffdcc7" stroke="#ccb09f" stroke-opacity="0.55" stroke-width="0.8"/>
<circle cx="638.95" cy="2221.78" r="9.35" fill="#ffcdb3" stroke="#cca48f" stroke-opacity="0.55" stroke-width="0.8"/>
<circle cx="680.89" cy="2221.78" r="7.25" fill="#d6eaf5" stroke="#abbbc4" stroke-opacity="0.55" stroke-width="0.8"/>
<circle cx="722.83" cy="2221.78" r="7.67" fill="#d1e8f4" stroke="#a7b9c3" stroke-opacity="0.55" stroke-width="0.8"/>
<circle cx="764.77" cy="2221.78" r="9.35" fill="#ffcdb3" stroke="#cca48f" stroke-opacity="0.55" stroke-width="0.8"/>
<circle cx="806.71" cy="2221.78" r="5.18" fill="#e7f3fa" stroke="#b8c2c8" stroke-opacity="0.55" stroke-width="0.8"/>
<circle cx="848.65" cy="2221.78" r="10.50" fill="#fcbc9e" stroke="#c9967e" stroke-opacity="0.55" stroke-width="0.8"/>
<circle cx="890.59" cy="2221.78" r="6.00" fill="#e0eff8" stroke="#b3bfc6" stroke-opacity="0.55" stroke-width="0.8"/>
<circle cx="932.53" cy="2221.78" r="4.66" fill="#e9eff4"/>
<circle cx="345.37" cy="2263.77" r="3.44" fill="#f1ecea"/>
<circle cx="387.31" cy="2263.77" r="11.66" fill="#f8a985" stroke="#c6876a" stroke-opacity="0.55" stroke-width="0.8"/>
<circle cx="429.25" cy="2263.77" r="13.98" fill="#de735c" stroke="#b15c49" stroke-opacity="0.55" stroke-width="0.8"/>
<circle cx="471.19" cy="2263.77" r="12.82" fill="#ed9171" stroke="#bd745a" stroke-opacity="0.55" stroke-width="0.8"/>
<circle cx="513.13" cy="2263.77" r="12.05" fill="#f6a27e" stroke="#c48164" stroke-opacity="0.55" stroke-width="0.8"/>
<circle cx="555.07" cy="2263.77" r="6.83" fill="#d9ecf7" stroke="#adbcc5" stroke-opacity="0.55" stroke-width="0.8"/>
<circle cx="597.01" cy="2263.77" r="12.05" fill="#f6a27e" stroke="#c48164" stroke-opacity="0.55" stroke-width="0.8"/>
<circle cx="638.95" cy="2263.77" r="11.66" fill="#f8a985" stroke="#c6876a" stroke-opacity="0.55" stroke-width="0.8"/>
<circle cx="680.89" cy="2263.77" r="7.25" fill="#d6eaf5" stroke="#abbbc4" stroke-opacity="0.55" stroke-width="0.8"/>
<circle cx="722.83" cy="2263.77" r="6.83" fill="#d9ecf7" stroke="#adbcc5" stroke-opacity="0.55" stroke-width="0.8"/>
<circle cx="764.77" cy="2263.77" r="10.12" fill="#fdc2a5" stroke="#ca9b84" stroke-opacity="0.55" stroke-width="0.8"/>
<circle cx="806.71" cy="2263.77" r="4.66" fill="#f7ede7"/>
<circle cx="848.65" cy="2263.77" r="11.28" fill="#fab08e" stroke="#c88c71" stroke-opacity="0.55" stroke-width="0.8"/>
<circle cx="890.59" cy="2263.77" r="7.67" fill="#d1e8f4" stroke="#a7b9c3" stroke-opacity="0.55" stroke-width="0.8"/>
<circle cx="932.53" cy="2263.77" r="2.24" fill="#ebe8ea"/>
<circle cx="345.37" cy="2305.76" r="1.06" fill="#e5e4e6"/>
<circle cx="387.31" cy="2305.76" r="8.09" fill="#ffdcc7" stroke="#ccb09f" stroke-opacity="0.55" stroke-width="0.8"/>
<circle cx="429.25" cy="2305.76" r="4.25" fill="#f5ede8"/>
<circle cx="471.19" cy="2305.76" r="10.12" fill="#fdc2a5" stroke="#ca9b84" stroke-opacity="0.55" stroke-width="0.8"/>
<circle cx="513.13" cy="2305.76" r="10.50" fill="#fcbc9e" stroke="#c9967e" stroke-opacity="0.55" stroke-width="0.8"/>
<circle cx="555.07" cy="2305.76" r="7.67" fill="#d1e8f4" stroke="#a7b9c3" stroke-opacity="0.55" stroke-width="0.8"/>
<circle cx="597.01" cy="2305.76" r="11.28" fill="#fab08e" stroke="#c88c71" stroke-opacity="0.55" stroke-width="0.8"/>
<circle cx="638.95" cy="2305.76" r="10.12" fill="#fdc2a5" stroke="#ca9b84" stroke-opacity="0.55" stroke-width="0.8"/>
<circle cx="680.89" cy="2305.76" r="5.18" fill="#e7f3fa" stroke="#b8c2c8" stroke-opacity="0.55" stroke-width="0.8"/>
<circle cx="722.83" cy="2305.76" r="6.42" fill="#ddedf7" stroke="#b0bdc5" stroke-opacity="0.55" stroke-width="0.8"/>
<circle cx="764.77" cy="2305.76" r="10.89" fill="#fbb696" stroke="#c89178" stroke-opacity="0.55" stroke-width="0.8"/>
<circle cx="806.71" cy="2305.76" r="10.12" fill="#fdc2a5" stroke="#ca9b84" stroke-opacity="0.55" stroke-width="0.8"/>
<circle cx="848.65" cy="2305.76" r="8.94" fill="#ffd2ba" stroke="#cca894" stroke-opacity="0.55" stroke-width="0.8"/>
<circle cx="890.59" cy="2305.76" r="6.42" fill="#ddedf7" stroke="#b0bdc5" stroke-opacity="0.55" stroke-width="0.8"/>
<circle cx="932.53" cy="2305.76" r="2.64" fill="#edeaea"/>
<circle cx="345.37" cy="2347.76" r="8.09" fill="#cce6f4" stroke="#a3b8c3" stroke-opacity="0.55" stroke-width="0.8"/>
<circle cx="387.31" cy="2347.76" r="8.09" fill="#ffdcc7" stroke="#ccb09f" stroke-opacity="0.55" stroke-width="0.8"/>
<circle cx="429.25" cy="2347.76" r="8.52" fill="#ffd7c1" stroke="#ccac9a" stroke-opacity="0.55" stroke-width="0.8"/>
<circle cx="471.19" cy="2347.76" r="12.82" fill="#ed9171" stroke="#bd745a" stroke-opacity="0.55" stroke-width="0.8"/>
<circle cx="513.13" cy="2347.76" r="11.28" fill="#fab08e" stroke="#c88c71" stroke-opacity="0.55" stroke-width="0.8"/>
<circle cx="555.07" cy="2347.76" r="10.50" fill="#a2d2eb" stroke="#81a8bc" stroke-opacity="0.55" stroke-width="0.8"/>
<circle cx="597.01" cy="2347.76" r="11.28" fill="#fab08e" stroke="#c88c71" stroke-opacity="0.55" stroke-width="0.8"/>
<circle cx="638.95" cy="2347.76" r="10.89" fill="#fbb696" stroke="#c89178" stroke-opacity="0.55" stroke-width="0.8"/>
<circle cx="680.89" cy="2347.76" r="8.09" fill="#cce6f4" stroke="#a3b8c3" stroke-opacity="0.55" stroke-width="0.8"/>
<circle cx="722.83" cy="2347.76" r="9.35" fill="#b8dcef" stroke="#93b0bf" stroke-opacity="0.55" stroke-width="0.8"/>
<circle cx="764.77" cy="2347.76" r="11.28" fill="#fab08e" stroke="#c88c71" stroke-opacity="0.55" stroke-width="0.8"/>
<circle cx="806.71" cy="2347.76" r="2.24" fill="#ebe8ea"/>
<circle cx="848.65" cy="2347.76" r="9.73" fill="#fec8ac" stroke="#cba089" stroke-opacity="0.55" stroke-width="0.8"/>
<circle cx="890.59" cy="2347.76" r="6.83" fill="#d9ecf7" stroke="#adbcc5" stroke-opacity="0.55" stroke-width="0.8"/>
<circle cx="932.53" cy="2347.76" r="4.77" fill="#eaf4fa" stroke="#bbc3c8" stroke-opacity="0.55" stroke-width="0.8"/>
<circle cx="345.37" cy="2389.75" r="5.18" fill="#ffefe5" stroke="#ccbfb7" stroke-opacity="0.55" stroke-width="0.8"/>
<circle cx="387.31" cy="2389.75" r="4.25" fill="#f5ede8"/>
<circle cx="429.25" cy="2389.75" r="2.24" fill="#ebe8ea"/>
<circle cx="471.19" cy="2389.75" r="3.04" fill="#efebea"/>
<circle cx="513.13" cy="2389.75" r="3.44" fill="#f1ecea"/>
<circle cx="555.07" cy="2389.75" r="6.42" fill="#ffe8d9" stroke="#ccb9ad" stroke-opacity="0.55" stroke-width="0.8"/>
<circle cx="597.01" cy="2389.75" r="6.00" fill="#e0eff8" stroke="#b3bfc6" stroke-opacity="0.55" stroke-width="0.8"/>
<circle cx="638.95" cy="2389.75" r="3.85" fill="#f3ece9"/>
<circle cx="680.89" cy="2389.75" r="6.42" fill="#ffe8d9" stroke="#ccb9ad" stroke-opacity="0.55" stroke-width="0.8"/>
<circle cx="722.83" cy="2389.75" r="5.18" fill="#ffefe5" stroke="#ccbfb7" stroke-opacity="0.55" stroke-width="0.8"/>
<circle cx="764.77" cy="2389.75" r="3.85" fill="#f3ece9"/>
<circle cx="806.71" cy="2389.75" r="2.64" fill="#edeaea"/>
<circle cx="848.65" cy="2389.75" r="4.66" fill="#f7ede7"/>
<circle cx="890.59" cy="2389.75" r="6.00" fill="#ffeade" stroke="#ccbbb1" stroke-opacity="0.55" stroke-width="0.8"/>
<circle cx="932.53" cy="2389.75" r="3.04" fill="#efebea"/>
<circle cx="345.37" cy="2431.74" r="4.77" fill="#eaf4fa" stroke="#bbc3c8" stroke-opacity="0.55" stroke-width="0.8"/>
<circle cx="387.31" cy="2431.74" r="3.85" fill="#f3ece9"/>
<circle cx="429.25" cy="2431.74" r="4.66" fill="#f7ede7"/>
<circle cx="471.19" cy="2431.74" r="9.35" fill="#ffcdb3" stroke="#cca48f" stroke-opacity="0.55" stroke-width="0.8"/>
<circle cx="513.13" cy="2431.74" r="9.73" fill="#fec8ac" stroke="#cba089" stroke-opacity="0.55" stroke-width="0.8"/>
<circle cx="555.07" cy="2431.74" r="6.00" fill="#e0eff8" stroke="#b3bfc6" stroke-opacity="0.55" stroke-width="0.8"/>
<circle cx="597.01" cy="2431.74" r="9.73" fill="#fec8ac" stroke="#cba089" stroke-opacity="0.55" stroke-width="0.8"/>
<circle cx="638.95" cy="2431.74" r="8.52" fill="#ffd7c1" stroke="#ccac9a" stroke-opacity="0.55" stroke-width="0.8"/>
<circle cx="680.89" cy="2431.74" r="5.59" fill="#e4f1f9" stroke="#b6c0c7" stroke-opacity="0.55" stroke-width="0.8"/>
<circle cx="722.83" cy="2431.74" r="6.42" fill="#ddedf7" stroke="#b0bdc5" stroke-opacity="0.55" stroke-width="0.8"/>
<circle cx="764.77" cy="2431.74" r="9.73" fill="#fec8ac" stroke="#cba089" stroke-opacity="0.55" stroke-width="0.8"/>
<circle cx="806.71" cy="2431.74" r="9.35" fill="#ffcdb3" stroke="#cca48f" stroke-opacity="0.55" stroke-width="0.8"/>
<circle cx="848.65" cy="2431.74" r="8.94" fill="#ffd2ba" stroke="#cca894" stroke-opacity="0.55" stroke-width="0.8"/>
<circle cx="890.59" cy="2431.74" r="7.25" fill="#d6eaf5" stroke="#abbbc4" stroke-opacity="0.55" stroke-width="0.8"/>
<circle cx="932.53" cy="2431.74" r="1.45" fill="#e7e6e8"/>
<circle cx="345.37" cy="2473.74" r="2.24" fill="#ebe8ea"/>
<circle cx="387.31" cy="2473.74" r="2.64" fill="#edeaea"/>
<circle cx="429.25" cy="2473.74" r="4.66" fill="#e9eff4"/>
<circle cx="471.19" cy="2473.74" r="2.24" fill="#ebe8ea"/>
<circle cx="513.13" cy="2473.74" r="3.44" fill="#f1ecea"/>
<circle cx="555.07" cy="2473.74" r="3.04" fill="#efebea"/>
<circle cx="597.01" cy="2473.74" r="1.85" fill="#e9e7e9"/>
<circle cx="638.95" cy="2473.74" r="6.83" fill="#ffe5d5" stroke="#ccb7aa" stroke-opacity="0.55" stroke-width="0.8"/>
<circle cx="680.89" cy="2473.74" r="4.25" fill="#e9eef3"/>
<circle cx="722.83" cy="2473.74" r="7.25" fill="#d6eaf5" stroke="#abbbc4" stroke-opacity="0.55" stroke-width="0.8"/>
<circle cx="764.77" cy="2473.74" r="4.66" fill="#f7ede7"/>
<circle cx="806.71" cy="2473.74" r="1.45" fill="#e7e6e8"/>
<circle cx="848.65" cy="2473.74" r="3.85" fill="#e9edf2"/>
<circle cx="890.59" cy="2473.74" r="6.83" fill="#d9ecf7" stroke="#adbcc5" stroke-opacity="0.55" stroke-width="0.8"/>
<circle cx="932.53" cy="2473.74" r="5.59" fill="#e4f1f9" stroke="#b6c0c7" stroke-opacity="0.55" stroke-width="0.8"/>
<circle cx="345.37" cy="2515.73" r="6.00" fill="#e0eff8" stroke="#b3bfc6" stroke-opacity="0.55" stroke-width="0.8"/>
<circle cx="387.31" cy="2515.73" r="1.45" fill="#e7e6e8"/>
<circle cx="429.25" cy="2515.73" r="2.24" fill="#ebe8ea"/>
<circle cx="471.19" cy="2515.73" r="11.66" fill="#f8a985" stroke="#c6876a" stroke-opacity="0.55" stroke-width="0.8"/>
<circle cx="513.13" cy="2515.73" r="12.05" fill="#f6a27e" stroke="#c48164" stroke-opacity="0.55" stroke-width="0.8"/>
<circle cx="555.07" cy="2515.73" r="10.50" fill="#a2d2eb" stroke="#81a8bc" stroke-opacity="0.55" stroke-width="0.8"/>
<circle cx="597.01" cy="2515.73" r="13.59" fill="#e37d64" stroke="#b56450" stroke-opacity="0.55" stroke-width="0.8"/>
<circle cx="638.95" cy="2515.73" r="11.66" fill="#f8a985" stroke="#c6876a" stroke-opacity="0.55" stroke-width="0.8"/>
<circle cx="680.89" cy="2515.73" r="8.94" fill="#bedff0" stroke="#98b2c0" stroke-opacity="0.55" stroke-width="0.8"/>
<circle cx="722.83" cy="2515.73" r="10.89" fill="#9acfe8" stroke="#7ba5b9" stroke-opacity="0.55" stroke-width="0.8"/>
<circle cx="764.77" cy="2515.73" r="12.05" fill="#f6a27e" stroke="#c48164" stroke-opacity="0.55" stroke-width="0.8"/>
<circle cx="806.71" cy="2515.73" r="10.89" fill="#fbb696" stroke="#c89178" stroke-opacity="0.55" stroke-width="0.8"/>
<circle cx="848.65" cy="2515.73" r="9.73" fill="#fec8ac" stroke="#cba089" stroke-opacity="0.55" stroke-width="0.8"/>
<circle cx="890.59" cy="2515.73" r="10.12" fill="#a9d5ed" stroke="#87aabd" stroke-opacity="0.55" stroke-width="0.8"/>
<circle cx="932.53" cy="2515.73" r="0.90" fill="#e4e4e6"/>
<circle cx="345.37" cy="2557.72" r="6.00" fill="#e0eff8" stroke="#b3bfc6" stroke-opacity="0.55" stroke-width="0.8"/>
<circle cx="387.31" cy="2557.72" r="9.35" fill="#ffcdb3" stroke="#cca48f" stroke-opacity="0.55" stroke-width="0.8"/>
<circle cx="429.25" cy="2557.72" r="1.06" fill="#e5e4e6"/>
<circle cx="471.19" cy="2557.72" r="12.82" fill="#ed9171" stroke="#bd745a" stroke-opacity="0.55" stroke-width="0.8"/>
<circle cx="513.13" cy="2557.72" r="12.43" fill="#f19977" stroke="#c07a5f" stroke-opacity="0.55" stroke-width="0.8"/>
<circle cx="555.07" cy="2557.72" r="9.73" fill="#b0d9ef" stroke="#8cadbf" stroke-opacity="0.55" stroke-width="0.8"/>
<circle cx="597.01" cy="2557.72" r="13.59" fill="#e37d64" stroke="#b56450" stroke-opacity="0.55" stroke-width="0.8"/>
<circle cx="638.95" cy="2557.72" r="11.66" fill="#f8a985" stroke="#c6876a" stroke-opacity="0.55" stroke-width="0.8"/>
<circle cx="680.89" cy="2557.72" r="8.94" fill="#bedff0" stroke="#98b2c0" stroke-opacity="0.55" stroke-width="0.8"/>
<circle cx="722.83" cy="2557.72" r="10.12" fill="#a9d5ed" stroke="#87aabd" stroke-opacity="0.55" stroke-width="0.8"/>
<circle cx="764.77" cy="2557.72" r="12.82" fill="#ed9171" stroke="#bd745a" stroke-opacity="0.55" stroke-width="0.8"/>
<circle cx="806.71" cy="2557.72" r="10.12" fill="#fdc2a5" stroke="#ca9b84" stroke-opacity="0.55" stroke-width="0.8"/>
<circle cx="848.65" cy="2557.72" r="10.50" fill="#fcbc9e" stroke="#c9967e" stroke-opacity="0.55" stroke-width="0.8"/>
<circle cx="890.59" cy="2557.72" r="9.73" fill="#b0d9ef" stroke="#8cadbf" stroke-opacity="0.55" stroke-width="0.8"/>
<circle cx="932.53" cy="2557.72" r="1.45" fill="#e7e6e8"/>
<circle cx="345.37" cy="2599.72" r="8.09" fill="#cce6f4" stroke="#a3b8c3" stroke-opacity="0.55" stroke-width="0.8"/>
<circle cx="387.31" cy="2599.72" r="5.59" fill="#ffede2" stroke="#ccbdb4" stroke-opacity="0.55" stroke-width="0.8"/>
<circle cx="429.25" cy="2599.72" r="1.06" fill="#e5e4e6"/>
<circle cx="471.19" cy="2599.72" r="10.89" fill="#fbb696" stroke="#c89178" stroke-opacity="0.55" stroke-width="0.8"/>
<circle cx="513.13" cy="2599.72" r="10.12" fill="#fdc2a5" stroke="#ca9b84" stroke-opacity="0.55" stroke-width="0.8"/>
<circle cx="555.07" cy="2599.72" r="7.67" fill="#d1e8f4" stroke="#a7b9c3" stroke-opacity="0.55" stroke-width="0.8"/>
<circle cx="597.01" cy="2599.72" r="11.28" fill="#fab08e" stroke="#c88c71" stroke-opacity="0.55" stroke-width="0.8"/>
<circle cx="638.95" cy="2599.72" r="9.35" fill="#ffcdb3" stroke="#cca48f" stroke-opacity="0.55" stroke-width="0.8"/>
<circle cx="680.89" cy="2599.72" r="8.09" fill="#cce6f4" stroke="#a3b8c3" stroke-opacity="0.55" stroke-width="0.8"/>
<circle cx="722.83" cy="2599.72" r="9.35" fill="#b8dcef" stroke="#93b0bf" stroke-opacity="0.55" stroke-width="0.8"/>
<circle cx="764.77" cy="2599.72" r="9.73" fill="#fec8ac" stroke="#cba089" stroke-opacity="0.55" stroke-width="0.8"/>
<circle cx="806.71" cy="2599.72" r="6.00" fill="#ffeade" stroke="#ccbbb1" stroke-opacity="0.55" stroke-width="0.8"/>
<circle cx="848.65" cy="2599.72" r="7.67" fill="#ffdfcc" stroke="#ccb2a3" stroke-opacity="0.55" stroke-width="0.8"/>
<circle cx="890.59" cy="2599.72" r="10.50" fill="#a2d2eb" stroke="#81a8bc" stroke-opacity="0.55" stroke-width="0.8"/>
<circle cx="932.53" cy="2599.72" r="2.64" fill="#edeaea"/>
<circle cx="345.37" cy="2641.71" r="3.44" fill="#f1ecea"/>
<circle cx="387.31" cy="2641.71" r="9.35" fill="#ffcdb3" stroke="#cca48f" stroke-opacity="0.55" stroke-width="0.8"/>
<circle cx="429.25" cy="2641.71" r="11.66" fill="#f8a985" stroke="#c6876a" stroke-opacity="0.55" stroke-width="0.8"/>
<circle cx="471.19" cy="2641.71" r="12.82" fill="#ed9171" stroke="#bd745a" stroke-opacity="0.55" stroke-width="0.8"/>
<circle cx="513.13" cy="2641.71" r="12.05" fill="#f6a27e" stroke="#c48164" stroke-opacity="0.55" stroke-width="0.8"/>
<circle cx="555.07" cy="2641.71" r="9.35" fill="#b8dcef" stroke="#93b0bf" stroke-opacity="0.55" stroke-width="0.8"/>
<circle cx="597.01" cy="2641.71" r="11.28" fill="#fab08e" stroke="#c88c71" stroke-opacity="0.55" stroke-width="0.8"/>
<circle cx="638.95" cy="2641.71" r="11.66" fill="#f8a985" stroke="#c6876a" stroke-opacity="0.55" stroke-width="0.8"/>
<circle cx="680.89" cy="2641.71" r="8.94" fill="#bedff0" stroke="#98b2c0" stroke-opacity="0.55" stroke-width="0.8"/>
<circle cx="722.83" cy="2641.71" r="6.42" fill="#ddedf7" stroke="#b0bdc5" stroke-opacity="0.55" stroke-width="0.8"/>
<circle cx="764.77" cy="2641.71" r="11.28" fill="#fab08e" stroke="#c88c71" stroke-opacity="0.55" stroke-width="0.8"/>
<circle cx="806.71" cy="2641.71" r="3.04" fill="#efebea"/>
<circle cx="848.65" cy="2641.71" r="10.89" fill="#fbb696" stroke="#c89178" stroke-opacity="0.55" stroke-width="0.8"/>
<circle cx="890.59" cy="2641.71" r="6.42" fill="#ddedf7" stroke="#b0bdc5" stroke-opacity="0.55" stroke-width="0.8"/>
<circle cx="932.53" cy="2641.71" r="2.64" fill="#edeaea"/>
<circle cx="345.37" cy="2683.70" r="2.64" fill="#edeaea"/>
<circle cx="387.31" cy="2683.70" r="6.42" fill="#ddedf7" stroke="#b0bdc5" stroke-opacity="0.55" stroke-width="0.8"/>
<circle cx="429.25" cy="2683.70" r="7.67" fill="#d1e8f4" stroke="#a7b9c3" stroke-opacity="0.55" stroke-width="0.8"/>
<circle cx="471.19" cy="2683.70" r="6.83" fill="#ffe5d5" stroke="#ccb7aa" stroke-opacity="0.55" stroke-width="0.8"/>
<circle cx="513.13" cy="2683.70" r="8.09" fill="#ffdcc7" stroke="#ccb09f" stroke-opacity="0.55" stroke-width="0.8"/>
<circle cx="555.07" cy="2683.70" r="7.67" fill="#d1e8f4" stroke="#a7b9c3" stroke-opacity="0.55" stroke-width="0.8"/>
<circle cx="597.01" cy="2683.70" r="8.09" fill="#ffdcc7" stroke="#ccb09f" stroke-opacity="0.55" stroke-width="0.8"/>
<circle cx="638.95" cy="2683.70" r="7.25" fill="#ffe2d1" stroke="#ccb4a7" stroke-opacity="0.55" stroke-width="0.8"/>
<circle cx="680.89" cy="2683.70" r="1.85" fill="#e9e7e9"/>
<circle cx="722.83" cy="2683.70" r="6.42" fill="#ddedf7" stroke="#b0bdc5" stroke-opacity="0.55" stroke-width="0.8"/>
<circle cx="764.77" cy="2683.70" r="8.09" fill="#ffdcc7" stroke="#ccb09f" stroke-opacity="0.55" stroke-width="0.8"/>
<circle cx="806.71" cy="2683.70" r="12.05" fill="#f6a27e" stroke="#c48164" stroke-opacity="0.55" stroke-width="0.8"/>
<circle cx="848.65" cy="2683.70" r="2.64" fill="#edeaea"/>
<circle cx="890.59" cy="2683.70" r="1.85" fill="#e9e7e9"/>
<circle cx="932.53" cy="2683.70" r="6.42" fill="#ffe8d9" stroke="#ccb9ad" stroke-opacity="0.55" stroke-width="0.8"/>
<text transform="translate(317.40,2100.20) scale(0.962,1)" text-anchor="end" font-size="16.0" fill="#1e1e1e" stroke="#1e1e1e" stroke-width="0.25">Bacteroides</text>
<text transform="translate(317.40,2142.19) scale(0.962,1)" text-anchor="end" font-size="16.0" fill="#1e1e1e" stroke="#1e1e1e" stroke-width="0.25">Parabacteroides</text>
<text transform="translate(317.40,2184.18) scale(0.962,1)" text-anchor="end" font-size="16.0" fill="#1e1e1e" stroke="#1e1e1e" stroke-width="0.25">UBA1819</text>
<text transform="translate(317.40,2226.18) scale(0.962,1)" text-anchor="end" font-size="16.0" fill="#1e1e1e" stroke="#1e1e1e" stroke-width="0.25">Hungatella</text>
<text transform="translate(317.40,2268.17) scale(0.962,1)" text-anchor="end" font-size="16.0" fill="#1e1e1e" stroke="#1e1e1e" stroke-width="0.25">[Clostridium] innocuum group</text>
<text transform="translate(317.40,2310.16) scale(0.962,1)" text-anchor="end" font-size="16.0" fill="#1e1e1e" stroke="#1e1e1e" stroke-width="0.25">Roseburia</text>
<text transform="translate(317.40,2352.16) scale(0.962,1)" text-anchor="end" font-size="16.0" fill="#1e1e1e" stroke="#1e1e1e" stroke-width="0.25">Lachnospiraceae UCG-004</text>
<text transform="translate(317.40,2394.15) scale(0.962,1)" text-anchor="end" font-size="16.0" fill="#1e1e1e" stroke="#1e1e1e" stroke-width="0.25">Veillonella</text>
<text transform="translate(317.40,2436.14) scale(0.962,1)" text-anchor="end" font-size="16.0" fill="#1e1e1e" stroke="#1e1e1e" stroke-width="0.25">Lachnospira</text>
<text transform="translate(317.40,2478.14) scale(0.962,1)" text-anchor="end" font-size="16.0" fill="#1e1e1e" stroke="#1e1e1e" stroke-width="0.25">Streptococcus</text>
<text transform="translate(317.40,2520.13) scale(0.962,1)" text-anchor="end" font-size="16.0" fill="#1e1e1e" stroke="#1e1e1e" stroke-width="0.25">Ruminococcus</text>
<text transform="translate(317.40,2562.12) scale(0.962,1)" text-anchor="end" font-size="16.0" fill="#1e1e1e" stroke="#1e1e1e" stroke-width="0.25">Agathobacter</text>
<text transform="translate(317.40,2604.12) scale(0.962,1)" text-anchor="end" font-size="16.0" fill="#1e1e1e" stroke="#1e1e1e" stroke-width="0.25">Odoribacter</text>
<text transform="translate(317.40,2646.11) scale(0.962,1)" text-anchor="end" font-size="16.0" fill="#1e1e1e" stroke="#1e1e1e" stroke-width="0.25">Erysipelatoclostridium</text>
<text transform="translate(317.40,2688.10) scale(0.962,1)" text-anchor="end" font-size="16.0" fill="#1e1e1e" stroke="#1e1e1e" stroke-width="0.25">[Eubacterium] eligens group</text>
<text transform="translate(350.97,2068.90) rotate(-90) scale(0.98,1)" font-size="16.0" fill="#1e1e1e" stroke="#1e1e1e" stroke-width="0.25">Taurocholic acid</text>
<text transform="translate(392.91,2068.90) rotate(-90) scale(0.98,1)" font-size="16.0" fill="#1e1e1e" stroke="#1e1e1e" stroke-width="0.25">Ursocholic acid</text>
<text transform="translate(434.85,2068.90) rotate(-90) scale(0.98,1)" font-size="16.0" fill="#1e1e1e" stroke="#1e1e1e" stroke-width="0.25">7-Dehydrocholic acid</text>
<text transform="translate(476.79,2068.90) rotate(-90) scale(0.98,1)" font-size="16.0" fill="#1e1e1e" stroke="#1e1e1e" stroke-width="0.25">Propionic acid</text>
<text transform="translate(518.73,2068.90) rotate(-90) scale(0.98,1)" font-size="16.0" fill="#1e1e1e" stroke="#1e1e1e" stroke-width="0.25">Isovaleric acid</text>
<text transform="translate(560.67,2068.90) rotate(-90) scale(0.98,1)" font-size="16.0" fill="#1e1e1e" stroke="#1e1e1e" stroke-width="0.25">Tauroursodeoxycholic acid</text>
<text transform="translate(602.61,2068.90) rotate(-90) scale(0.98,1)" font-size="16.0" fill="#1e1e1e" stroke="#1e1e1e" stroke-width="0.25">Valeric acid</text>
<text transform="translate(644.55,2068.90) rotate(-90) scale(0.98,1)" font-size="16.0" fill="#1e1e1e" stroke="#1e1e1e" stroke-width="0.25">2-Methylbutyric acid</text>
<text transform="translate(686.49,2068.90) rotate(-90) scale(0.98,1)" font-size="16.0" fill="#1e1e1e" stroke="#1e1e1e" stroke-width="0.25">Glycoursodeoxycholic acid</text>
<text transform="translate(728.43,2068.90) rotate(-90) scale(0.98,1)" font-size="16.0" fill="#1e1e1e" stroke="#1e1e1e" stroke-width="0.25">Taurochenodeoxycholic acid</text>
<text transform="translate(770.37,2068.90) rotate(-90) scale(0.98,1)" font-size="16.0" fill="#1e1e1e" stroke="#1e1e1e" stroke-width="0.25">Isobutyric acid</text>
<text transform="translate(812.31,2068.90) rotate(-90) scale(0.98,1)" font-size="16.0" fill="#1e1e1e" stroke="#1e1e1e" stroke-width="0.25">Hexanoic acid</text>
<text transform="translate(854.25,2068.90) rotate(-90) scale(0.98,1)" font-size="16.0" fill="#1e1e1e" stroke="#1e1e1e" stroke-width="0.25">Desaminotyrosine</text>
<text transform="translate(896.19,2068.90) rotate(-90) scale(0.98,1)" font-size="16.0" fill="#1e1e1e" stroke="#1e1e1e" stroke-width="0.25">Glycocholic acid</text>
<text transform="translate(938.13,2068.90) rotate(-90) scale(0.98,1)" font-size="16.0" fill="#1e1e1e" stroke="#1e1e1e" stroke-width="0.25">Glycochenodeoxycholic acid</text>
<g stroke="#b6b6b6" stroke-width="1.3" fill="none">
<line x1="1198.80" y1="2072.00" x2="1198.80" y2="2701.90"/>
<line x1="1198.80" y1="2072.00" x2="1827.20" y2="2072.00"/>
<line x1="1240.69" y1="2072.00" x2="1240.69" y2="2701.90"/>
<line x1="1198.80" y1="2113.99" x2="1827.20" y2="2113.99"/>
<line x1="1282.59" y1="2072.00" x2="1282.59" y2="2701.90"/>
<line x1="1198.80" y1="2155.99" x2="1827.20" y2="2155.99"/>
<line x1="1324.48" y1="2072.00" x2="1324.48" y2="2701.90"/>
<line x1="1198.80" y1="2197.98" x2="1827.20" y2="2197.98"/>
<line x1="1366.37" y1="2072.00" x2="1366.37" y2="2701.90"/>
<line x1="1198.80" y1="2239.97" x2="1827.20" y2="2239.97"/>
<line x1="1408.27" y1="2072.00" x2="1408.27" y2="2701.90"/>
<line x1="1198.80" y1="2281.97" x2="1827.20" y2="2281.97"/>
<line x1="1450.16" y1="2072.00" x2="1450.16" y2="2701.90"/>
<line x1="1198.80" y1="2323.96" x2="1827.20" y2="2323.96"/>
<line x1="1492.05" y1="2072.00" x2="1492.05" y2="2701.90"/>
<line x1="1198.80" y1="2365.95" x2="1827.20" y2="2365.95"/>
<line x1="1533.95" y1="2072.00" x2="1533.95" y2="2701.90"/>
<line x1="1198.80" y1="2407.95" x2="1827.20" y2="2407.95"/>
<line x1="1575.84" y1="2072.00" x2="1575.84" y2="2701.90"/>
<line x1="1198.80" y1="2449.94" x2="1827.20" y2="2449.94"/>
<line x1="1617.73" y1="2072.00" x2="1617.73" y2="2701.90"/>
<line x1="1198.80" y1="2491.93" x2="1827.20" y2="2491.93"/>
<line x1="1659.63" y1="2072.00" x2="1659.63" y2="2701.90"/>
<line x1="1198.80" y1="2533.93" x2="1827.20" y2="2533.93"/>
<line x1="1701.52" y1="2072.00" x2="1701.52" y2="2701.90"/>
<line x1="1198.80" y1="2575.92" x2="1827.20" y2="2575.92"/>
<line x1="1743.41" y1="2072.00" x2="1743.41" y2="2701.90"/>
<line x1="1198.80" y1="2617.91" x2="1827.20" y2="2617.91"/>
<line x1="1785.31" y1="2072.00" x2="1785.31" y2="2701.90"/>
<line x1="1198.80" y1="2659.91" x2="1827.20" y2="2659.91"/>
<line x1="1827.20" y1="2072.00" x2="1827.20" y2="2701.90"/>
<line x1="1198.80" y1="2701.90" x2="1827.20" y2="2701.90"/>
</g>
<circle cx="1219.75" cy="2093.00" r="16.29" fill="#c53f3d" stroke="#9d3230" stroke-opacity="0.55" stroke-width="0.8"/>
<circle cx="1261.64" cy="2093.00" r="16.68" fill="#c13639" stroke="#9a2b2d" stroke-opacity="0.55" stroke-width="0.8"/>
<circle cx="1303.53" cy="2093.00" r="14.75" fill="#d55f4c" stroke="#aa4c3c" stroke-opacity="0.55" stroke-width="0.8"/>
<circle cx="1345.43" cy="2093.00" r="14.75" fill="#d55f4c" stroke="#aa4c3c" stroke-opacity="0.55" stroke-width="0.8"/>
<circle cx="1387.32" cy="2093.00" r="15.52" fill="#ce4f45" stroke="#a43f37" stroke-opacity="0.55" stroke-width="0.8"/>
<circle cx="1429.21" cy="2093.00" r="15.91" fill="#ca4741" stroke="#a13834" stroke-opacity="0.55" stroke-width="0.8"/>
<circle cx="1471.11" cy="2093.00" r="12.43" fill="#f19877" stroke="#c0795f" stroke-opacity="0.55" stroke-width="0.8"/>
<circle cx="1513.00" cy="2093.00" r="12.82" fill="#ed9071" stroke="#bd735a" stroke-opacity="0.55" stroke-width="0.8"/>
<circle cx="1554.89" cy="2093.00" r="13.98" fill="#de735c" stroke="#b15c49" stroke-opacity="0.55" stroke-width="0.8"/>
<circle cx="1596.79" cy="2093.00" r="14.75" fill="#d55f4c" stroke="#aa4c3c" stroke-opacity="0.55" stroke-width="0.8"/>
<circle cx="1638.68" cy="2093.00" r="14.75" fill="#d55f4c" stroke="#aa4c3c" stroke-opacity="0.55" stroke-width="0.8"/>
<circle cx="1680.57" cy="2093.00" r="15.91" fill="#ca4741" stroke="#a13834" stroke-opacity="0.55" stroke-width="0.8"/>
<circle cx="1722.47" cy="2093.00" r="13.98" fill="#de735c" stroke="#b15c49" stroke-opacity="0.55" stroke-width="0.8"/>
<circle cx="1764.36" cy="2093.00" r="14.75" fill="#d55f4c" stroke="#aa4c3c" stroke-opacity="0.55" stroke-width="0.8"/>
<circle cx="1806.25" cy="2093.00" r="15.91" fill="#ca4741" stroke="#a13834" stroke-opacity="0.55" stroke-width="0.8"/>
<circle cx="1219.75" cy="2134.99" r="13.98" fill="#de735c" stroke="#b15c49" stroke-opacity="0.55" stroke-width="0.8"/>
<circle cx="1261.64" cy="2134.99" r="11.66" fill="#f8a985" stroke="#c6876a" stroke-opacity="0.55" stroke-width="0.8"/>
<circle cx="1303.53" cy="2134.99" r="16.29" fill="#c53f3d" stroke="#9d3230" stroke-opacity="0.55" stroke-width="0.8"/>
<circle cx="1345.43" cy="2134.99" r="12.05" fill="#f6a17e" stroke="#c48064" stroke-opacity="0.55" stroke-width="0.8"/>
<circle cx="1387.32" cy="2134.99" r="11.66" fill="#f8a985" stroke="#c6876a" stroke-opacity="0.55" stroke-width="0.8"/>
<circle cx="1429.21" cy="2134.99" r="12.05" fill="#f6a17e" stroke="#c48064" stroke-opacity="0.55" stroke-width="0.8"/>
<circle cx="1471.11" cy="2134.99" r="15.91" fill="#ca4741" stroke="#a13834" stroke-opacity="0.55" stroke-width="0.8"/>
<circle cx="1513.00" cy="2134.99" r="15.91" fill="#ca4741" stroke="#a13834" stroke-opacity="0.55" stroke-width="0.8"/>
<circle cx="1554.89" cy="2134.99" r="11.66" fill="#f8a985" stroke="#c6876a" stroke-opacity="0.55" stroke-width="0.8"/>
<circle cx="1596.79" cy="2134.99" r="13.59" fill="#e37d63" stroke="#b5644f" stroke-opacity="0.55" stroke-width="0.8"/>
<circle cx="1638.68" cy="2134.99" r="12.43" fill="#f19877" stroke="#c0795f" stroke-opacity="0.55" stroke-width="0.8"/>
<circle cx="1680.57" cy="2134.99" r="12.82" fill="#ed9071" stroke="#bd735a" stroke-opacity="0.55" stroke-width="0.8"/>
<circle cx="1722.47" cy="2134.99" r="12.05" fill="#f6a17e" stroke="#c48064" stroke-opacity="0.55" stroke-width="0.8"/>
<circle cx="1764.36" cy="2134.99" r="13.20" fill="#e8876a" stroke="#b96c54" stroke-opacity="0.55" stroke-width="0.8"/>
<circle cx="1806.25" cy="2134.99" r="14.36" fill="#da6954" stroke="#ae5443" stroke-opacity="0.55" stroke-width="0.8"/>
<circle cx="1219.75" cy="2176.98" r="12.43" fill="#f19877" stroke="#c0795f" stroke-opacity="0.55" stroke-width="0.8"/>
<circle cx="1261.64" cy="2176.98" r="11.28" fill="#faaf8d" stroke="#c88c70" stroke-opacity="0.55" stroke-width="0.8"/>
<circle cx="1303.53" cy="2176.98" r="12.82" fill="#ed9071" stroke="#bd735a" stroke-opacity="0.55" stroke-width="0.8"/>
<circle cx="1345.43" cy="2176.98" r="12.05" fill="#f6a17e" stroke="#c48064" stroke-opacity="0.55" stroke-width="0.8"/>
<circle cx="1387.32" cy="2176.98" r="10.50" fill="#fcbc9d" stroke="#c9967d" stroke-opacity="0.55" stroke-width="0.8"/>
<circle cx="1429.21" cy="2176.98" r="12.43" fill="#f19877" stroke="#c0795f" stroke-opacity="0.55" stroke-width="0.8"/>
<circle cx="1471.11" cy="2176.98" r="8.94" fill="#ffd2ba" stroke="#cca894" stroke-opacity="0.55" stroke-width="0.8"/>
<circle cx="1513.00" cy="2176.98" r="9.35" fill="#ffcdb3" stroke="#cca48f" stroke-opacity="0.55" stroke-width="0.8"/>
<circle cx="1554.89" cy="2176.98" r="10.12" fill="#fdc2a5" stroke="#ca9b84" stroke-opacity="0.55" stroke-width="0.8"/>
<circle cx="1596.79" cy="2176.98" r="10.12" fill="#fdc2a5" stroke="#ca9b84" stroke-opacity="0.55" stroke-width="0.8"/>
<circle cx="1638.68" cy="2176.98" r="10.12" fill="#fdc2a5" stroke="#ca9b84" stroke-opacity="0.55" stroke-width="0.8"/>
<circle cx="1680.57" cy="2176.98" r="12.05" fill="#f6a17e" stroke="#c48064" stroke-opacity="0.55" stroke-width="0.8"/>
<circle cx="1722.47" cy="2176.98" r="8.52" fill="#ffd7c0" stroke="#ccac99" stroke-opacity="0.55" stroke-width="0.8"/>
<circle cx="1764.36" cy="2176.98" r="10.12" fill="#fdc2a5" stroke="#ca9b84" stroke-opacity="0.55" stroke-width="0.8"/>
<circle cx="1806.25" cy="2176.98" r="11.28" fill="#faaf8d" stroke="#c88c70" stroke-opacity="0.55" stroke-width="0.8"/>
<circle cx="1219.75" cy="2218.98" r="9.35" fill="#ffcdb3" stroke="#cca48f" stroke-opacity="0.55" stroke-width="0.8"/>
<circle cx="1261.64" cy="2218.98" r="10.50" fill="#fcbc9d" stroke="#c9967d" stroke-opacity="0.55" stroke-width="0.8"/>
<circle cx="1303.53" cy="2218.98" r="12.43" fill="#f19877" stroke="#c0795f" stroke-opacity="0.55" stroke-width="0.8"/>
<circle cx="1345.43" cy="2218.98" r="12.43" fill="#f19877" stroke="#c0795f" stroke-opacity="0.55" stroke-width="0.8"/>
<circle cx="1387.32" cy="2218.98" r="8.09" fill="#ffdcc7" stroke="#ccb09f" stroke-opacity="0.55" stroke-width="0.8"/>
<circle cx="1429.21" cy="2218.98" r="11.66" fill="#f8a985" stroke="#c6876a" stroke-opacity="0.55" stroke-width="0.8"/>
<circle cx="1471.11" cy="2218.98" r="2.24" fill="#ebe8ea"/>
<circle cx="1513.00" cy="2218.98" r="3.85" fill="#f3ece9"/>
<circle cx="1554.89" cy="2218.98" r="9.35" fill="#ffcdb3" stroke="#cca48f" stroke-opacity="0.55" stroke-width="0.8"/>
<circle cx="1596.79" cy="2218.98" r="7.25" fill="#ffe2d0" stroke="#ccb4a6" stroke-opacity="0.55" stroke-width="0.8"/>
<circle cx="1638.68" cy="2218.98" r="8.52" fill="#ffd7c0" stroke="#ccac99" stroke-opacity="0.55" stroke-width="0.8"/>
<circle cx="1680.57" cy="2218.98" r="10.12" fill="#fdc2a5" stroke="#ca9b84" stroke-opacity="0.55" stroke-width="0.8"/>
<circle cx="1722.47" cy="2218.98" r="7.25" fill="#ffe2d0" stroke="#ccb4a6" stroke-opacity="0.55" stroke-width="0.8"/>
<circle cx="1764.36" cy="2218.98" r="10.12" fill="#fdc2a5" stroke="#ca9b84" stroke-opacity="0.55" stroke-width="0.8"/>
<circle cx="1806.25" cy="2218.98" r="11.28" fill="#faaf8d" stroke="#c88c70" stroke-opacity="0.55" stroke-width="0.8"/>
<circle cx="1219.75" cy="2260.97" r="6.83" fill="#ffe5d5" stroke="#ccb7aa" stroke-opacity="0.55" stroke-width="0.8"/>
<circle cx="1261.64" cy="2260.97" r="5.59" fill="#ffede1" stroke="#ccbdb4" stroke-opacity="0.55" stroke-width="0.8"/>
<circle cx="1303.53" cy="2260.97" r="7.67" fill="#ffdfcc" stroke="#ccb2a3" stroke-opacity="0.55" stroke-width="0.8"/>
<circle cx="1345.43" cy="2260.97" r="4.66" fill="#f7ede7"/>
<circle cx="1387.32" cy="2260.97" r="4.25" fill="#f5ede8"/>
<circle cx="1429.21" cy="2260.97" r="4.66" fill="#f7ede7"/>
<circle cx="1471.11" cy="2260.97" r="9.73" fill="#fec7ac" stroke="#cb9f89" stroke-opacity="0.55" stroke-width="0.8"/>
<circle cx="1513.00" cy="2260.97" r="10.12" fill="#fdc2a5" stroke="#ca9b84" stroke-opacity="0.55" stroke-width="0.8"/>
<circle cx="1554.89" cy="2260.97" r="4.25" fill="#f5ede8"/>
<circle cx="1596.79" cy="2260.97" r="5.18" fill="#ffefe5" stroke="#ccbfb7" stroke-opacity="0.55" stroke-width="0.8"/>
<circle cx="1638.68" cy="2260.97" r="6.00" fill="#ffeade" stroke="#ccbbb1" stroke-opacity="0.55" stroke-width="0.8"/>
<circle cx="1680.57" cy="2260.97" r="8.94" fill="#ffd2ba" stroke="#cca894" stroke-opacity="0.55" stroke-width="0.8"/>
<circle cx="1722.47" cy="2260.97" r="2.24" fill="#ebe8ea"/>
<circle cx="1764.36" cy="2260.97" r="4.77" fill="#fff1e8" stroke="#ccc0b9" stroke-opacity="0.55" stroke-width="0.8"/>
<circle cx="1806.25" cy="2260.97" r="8.52" fill="#ffd7c0" stroke="#ccac99" stroke-opacity="0.55" stroke-width="0.8"/>
<circle cx="1219.75" cy="2302.96" r="7.67" fill="#d1e8f4" stroke="#a7b9c3" stroke-opacity="0.55" stroke-width="0.8"/>
<circle cx="1261.64" cy="2302.96" r="6.42" fill="#ddedf7" stroke="#b0bdc5" stroke-opacity="0.55" stroke-width="0.8"/>
<circle cx="1303.53" cy="2302.96" r="3.04" fill="#e9ecee"/>
<circle cx="1345.43" cy="2302.96" r="3.85" fill="#e9edf2"/>
<circle cx="1387.32" cy="2302.96" r="7.25" fill="#d4eaf5" stroke="#a9bbc4" stroke-opacity="0.55" stroke-width="0.8"/>
<circle cx="1429.21" cy="2302.96" r="4.77" fill="#eaf4fa" stroke="#bbc3c8" stroke-opacity="0.55" stroke-width="0.8"/>
<circle cx="1471.11" cy="2302.96" r="0.90" fill="#e4e4e6"/>
<circle cx="1513.00" cy="2302.96" r="3.44" fill="#e9edf1"/>
<circle cx="1554.89" cy="2302.96" r="7.67" fill="#d1e8f4" stroke="#a7b9c3" stroke-opacity="0.55" stroke-width="0.8"/>
<circle cx="1596.79" cy="2302.96" r="5.59" fill="#e4f1f9" stroke="#b6c0c7" stroke-opacity="0.55" stroke-width="0.8"/>
<circle cx="1638.68" cy="2302.96" r="8.09" fill="#cce6f4" stroke="#a3b8c3" stroke-opacity="0.55" stroke-width="0.8"/>
<circle cx="1680.57" cy="2302.96" r="3.44" fill="#e9edf1"/>
<circle cx="1722.47" cy="2302.96" r="8.52" fill="#c5e3f2" stroke="#9db5c1" stroke-opacity="0.55" stroke-width="0.8"/>
<circle cx="1764.36" cy="2302.96" r="7.67" fill="#d1e8f4" stroke="#a7b9c3" stroke-opacity="0.55" stroke-width="0.8"/>
<circle cx="1806.25" cy="2302.96" r="3.85" fill="#e9edf2"/>
<circle cx="1219.75" cy="2344.96" r="12.43" fill="#f19877" stroke="#c0795f" stroke-opacity="0.55" stroke-width="0.8"/>
<circle cx="1261.64" cy="2344.96" r="13.59" fill="#e37d63" stroke="#b5644f" stroke-opacity="0.55" stroke-width="0.8"/>
<circle cx="1303.53" cy="2344.96" r="12.05" fill="#f6a17e" stroke="#c48064" stroke-opacity="0.55" stroke-width="0.8"/>
<circle cx="1345.43" cy="2344.96" r="12.43" fill="#f19877" stroke="#c0795f" stroke-opacity="0.55" stroke-width="0.8"/>
<circle cx="1387.32" cy="2344.96" r="12.05" fill="#f6a17e" stroke="#c48064" stroke-opacity="0.55" stroke-width="0.8"/>
<circle cx="1429.21" cy="2344.96" r="13.98" fill="#de735c" stroke="#b15c49" stroke-opacity="0.55" stroke-width="0.8"/>
<circle cx="1471.11" cy="2344.96" r="8.94" fill="#ffd2ba" stroke="#cca894" stroke-opacity="0.55" stroke-width="0.8"/>
<circle cx="1513.00" cy="2344.96" r="10.12" fill="#fdc2a5" stroke="#ca9b84" stroke-opacity="0.55" stroke-width="0.8"/>
<circle cx="1554.89" cy="2344.96" r="11.66" fill="#f8a985" stroke="#c6876a" stroke-opacity="0.55" stroke-width="0.8"/>
<circle cx="1596.79" cy="2344.96" r="10.50" fill="#fcbc9d" stroke="#c9967d" stroke-opacity="0.55" stroke-width="0.8"/>
<circle cx="1638.68" cy="2344.96" r="10.89" fill="#fbb696" stroke="#c89178" stroke-opacity="0.55" stroke-width="0.8"/>
<circle cx="1680.57" cy="2344.96" r="12.82" fill="#ed9071" stroke="#bd735a" stroke-opacity="0.55" stroke-width="0.8"/>
<circle cx="1722.47" cy="2344.96" r="11.66" fill="#f8a985" stroke="#c6876a" stroke-opacity="0.55" stroke-width="0.8"/>
<circle cx="1764.36" cy="2344.96" r="11.28" fill="#faaf8d" stroke="#c88c70" stroke-opacity="0.55" stroke-width="0.8"/>
<circle cx="1806.25" cy="2344.96" r="13.59" fill="#e37d63" stroke="#b5644f" stroke-opacity="0.55" stroke-width="0.8"/>
<circle cx="1219.75" cy="2386.95" r="10.12" fill="#a9d5ed" stroke="#87aabd" stroke-opacity="0.55" stroke-width="0.8"/>
<circle cx="1261.64" cy="2386.95" r="8.94" fill="#bedff0" stroke="#98b2c0" stroke-opacity="0.55" stroke-width="0.8"/>
<circle cx="1303.53" cy="2386.95" r="10.50" fill="#a2d1ea" stroke="#81a7bb" stroke-opacity="0.55" stroke-width="0.8"/>
<circle cx="1345.43" cy="2386.95" r="7.25" fill="#d4eaf5" stroke="#a9bbc4" stroke-opacity="0.55" stroke-width="0.8"/>
<circle cx="1387.32" cy="2386.95" r="10.50" fill="#a2d1ea" stroke="#81a7bb" stroke-opacity="0.55" stroke-width="0.8"/>
<circle cx="1429.21" cy="2386.95" r="7.67" fill="#d1e8f4" stroke="#a7b9c3" stroke-opacity="0.55" stroke-width="0.8"/>
<circle cx="1471.11" cy="2386.95" r="10.50" fill="#a2d1ea" stroke="#81a7bb" stroke-opacity="0.55" stroke-width="0.8"/>
<circle cx="1513.00" cy="2386.95" r="11.66" fill="#8ac5e3" stroke="#6e9db5" stroke-opacity="0.55" stroke-width="0.8"/>
<circle cx="1554.89" cy="2386.95" r="7.67" fill="#d1e8f4" stroke="#a7b9c3" stroke-opacity="0.55" stroke-width="0.8"/>
<circle cx="1596.79" cy="2386.95" r="12.05" fill="#81bfdf" stroke="#6798b2" stroke-opacity="0.55" stroke-width="0.8"/>
<circle cx="1638.68" cy="2386.95" r="10.89" fill="#9acfe8" stroke="#7ba5b9" stroke-opacity="0.55" stroke-width="0.8"/>
<circle cx="1680.57" cy="2386.95" r="10.12" fill="#a9d5ed" stroke="#87aabd" stroke-opacity="0.55" stroke-width="0.8"/>
<circle cx="1722.47" cy="2386.95" r="11.66" fill="#8ac5e3" stroke="#6e9db5" stroke-opacity="0.55" stroke-width="0.8"/>
<circle cx="1764.36" cy="2386.95" r="10.50" fill="#a2d1ea" stroke="#81a7bb" stroke-opacity="0.55" stroke-width="0.8"/>
<circle cx="1806.25" cy="2386.95" r="8.09" fill="#cce6f4" stroke="#a3b8c3" stroke-opacity="0.55" stroke-width="0.8"/>
<circle cx="1219.75" cy="2428.94" r="0.90" fill="#e4e4e6"/>
<circle cx="1261.64" cy="2428.94" r="3.04" fill="#efebea"/>
<circle cx="1345.43" cy="2428.94" r="4.25" fill="#f5ede8"/>
<circle cx="1387.32" cy="2428.94" r="3.04" fill="#efebea"/>
<circle cx="1429.21" cy="2428.94" r="4.66" fill="#e9eff4"/>
<circle cx="1471.11" cy="2428.94" r="5.59" fill="#ffede1" stroke="#ccbdb4" stroke-opacity="0.55" stroke-width="0.8"/>
<circle cx="1513.00" cy="2428.94" r="4.77" fill="#fff1e8" stroke="#ccc0b9" stroke-opacity="0.55" stroke-width="0.8"/>
<circle cx="1554.89" cy="2428.94" r="6.42" fill="#ddedf7" stroke="#b0bdc5" stroke-opacity="0.55" stroke-width="0.8"/>
<circle cx="1596.79" cy="2428.94" r="1.45" fill="#e7e6e8"/>
<circle cx="1638.68" cy="2428.94" r="7.67" fill="#d1e8f4" stroke="#a7b9c3" stroke-opacity="0.55" stroke-width="0.8"/>
<circle cx="1680.57" cy="2428.94" r="4.66" fill="#f7ede7"/>
<circle cx="1722.47" cy="2428.94" r="5.18" fill="#e7f3fa" stroke="#b8c2c8" stroke-opacity="0.55" stroke-width="0.8"/>
<circle cx="1764.36" cy="2428.94" r="5.18" fill="#e7f3fa" stroke="#b8c2c8" stroke-opacity="0.55" stroke-width="0.8"/>
<circle cx="1806.25" cy="2428.94" r="4.66" fill="#e9eff4"/>
<circle cx="1219.75" cy="2470.94" r="8.52" fill="#c5e3f2" stroke="#9db5c1" stroke-opacity="0.55" stroke-width="0.8"/>
<circle cx="1261.64" cy="2470.94" r="6.42" fill="#ddedf7" stroke="#b0bdc5" stroke-opacity="0.55" stroke-width="0.8"/>
<circle cx="1303.53" cy="2470.94" r="7.67" fill="#d1e8f4" stroke="#a7b9c3" stroke-opacity="0.55" stroke-width="0.8"/>
<circle cx="1345.43" cy="2470.94" r="7.25" fill="#d4eaf5" stroke="#a9bbc4" stroke-opacity="0.55" stroke-width="0.8"/>
<circle cx="1387.32" cy="2470.94" r="8.09" fill="#cce6f4" stroke="#a3b8c3" stroke-opacity="0.55" stroke-width="0.8"/>
<circle cx="1429.21" cy="2470.94" r="0.90" fill="#e4e4e6"/>
<circle cx="1513.00" cy="2470.94" r="1.06" fill="#e5e4e6"/>
<circle cx="1554.89" cy="2470.94" r="6.83" fill="#d9ecf7" stroke="#adbcc5" stroke-opacity="0.55" stroke-width="0.8"/>
<circle cx="1596.79" cy="2470.94" r="4.77" fill="#eaf4fa" stroke="#bbc3c8" stroke-opacity="0.55" stroke-width="0.8"/>
<circle cx="1638.68" cy="2470.94" r="5.59" fill="#e4f1f9" stroke="#b6c0c7" stroke-opacity="0.55" stroke-width="0.8"/>
<circle cx="1680.57" cy="2470.94" r="5.59" fill="#e4f1f9" stroke="#b6c0c7" stroke-opacity="0.55" stroke-width="0.8"/>
<circle cx="1722.47" cy="2470.94" r="7.67" fill="#d1e8f4" stroke="#a7b9c3" stroke-opacity="0.55" stroke-width="0.8"/>
<circle cx="1764.36" cy="2470.94" r="7.25" fill="#d4eaf5" stroke="#a9bbc4" stroke-opacity="0.55" stroke-width="0.8"/>
<circle cx="1806.25" cy="2470.94" r="8.09" fill="#cce6f4" stroke="#a3b8c3" stroke-opacity="0.55" stroke-width="0.8"/>
<circle cx="1219.75" cy="2512.93" r="4.77" fill="#fff1e8" stroke="#ccc0b9" stroke-opacity="0.55" stroke-width="0.8"/>
<circle cx="1261.64" cy="2512.93" r="4.77" fill="#fff1e8" stroke="#ccc0b9" stroke-opacity="0.55" stroke-width="0.8"/>
<circle cx="1303.53" cy="2512.93" r="7.67" fill="#ffdfcc" stroke="#ccb2a3" stroke-opacity="0.55" stroke-width="0.8"/>
<circle cx="1345.43" cy="2512.93" r="8.52" fill="#ffd7c0" stroke="#ccac99" stroke-opacity="0.55" stroke-width="0.8"/>
<circle cx="1387.32" cy="2512.93" r="5.18" fill="#ffefe5" stroke="#ccbfb7" stroke-opacity="0.55" stroke-width="0.8"/>
<circle cx="1429.21" cy="2512.93" r="4.66" fill="#f7ede7"/>
<circle cx="1471.11" cy="2512.93" r="8.94" fill="#ffd2ba" stroke="#cca894" stroke-opacity="0.55" stroke-width="0.8"/>
<circle cx="1513.00" cy="2512.93" r="7.25" fill="#ffe2d0" stroke="#ccb4a6" stroke-opacity="0.55" stroke-width="0.8"/>
<circle cx="1554.89" cy="2512.93" r="5.59" fill="#e4f1f9" stroke="#b6c0c7" stroke-opacity="0.55" stroke-width="0.8"/>
<circle cx="1596.79" cy="2512.93" r="4.66" fill="#f7ede7"/>
<circle cx="1638.68" cy="2512.93" r="3.85" fill="#f3ece9"/>
<circle cx="1680.57" cy="2512.93" r="8.94" fill="#ffd2ba" stroke="#cca894" stroke-opacity="0.55" stroke-width="0.8"/>
<circle cx="1722.47" cy="2512.93" r="1.45" fill="#e7e6e8"/>
<circle cx="1764.36" cy="2512.93" r="2.24" fill="#ebe8ea"/>
<circle cx="1806.25" cy="2512.93" r="6.00" fill="#ffeade" stroke="#ccbbb1" stroke-opacity="0.55" stroke-width="0.8"/>
<circle cx="1219.75" cy="2554.92" r="1.06" fill="#e5e4e6"/>
<circle cx="1261.64" cy="2554.92" r="1.45" fill="#e7e6e8"/>
<circle cx="1303.53" cy="2554.92" r="2.24" fill="#ebe8ea"/>
<circle cx="1345.43" cy="2554.92" r="4.77" fill="#fff1e8" stroke="#ccc0b9" stroke-opacity="0.55" stroke-width="0.8"/>
<circle cx="1387.32" cy="2554.92" r="4.25" fill="#e9eef3"/>
<circle cx="1429.21" cy="2554.92" r="4.25" fill="#f5ede8"/>
<circle cx="1471.11" cy="2554.92" r="0.90" fill="#e4e4e6"/>
<circle cx="1513.00" cy="2554.92" r="2.64" fill="#edeaea"/>
<circle cx="1554.89" cy="2554.92" r="8.09" fill="#cce6f4" stroke="#a3b8c3" stroke-opacity="0.55" stroke-width="0.8"/>
<circle cx="1596.79" cy="2554.92" r="3.44" fill="#f1ecea"/>
<circle cx="1638.68" cy="2554.92" r="5.18" fill="#e7f3fa" stroke="#b8c2c8" stroke-opacity="0.55" stroke-width="0.8"/>
<circle cx="1680.57" cy="2554.92" r="4.77" fill="#fff1e8" stroke="#ccc0b9" stroke-opacity="0.55" stroke-width="0.8"/>
<circle cx="1722.47" cy="2554.92" r="6.42" fill="#ddedf7" stroke="#b0bdc5" stroke-opacity="0.55" stroke-width="0.8"/>
<circle cx="1764.36" cy="2554.92" r="6.83" fill="#d9ecf7" stroke="#adbcc5" stroke-opacity="0.55" stroke-width="0.8"/>
<circle cx="1806.25" cy="2554.92" r="2.64" fill="#edeaea"/>
<circle cx="1219.75" cy="2596.92" r="13.20" fill="#e8876a" stroke="#b96c54" stroke-opacity="0.55" stroke-width="0.8"/>
<circle cx="1261.64" cy="2596.92" r="12.82" fill="#ed9071" stroke="#bd735a" stroke-opacity="0.55" stroke-width="0.8"/>
<circle cx="1303.53" cy="2596.92" r="7.25" fill="#ffe2d0" stroke="#ccb4a6" stroke-opacity="0.55" stroke-width="0.8"/>
<circle cx="1345.43" cy="2596.92" r="10.50" fill="#fcbc9d" stroke="#c9967d" stroke-opacity="0.55" stroke-width="0.8"/>
<circle cx="1387.32" cy="2596.92" r="12.05" fill="#f6a17e" stroke="#c48064" stroke-opacity="0.55" stroke-width="0.8"/>
<circle cx="1429.21" cy="2596.92" r="11.66" fill="#f8a985" stroke="#c6876a" stroke-opacity="0.55" stroke-width="0.8"/>
<circle cx="1471.11" cy="2596.92" r="14.36" fill="#da6954" stroke="#ae5443" stroke-opacity="0.55" stroke-width="0.8"/>
<circle cx="1513.00" cy="2596.92" r="13.59" fill="#e37d63" stroke="#b5644f" stroke-opacity="0.55" stroke-width="0.8"/>
<circle cx="1554.89" cy="2596.92" r="7.67" fill="#ffdfcc" stroke="#ccb2a3" stroke-opacity="0.55" stroke-width="0.8"/>
<circle cx="1596.79" cy="2596.92" r="15.13" fill="#d25749" stroke="#a8453a" stroke-opacity="0.55" stroke-width="0.8"/>
<circle cx="1638.68" cy="2596.92" r="13.20" fill="#e8876a" stroke="#b96c54" stroke-opacity="0.55" stroke-width="0.8"/>
<circle cx="1680.57" cy="2596.92" r="14.36" fill="#da6954" stroke="#ae5443" stroke-opacity="0.55" stroke-width="0.8"/>
<circle cx="1722.47" cy="2596.92" r="10.12" fill="#fdc2a5" stroke="#ca9b84" stroke-opacity="0.55" stroke-width="0.8"/>
<circle cx="1764.36" cy="2596.92" r="11.28" fill="#faaf8d" stroke="#c88c70" stroke-opacity="0.55" stroke-width="0.8"/>
<circle cx="1806.25" cy="2596.92" r="11.28" fill="#faaf8d" stroke="#c88c70" stroke-opacity="0.55" stroke-width="0.8"/>
<circle cx="1219.75" cy="2638.91" r="1.45" fill="#e7e6e8"/>
<circle cx="1261.64" cy="2638.91" r="3.85" fill="#e9edf2"/>
<circle cx="1303.53" cy="2638.91" r="1.85" fill="#e9e7e9"/>
<circle cx="1345.43" cy="2638.91" r="7.25" fill="#d4eaf5" stroke="#a9bbc4" stroke-opacity="0.55" stroke-width="0.8"/>
<circle cx="1387.32" cy="2638.91" r="4.25" fill="#e9eef3"/>
<circle cx="1429.21" cy="2638.91" r="4.66" fill="#f7ede7"/>
<circle cx="1471.11" cy="2638.91" r="2.64" fill="#edeaea"/>
<circle cx="1513.00" cy="2638.91" r="4.25" fill="#f5ede8"/>
<circle cx="1554.89" cy="2638.91" r="3.85" fill="#e9edf2"/>
<circle cx="1596.79" cy="2638.91" r="5.18" fill="#e7f3fa" stroke="#b8c2c8" stroke-opacity="0.55" stroke-width="0.8"/>
<circle cx="1638.68" cy="2638.91" r="1.06" fill="#e5e4e6"/>
<circle cx="1680.57" cy="2638.91" r="0.90" fill="#e4e4e6"/>
<circle cx="1722.47" cy="2638.91" r="8.94" fill="#bedff0" stroke="#98b2c0" stroke-opacity="0.55" stroke-width="0.8"/>
<circle cx="1764.36" cy="2638.91" r="4.77" fill="#eaf4fa" stroke="#bbc3c8" stroke-opacity="0.55" stroke-width="0.8"/>
<circle cx="1806.25" cy="2638.91" r="3.04" fill="#efebea"/>
<circle cx="1219.75" cy="2680.90" r="4.66" fill="#e9eff4"/>
<circle cx="1261.64" cy="2680.90" r="3.04" fill="#efebea"/>
<circle cx="1303.53" cy="2680.90" r="2.64" fill="#edeaea"/>
<circle cx="1345.43" cy="2680.90" r="3.04" fill="#efebea"/>
<circle cx="1387.32" cy="2680.90" r="0.90" fill="#e4e4e6"/>
<circle cx="1429.21" cy="2680.90" r="2.24" fill="#ebe8ea"/>
<circle cx="1471.11" cy="2680.90" r="3.44" fill="#f1ecea"/>
<circle cx="1513.00" cy="2680.90" r="5.18" fill="#e7f3fa" stroke="#b8c2c8" stroke-opacity="0.55" stroke-width="0.8"/>
<circle cx="1554.89" cy="2680.90" r="6.83" fill="#d9ecf7" stroke="#adbcc5" stroke-opacity="0.55" stroke-width="0.8"/>
<circle cx="1596.79" cy="2680.90" r="4.77" fill="#eaf4fa" stroke="#bbc3c8" stroke-opacity="0.55" stroke-width="0.8"/>
<circle cx="1638.68" cy="2680.90" r="6.83" fill="#d9ecf7" stroke="#adbcc5" stroke-opacity="0.55" stroke-width="0.8"/>
<circle cx="1680.57" cy="2680.90" r="2.24" fill="#ebe8ea"/>
<circle cx="1722.47" cy="2680.90" r="4.77" fill="#eaf4fa" stroke="#bbc3c8" stroke-opacity="0.55" stroke-width="0.8"/>
<circle cx="1764.36" cy="2680.90" r="6.00" fill="#e0eff8" stroke="#b3bfc6" stroke-opacity="0.55" stroke-width="0.8"/>
<circle cx="1806.25" cy="2680.90" r="5.59" fill="#e4f1f9" stroke="#b6c0c7" stroke-opacity="0.55" stroke-width="0.8"/>
<text transform="translate(1191.10,2096.60) scale(0.962,1)" text-anchor="end" font-size="16.0" fill="#1e1e1e" stroke="#1e1e1e" stroke-width="0.25">Bacteroides</text>
<text transform="translate(1191.10,2138.59) scale(0.962,1)" text-anchor="end" font-size="16.0" fill="#1e1e1e" stroke="#1e1e1e" stroke-width="0.25">Parabacteroides</text>
<text transform="translate(1191.10,2180.58) scale(0.962,1)" text-anchor="end" font-size="16.0" fill="#1e1e1e" stroke="#1e1e1e" stroke-width="0.25">UBA1819</text>
<text transform="translate(1191.10,2222.58) scale(0.962,1)" text-anchor="end" font-size="16.0" fill="#1e1e1e" stroke="#1e1e1e" stroke-width="0.25">Hungatella</text>
<text transform="translate(1191.10,2264.57) scale(0.962,1)" text-anchor="end" font-size="16.0" fill="#1e1e1e" stroke="#1e1e1e" stroke-width="0.25">[Clostridium] innocuum group</text>
<text transform="translate(1191.10,2306.56) scale(0.962,1)" text-anchor="end" font-size="16.0" fill="#1e1e1e" stroke="#1e1e1e" stroke-width="0.25">Roseburia</text>
<text transform="translate(1191.10,2348.56) scale(0.962,1)" text-anchor="end" font-size="16.0" fill="#1e1e1e" stroke="#1e1e1e" stroke-width="0.25">Lachnospiraceae UCG-004</text>
<text transform="translate(1191.10,2390.55) scale(0.962,1)" text-anchor="end" font-size="16.0" fill="#1e1e1e" stroke="#1e1e1e" stroke-width="0.25">Veillonella</text>
<text transform="translate(1191.10,2432.54) scale(0.962,1)" text-anchor="end" font-size="16.0" fill="#1e1e1e" stroke="#1e1e1e" stroke-width="0.25">Lachnospira</text>
<text transform="translate(1191.10,2474.54) scale(0.962,1)" text-anchor="end" font-size="16.0" fill="#1e1e1e" stroke="#1e1e1e" stroke-width="0.25">Streptococcus</text>
<text transform="translate(1191.10,2516.53) scale(0.962,1)" text-anchor="end" font-size="16.0" fill="#1e1e1e" stroke="#1e1e1e" stroke-width="0.25">Ruminococcus</text>
<text transform="translate(1191.10,2558.52) scale(0.962,1)" text-anchor="end" font-size="16.0" fill="#1e1e1e" stroke="#1e1e1e" stroke-width="0.25">Agathobacter</text>
<text transform="translate(1191.10,2600.52) scale(0.962,1)" text-anchor="end" font-size="16.0" fill="#1e1e1e" stroke="#1e1e1e" stroke-width="0.25">Odoribacter</text>
<text transform="translate(1191.10,2642.51) scale(0.962,1)" text-anchor="end" font-size="16.0" fill="#1e1e1e" stroke="#1e1e1e" stroke-width="0.25">Erysipelatoclostridium</text>
<text transform="translate(1191.10,2684.50) scale(0.962,1)" text-anchor="end" font-size="16.0" fill="#1e1e1e" stroke="#1e1e1e" stroke-width="0.25">[Eubacterium] eligens group</text>
<text transform="translate(1225.35,2066.10) rotate(-90) scale(0.955,1)" font-size="16.0" fill="#1e1e1e" stroke="#1e1e1e" stroke-width="0.25">VC_117_5</text>
<text transform="translate(1267.24,2066.10) rotate(-90) scale(0.955,1)" font-size="16.0" fill="#1e1e1e" stroke="#1e1e1e" stroke-width="0.25">VC_117_2</text>
<text transform="translate(1309.13,2066.10) rotate(-90) scale(0.955,1)" font-size="16.0" fill="#1e1e1e" stroke="#1e1e1e" stroke-width="0.25">VC_612_0</text>
<text transform="translate(1351.03,2066.10) rotate(-90) scale(0.955,1)" font-size="16.0" fill="#1e1e1e" stroke="#1e1e1e" stroke-width="0.25">VC_390_0</text>
<text transform="translate(1392.92,2066.10) rotate(-90) scale(0.955,1)" font-size="16.0" fill="#1e1e1e" stroke="#1e1e1e" stroke-width="0.25">VC_502_1</text>
<text transform="translate(1434.81,2066.10) rotate(-90) scale(0.955,1)" font-size="16.0" fill="#1e1e1e" stroke="#1e1e1e" stroke-width="0.25">VC_611_1</text>
<text transform="translate(1476.71,2066.10) rotate(-90) scale(0.955,1)" font-size="16.0" fill="#1e1e1e" stroke="#1e1e1e" stroke-width="0.25">VC_122_0</text>
<text transform="translate(1518.60,2066.10) rotate(-90) scale(0.955,1)" font-size="16.0" fill="#1e1e1e" stroke="#1e1e1e" stroke-width="0.25">VC_241_3</text>
<text transform="translate(1560.49,2066.10) rotate(-90) scale(0.955,1)" font-size="16.0" fill="#1e1e1e" stroke="#1e1e1e" stroke-width="0.25">VC_385_0</text>
<text transform="translate(1602.39,2066.10) rotate(-90) scale(0.955,1)" font-size="16.0" fill="#1e1e1e" stroke="#1e1e1e" stroke-width="0.25">G23J_7937V__8187</text>
<text transform="translate(1644.28,2066.10) rotate(-90) scale(0.955,1)" font-size="16.0" fill="#1e1e1e" stroke="#1e1e1e" stroke-width="0.25">VC_1254_0</text>
<text transform="translate(1686.17,2066.10) rotate(-90) scale(0.955,1)" font-size="16.0" fill="#1e1e1e" stroke="#1e1e1e" stroke-width="0.25">VC_117_7</text>
<text transform="translate(1728.07,2066.10) rotate(-90) scale(0.955,1)" font-size="16.0" fill="#1e1e1e" stroke="#1e1e1e" stroke-width="0.25">VC_470_0</text>
<text transform="translate(1769.96,2066.10) rotate(-90) scale(0.955,1)" font-size="16.0" fill="#1e1e1e" stroke="#1e1e1e" stroke-width="0.25">VC_470_1</text>
<text transform="translate(1811.85,2066.10) rotate(-90) scale(0.955,1)" font-size="16.0" fill="#1e1e1e" stroke="#1e1e1e" stroke-width="0.25">VC_191_0</text>
<defs><linearGradient id="cb" x1="0" y1="1" x2="0" y2="0">
<stop offset="0.00" stop-color="#053061"/>
<stop offset="0.01" stop-color="#083569"/>
<stop offset="0.02" stop-color="#0b3b70"/>
<stop offset="0.03" stop-color="#0d4078"/>
<stop offset="0.04" stop-color="#10467f"/>
<stop offset="0.05" stop-color="#134b86"/>
<stop offset="0.06" stop-color="#16508e"/>
<stop offset="0.07" stop-color="#195696"/>
<stop offset="0.08" stop-color="#1b5b9d"/>
<stop offset="0.09" stop-color="#1e61a4"/>
<stop offset="0.10" stop-color="#2166ac"/>
<stop offset="0.11" stop-color="#246aae"/>
<stop offset="0.12" stop-color="#286fb1"/>
<stop offset="0.13" stop-color="#2b74b3"/>
<stop offset="0.14" stop-color="#2f78b5"/>
<stop offset="0.15" stop-color="#327db8"/>
<stop offset="0.16" stop-color="#3581ba"/>
<stop offset="0.17" stop-color="#3986bc"/>
<stop offset="0.18" stop-color="#3c8abe"/>
<stop offset="0.19" stop-color="#408ec1"/>
<stop offset="0.20" stop-color="#4393c3"/>
<stop offset="0.21" stop-color="#4b98c6"/>
<stop offset="0.22" stop-color="#539dc8"/>
<stop offset="0.23" stop-color="#5ba2cb"/>
<stop offset="0.24" stop-color="#63a7ce"/>
<stop offset="0.25" stop-color="#6aacd0"/>
<stop offset="0.26" stop-color="#72b1d3"/>
<stop offset="0.27" stop-color="#7ab6d6"/>
<stop offset="0.28" stop-color="#82bbd9"/>
<stop offset="0.29" stop-color="#8ac0db"/>
<stop offset="0.30" stop-color="#92c5de"/>
<stop offset="0.31" stop-color="#98c8e0"/>
<stop offset="0.32" stop-color="#9fcbe2"/>
<stop offset="0.33" stop-color="#a5cfe3"/>
<stop offset="0.34" stop-color="#abd2e5"/>
<stop offset="0.35" stop-color="#b2d5e7"/>
<stop offset="0.36" stop-color="#b8d8e9"/>
<stop offset="0.37" stop-color="#bedbeb"/>
<stop offset="0.38" stop-color="#c4dfec"/>
<stop offset="0.39" stop-color="#cbe2ee"/>
<stop offset="0.40" stop-color="#d1e5f0"/>
<stop offset="0.41" stop-color="#d6e8f2"/>
<stop offset="0.42" stop-color="#daeaf3"/>
<stop offset="0.43" stop-color="#dfedf4"/>
<stop offset="0.44" stop-color="#e3eff6"/>
<stop offset="0.45" stop-color="#e8f2f8"/>
<stop offset="0.46" stop-color="#edf5f9"/>
<stop offset="0.47" stop-color="#f1f7fa"/>
<stop offset="0.48" stop-color="#f6fafc"/>
<stop offset="0.49" stop-color="#fafcfe"/>
<stop offset="0.50" stop-color="#ffffff"/>
<stop offset="0.51" stop-color="#fffbf9"/>
<stop offset="0.52" stop-color="#fff8f4"/>
<stop offset="0.53" stop-color="#fef4ee"/>
<stop offset="0.54" stop-color="#fef1e9"/>
<stop offset="0.55" stop-color="#feede3"/>
<stop offset="0.56" stop-color="#fee9dd"/>
<stop offset="0.57" stop-color="#fee6d8"/>
<stop offset="0.58" stop-color="#fde2d2"/>
<stop offset="0.59" stop-color="#fddfcd"/>
<stop offset="0.60" stop-color="#fddbc7"/>
<stop offset="0.61" stop-color="#fcd6c0"/>
<stop offset="0.62" stop-color="#fbd0b9"/>
<stop offset="0.63" stop-color="#facbb2"/>
<stop offset="0.64" stop-color="#f9c5ab"/>
<stop offset="0.65" stop-color="#f8c0a4"/>
<stop offset="0.66" stop-color="#f8bb9e"/>
<stop offset="0.67" stop-color="#f7b597"/>
<stop offset="0.68" stop-color="#f6b090"/>
<stop offset="0.69" stop-color="#f5aa89"/>
<stop offset="0.70" stop-color="#f4a582"/>
<stop offset="0.71" stop-color="#f19e7d"/>
<stop offset="0.72" stop-color="#ee9777"/>
<stop offset="0.73" stop-color="#eb9072"/>
<stop offset="0.74" stop-color="#e8896d"/>
<stop offset="0.75" stop-color="#e58268"/>
<stop offset="0.76" stop-color="#e27c62"/>
<stop offset="0.77" stop-color="#df755d"/>
<stop offset="0.78" stop-color="#dc6e58"/>
<stop offset="0.79" stop-color="#d96752"/>
<stop offset="0.80" stop-color="#d6604d"/>
<stop offset="0.81" stop-color="#d2594a"/>
<stop offset="0.82" stop-color="#cf5246"/>
<stop offset="0.83" stop-color="#cb4a43"/>
<stop offset="0.84" stop-color="#c8433f"/>
<stop offset="0.85" stop-color="#c43c3c"/>
<stop offset="0.86" stop-color="#c03539"/>
<stop offset="0.87" stop-color="#bd2e35"/>
<stop offset="0.88" stop-color="#b92632"/>
<stop offset="0.89" stop-color="#b61f2e"/>
<stop offset="0.90" stop-color="#b2182b"/>
<stop offset="0.91" stop-color="#aa162a"/>
<stop offset="0.92" stop-color="#a31329"/>
<stop offset="0.93" stop-color="#9b1127"/>
<stop offset="0.94" stop-color="#940e26"/>
<stop offset="0.95" stop-color="#8d0c25"/>
<stop offset="0.96" stop-color="#850a24"/>
<stop offset="0.97" stop-color="#7e0723"/>
<stop offset="0.98" stop-color="#760521"/>
<stop offset="0.99" stop-color="#6e0220"/>
<stop offset="1.00" stop-color="#67001f"/>
</linearGradient></defs>
<rect x="1838.3" y="1130.3" width="24.2" height="650.5" fill="url(#cb)" stroke="#333" stroke-width="0.8"/>
<line x1="1862.5" y1="1130.3" x2="1867.0" y2="1130.3" stroke="#333" stroke-width="1.2"/>
<text x="1892.5" y="1134.6" text-anchor="middle" font-size="12.5" fill="#333">1</text>
<line x1="1862.5" y1="1195.3" x2="1867.0" y2="1195.3" stroke="#333" stroke-width="1.2"/>
<text x="1892.5" y="1199.6" text-anchor="middle" font-size="12.5" fill="#333">0.8</text>
<line x1="1862.5" y1="1260.4" x2="1867.0" y2="1260.4" stroke="#333" stroke-width="1.2"/>
<text x="1892.5" y="1264.7" text-anchor="middle" font-size="12.5" fill="#333">0.6</text>
<line x1="1862.5" y1="1325.5" x2="1867.0" y2="1325.5" stroke="#333" stroke-width="1.2"/>
<text x="1892.5" y="1329.8" text-anchor="middle" font-size="12.5" fill="#333">0.4</text>
<line x1="1862.5" y1="1390.5" x2="1867.0" y2="1390.5" stroke="#333" stroke-width="1.2"/>
<text x="1892.5" y="1394.8" text-anchor="middle" font-size="12.5" fill="#333">0.2</text>
<line x1="1862.5" y1="1455.5" x2="1867.0" y2="1455.5" stroke="#333" stroke-width="1.2"/>
<text x="1892.5" y="1459.8" text-anchor="middle" font-size="12.5" fill="#333">0</text>
<line x1="1862.5" y1="1520.6" x2="1867.0" y2="1520.6" stroke="#333" stroke-width="1.2"/>
<text x="1892.5" y="1524.9" text-anchor="middle" font-size="12.5" fill="#333">-0.2</text>
<line x1="1862.5" y1="1585.7" x2="1867.0" y2="1585.7" stroke="#333" stroke-width="1.2"/>
<text x="1892.5" y="1590.0" text-anchor="middle" font-size="12.5" fill="#333">-0.4</text>
<line x1="1862.5" y1="1650.7" x2="1867.0" y2="1650.7" stroke="#333" stroke-width="1.2"/>
<text x="1892.5" y="1655.0" text-anchor="middle" font-size="12.5" fill="#333">-0.6</text>
<line x1="1862.5" y1="1715.8" x2="1867.0" y2="1715.8" stroke="#333" stroke-width="1.2"/>
<text x="1892.5" y="1720.0" text-anchor="middle" font-size="12.5" fill="#333">-0.8</text>
<line x1="1862.5" y1="1780.8" x2="1867.0" y2="1780.8" stroke="#333" stroke-width="1.2"/>
<text x="1892.5" y="1785.1" text-anchor="middle" font-size="12.5" fill="#333">-1</text>
<text transform="translate(1935,1457) rotate(90)" text-anchor="middle" font-size="33" fill="#111">Pearson’s correlation</text>
</svg></body></html>
